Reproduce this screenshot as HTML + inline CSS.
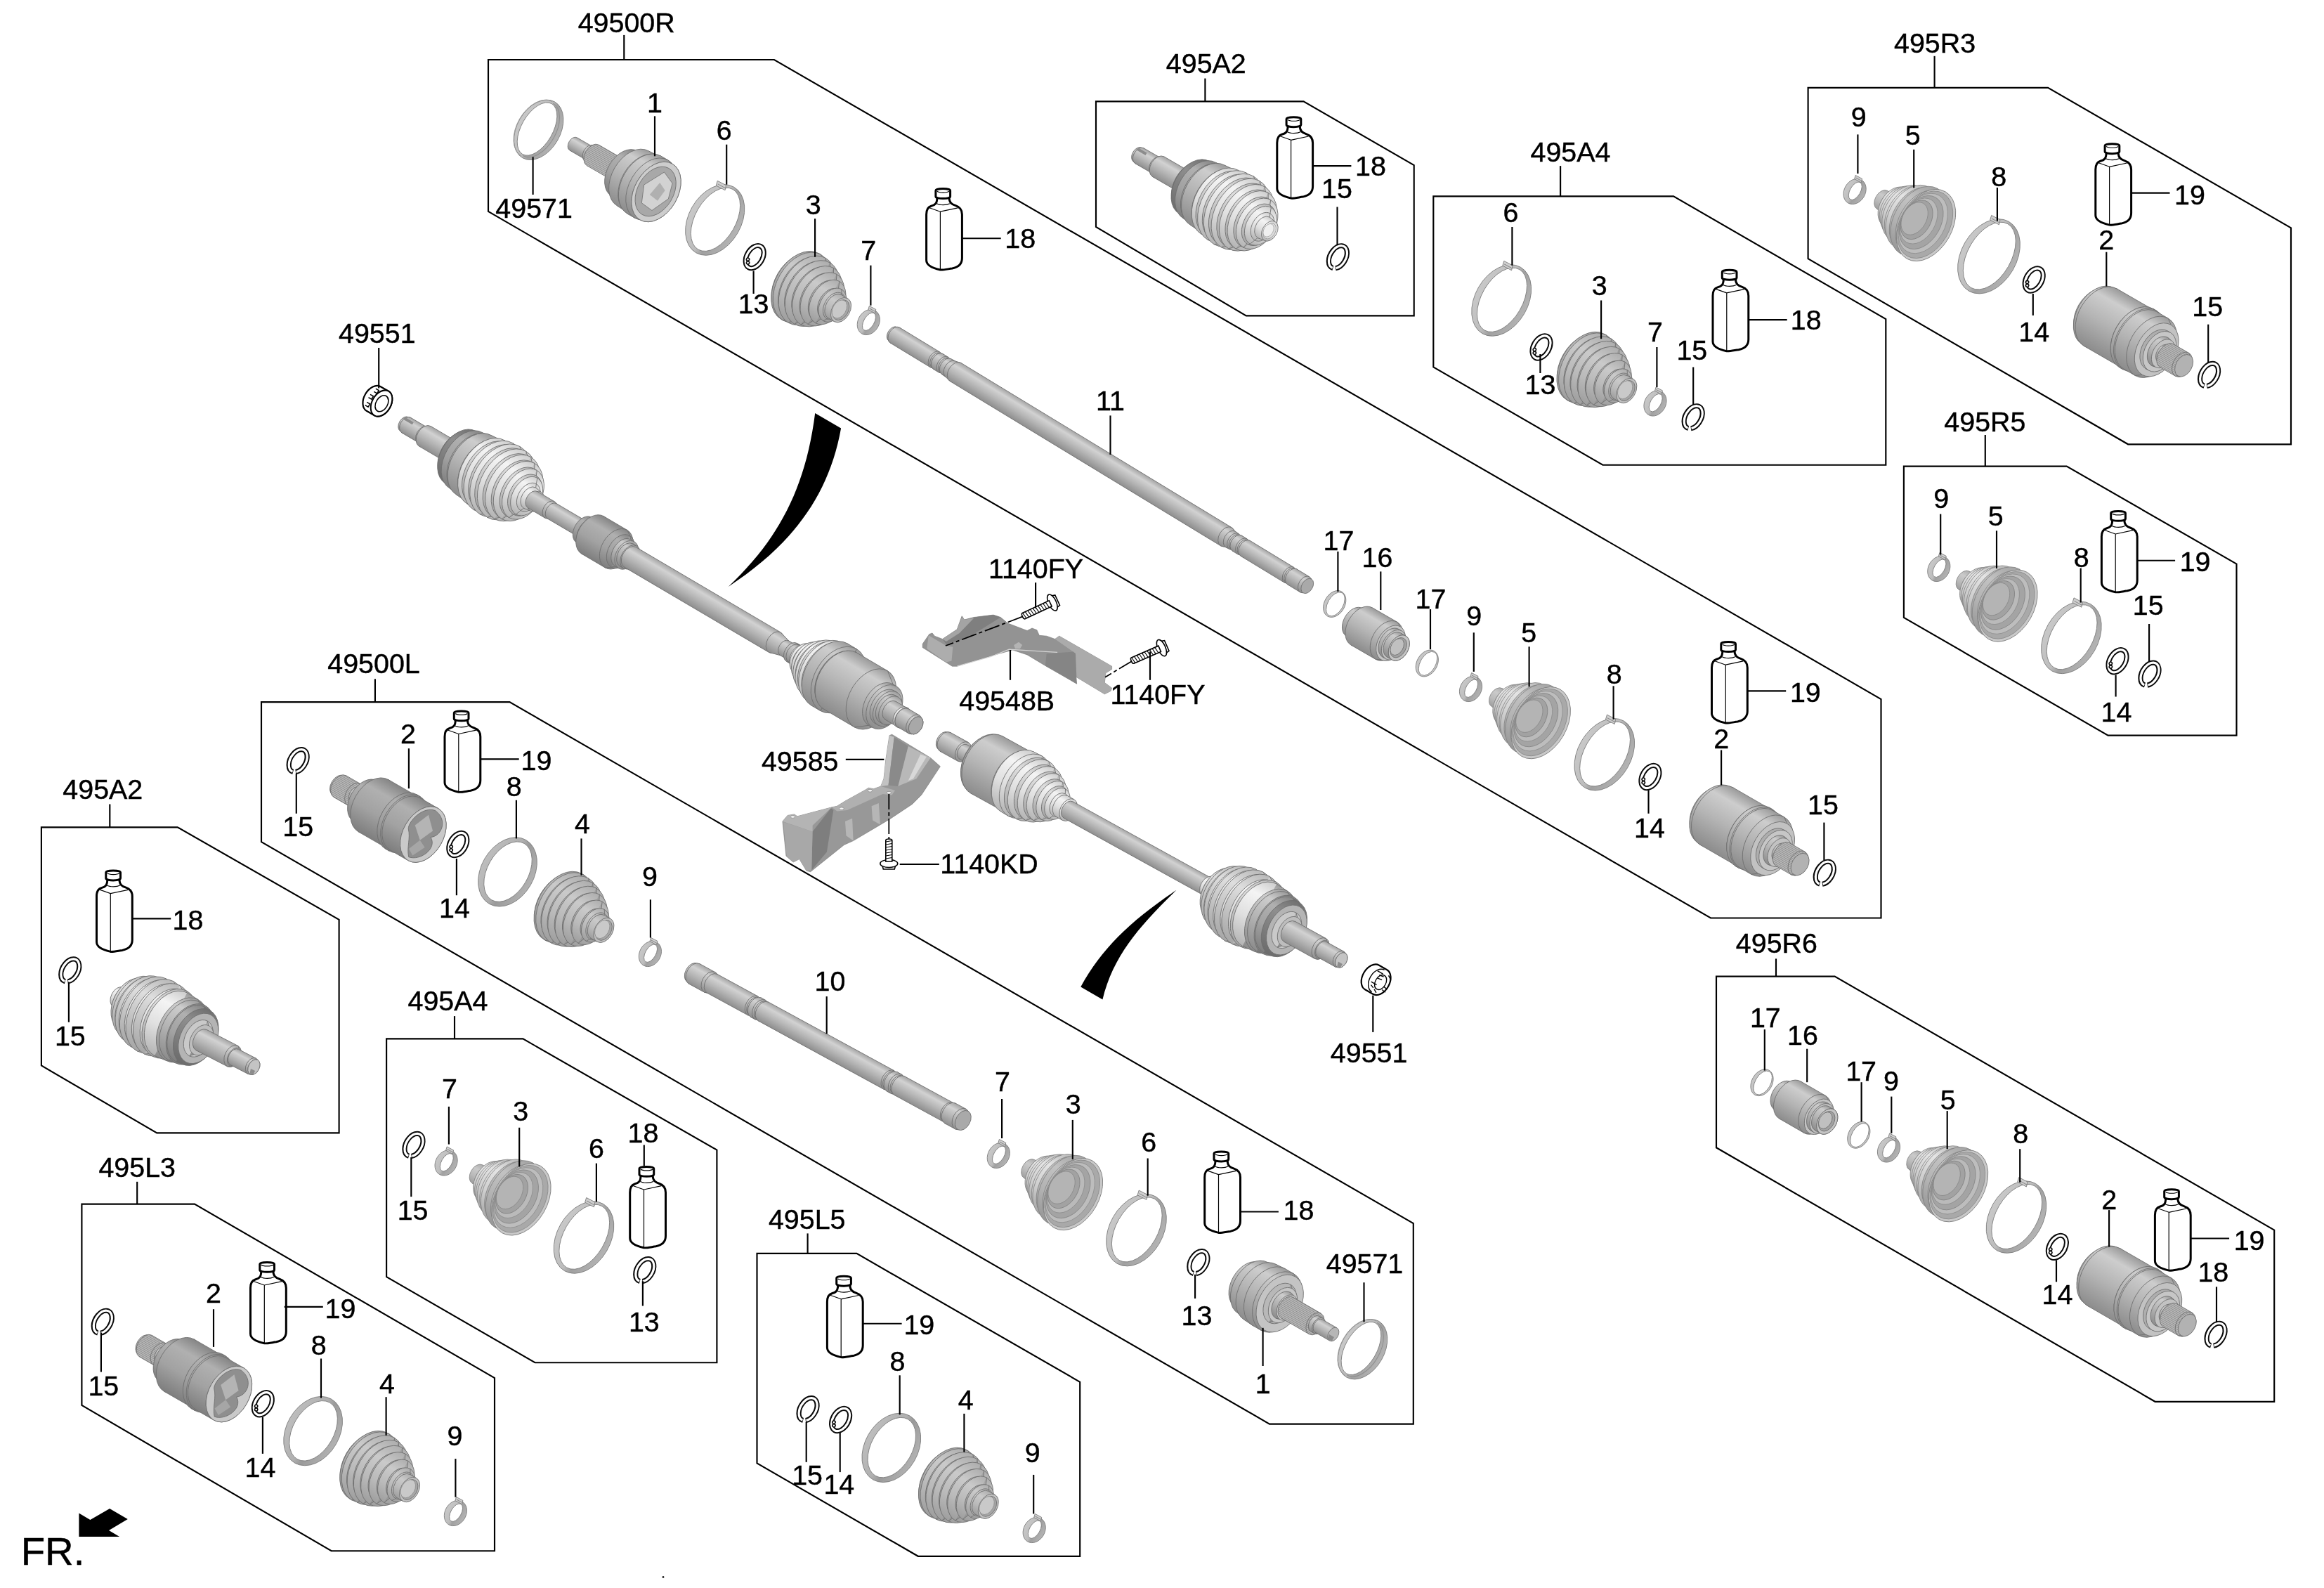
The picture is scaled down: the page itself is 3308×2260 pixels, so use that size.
<!DOCTYPE html>
<html><head><meta charset="utf-8"><title>Drive shaft (front) - exploded view</title>
<style>html,body{margin:0;padding:0;background:#fff;overflow:hidden}svg{display:block;will-change:transform}text{font-family:"Liberation Sans",Arial,sans-serif;fill:#000;stroke:#000;stroke-width:0.45px}</style></head><body>
<svg width="3308" height="2260" viewBox="0 0 3308 2260">
<defs>
<linearGradient id="gm" x1="0" y1="0" x2="0" y2="1"><stop offset="0" stop-color="#9a9a9a"/><stop offset=".2" stop-color="#cdcdcd"/><stop offset=".55" stop-color="#b4b4b4"/><stop offset="1" stop-color="#8c8c8c"/></linearGradient>
<linearGradient id="gd" x1="0" y1="0" x2="0" y2="1"><stop offset="0" stop-color="#858585"/><stop offset=".25" stop-color="#b0b0b0"/><stop offset=".6" stop-color="#a2a2a2"/><stop offset="1" stop-color="#7e7e7e"/></linearGradient>
<linearGradient id="gs" x1="0" y1="0" x2="0" y2="1"><stop offset="0" stop-color="#a4a4a4"/><stop offset=".25" stop-color="#d2d2d2"/><stop offset=".6" stop-color="#b4b4b4"/><stop offset="1" stop-color="#8e8e8e"/></linearGradient>
<linearGradient id="gb" x1="0" y1="0" x2="0" y2="1"><stop offset="0" stop-color="#adadad"/><stop offset=".3" stop-color="#cacaca"/><stop offset=".65" stop-color="#bababa"/><stop offset="1" stop-color="#9e9e9e"/></linearGradient>
<linearGradient id="gbd" x1="0" y1="0" x2="0" y2="1"><stop offset="0" stop-color="#9e9e9e"/><stop offset=".3" stop-color="#b8b8b8"/><stop offset="1" stop-color="#929292"/></linearGradient>
<linearGradient id="gdd" x1="0" y1="0" x2="0" y2="1"><stop offset="0" stop-color="#707070"/><stop offset=".3" stop-color="#8e8e8e"/><stop offset="1" stop-color="#6c6c6c"/></linearGradient>
<linearGradient id="gl" x1="0" y1="0" x2="0" y2="1"><stop offset="0" stop-color="#cdcdcd"/><stop offset=".25" stop-color="#f4f4f4"/><stop offset=".6" stop-color="#e0e0e0"/><stop offset="1" stop-color="#b4b4b4"/></linearGradient>
<linearGradient id="gld" x1="0" y1="0" x2="0" y2="1"><stop offset="0" stop-color="#b8b8b8"/><stop offset=".3" stop-color="#dedede"/><stop offset="1" stop-color="#a6a6a6"/></linearGradient>
<linearGradient id="gband" x1="0" y1="0" x2="1" y2="0"><stop offset="0" stop-color="#c8c8c8"/><stop offset=".45" stop-color="#bdbdbd"/><stop offset=".6" stop-color="#a0a0a0"/><stop offset="1" stop-color="#b4b4b4"/></linearGradient>
<linearGradient id="gband2" x1="0" y1="0" x2="1" y2="0"><stop offset="0" stop-color="#bdbdbd"/><stop offset=".45" stop-color="#b0b0b0"/><stop offset=".6" stop-color="#9a9a9a"/><stop offset="1" stop-color="#b2b2b2"/></linearGradient>
<pattern id="spl" width="6" height="2.4" patternUnits="userSpaceOnUse"><rect width="6" height="2.4" fill="#b6b6b6"/><rect width="6" height="0.8" fill="#8e8e8e"/></pattern>
<linearGradient id="gl2" x1="0" y1="0" x2="0" y2="1"><stop offset="0" stop-color="#b8b8b8"/><stop offset=".3" stop-color="#e4e4e4"/><stop offset=".65" stop-color="#cfcfcf"/><stop offset="1" stop-color="#a6a6a6"/></linearGradient>
<linearGradient id="gb2" x1="0" y1="0" x2="0" y2="1"><stop offset="0" stop-color="#a4a4a4"/><stop offset=".3" stop-color="#c2c2c2"/><stop offset=".65" stop-color="#b2b2b2"/><stop offset="1" stop-color="#969696"/></linearGradient>
</defs>
<rect width="3308" height="2260" fill="#fff"/>
<polygon points="695,85 1102,85 2677.5,995 2677.5,1306.5 2435,1306.5 695,301" fill="none" stroke="#000" stroke-width="2.15" stroke-linejoin="miter"/>
<polygon points="1560,144.4 1855.5,144.4 2012.7,235.1 2012.7,449.4 1773.8,449.4 1560,323" fill="none" stroke="#000" stroke-width="2.15" stroke-linejoin="miter"/>
<polygon points="2040.3,279.3 2382.1,279.3 2684.3,454.1 2684.3,661.7 2281.4,661.7 2040.3,522.5" fill="none" stroke="#000" stroke-width="2.15" stroke-linejoin="miter"/>
<polygon points="2573.6,124.9 2915.1,124.9 3261,324.4 3261,632.3 3029.1,632.3 2573.6,368.2" fill="none" stroke="#000" stroke-width="2.15" stroke-linejoin="miter"/>
<polygon points="2709.9,663.6 2941.7,663.6 3183.5,802.5 3183.5,1046.6 3000.6,1046.6 2709.9,878.9" fill="none" stroke="#000" stroke-width="2.15" stroke-linejoin="miter"/>
<polygon points="2443,1389.6 2611.6,1389.6 3237.2,1750.6 3237.2,1994.8 3067.6,1994.8 2443,1633.3" fill="none" stroke="#000" stroke-width="2.15" stroke-linejoin="miter"/>
<polygon points="372,999.1 725.4,999.1 2011.8,1741.1 2011.8,2026.6 1807,2026.6 372,1198.2" fill="none" stroke="#000" stroke-width="2.15" stroke-linejoin="miter"/>
<polygon points="58.9,1177.3 252.7,1177.3 482.6,1308.8 482.6,1612.4 223.3,1612.4 58.9,1516.5" fill="none" stroke="#000" stroke-width="2.15" stroke-linejoin="miter"/>
<polygon points="550.1,1478.4 744.4,1478.4 1020.4,1636.6 1020.4,1939.2 761.5,1939.2 550.1,1817.2" fill="none" stroke="#000" stroke-width="2.15" stroke-linejoin="miter"/>
<polygon points="116.4,1713.6 277,1713.6 704,1961.1 704,2207.2 471.7,2207.2 116.4,2000" fill="none" stroke="#000" stroke-width="2.15" stroke-linejoin="miter"/>
<polygon points="1077.5,1783.9 1219.4,1783.9 1537.2,1966.8 1537.2,2214.8 1306.8,2214.8 1077.5,2082.4" fill="none" stroke="#000" stroke-width="2.15" stroke-linejoin="miter"/>
<g transform="translate(766.7,184.8) rotate(30)">
<path d="M-30.8,0 A30.8,46 0 1,0 30.8,0 A30.8,46 0 1,0 -30.8,0 Z M-24.8,0 A22.3,41.5 0 1,1 19.8,0 A22.3,41.5 0 1,1 -24.8,0 Z" fill="url(#gband)" fill-rule="evenodd" stroke="#7a7a7a" stroke-width="0.8"/>
<path d="M-1,-43 A25.3,43 0 0,1 -1,43" fill="none" stroke="#8e8e8e" stroke-width="1"/><path d="M-3,-44.5 A28.3,44.5 0 0,0 -3,44.5" fill="none" stroke="#999" stroke-width="0.8"/>
</g>
<g transform="translate(934,273) rotate(30)">
<ellipse cx="-136" cy="0" rx="7" ry="10.5" fill="url(#gs)" stroke="#6e6e6e" stroke-width="0.8"/>
<path d="M-136,-10.5 L-110,-10.5 L-110,10.5 L-136,10.5 Z" fill="url(#gs)"/>
<path d="M-136,-10.5 L-110,-10.5 M-136,10.5 L-110,10.5" fill="none" stroke="#6e6e6e" stroke-width="0.8"/>
<ellipse cx="-110" cy="0" rx="7" ry="10.5" fill="url(#gs)" stroke="#6e6e6e" stroke-width="0.8"/>
<ellipse cx="-110" cy="0" rx="8.4" ry="12.5" fill="url(#gs)" stroke="#6e6e6e" stroke-width="0.8"/>
<path d="M-110,-12.5 L-104,-12.5 L-104,12.5 L-110,12.5 Z" fill="url(#gs)"/>
<path d="M-110,-12.5 L-104,-12.5 M-110,12.5 L-104,12.5" fill="none" stroke="#6e6e6e" stroke-width="0.8"/>
<ellipse cx="-104" cy="0" rx="8.4" ry="12.5" fill="url(#gs)" stroke="#6e6e6e" stroke-width="0.8"/>
<ellipse cx="-104" cy="0" rx="11.4" ry="17" fill="url(#spl)" stroke="#6e6e6e" stroke-width="0.8"/>
<path d="M-104,-17 L-52,-17 L-52,17 L-104,17 Z" fill="url(#spl)"/>
<path d="M-104,-17 L-52,-17 M-104,17 L-52,17" fill="none" stroke="#6e6e6e" stroke-width="0.8"/>
<ellipse cx="-52" cy="0" rx="11.4" ry="17" fill="url(#spl)" stroke="#6e6e6e" stroke-width="0.8"/>
<ellipse cx="-52" cy="0" rx="24.8" ry="37" fill="url(#gd)" stroke="#6e6e6e" stroke-width="0.8"/>
<path d="M-52,-37 L-38,-38 L-38,38 L-52,37 Z" fill="url(#gd)"/>
<path d="M-52,-37 L-38,-38 M-52,37 L-38,38" fill="none" stroke="#6e6e6e" stroke-width="0.8"/>
<ellipse cx="-38" cy="0" rx="25.5" ry="38" fill="url(#gd)" stroke="#6e6e6e" stroke-width="0.8"/>
<ellipse cx="-38" cy="0" rx="30.2" ry="45" fill="url(#gm)" stroke="#6e6e6e" stroke-width="0.8"/>
<path d="M-38,-45 L-22,-46 L-22,46 L-38,45 Z" fill="url(#gm)"/>
<path d="M-38,-45 L-22,-46 M-38,45 L-22,46" fill="none" stroke="#6e6e6e" stroke-width="0.8"/>
<ellipse cx="-22" cy="0" rx="30.8" ry="46" fill="url(#gm)" stroke="#6e6e6e" stroke-width="0.8"/>
<path d="M-22,-46 L-20,-47.5 L-20,47.5 L-22,46 Z" fill="url(#gm)"/>
<path d="M-22,-46 L-20,-47.5 M-22,46 L-20,47.5" fill="none" stroke="#6e6e6e" stroke-width="0.8"/>
<ellipse cx="-20" cy="0" rx="31.8" ry="47.5" fill="url(#gm)" stroke="#6e6e6e" stroke-width="0.8"/>
<path d="M-20,-47.5 L-8,-47.5 L-8,47.5 L-20,47.5 Z" fill="url(#gm)"/>
<path d="M-20,-47.5 L-8,-47.5 M-20,47.5 L-8,47.5" fill="none" stroke="#6e6e6e" stroke-width="0.8"/>
<ellipse cx="-8" cy="0" rx="31.8" ry="47.5" fill="url(#gm)" stroke="#6e6e6e" stroke-width="0.8"/>
<path d="M-8,-47.5 L0,-46 L0,46 L-8,47.5 Z" fill="url(#gm)"/>
<path d="M-8,-47.5 L0,-46 M-8,47.5 L0,46" fill="none" stroke="#6e6e6e" stroke-width="0.8"/>
<ellipse cx="0" cy="0" rx="30.8" ry="46" fill="url(#gm)" stroke="#6e6e6e" stroke-width="0.8"/>
<ellipse cx="0" cy="0" rx="30.8" ry="46" fill="#cdcdcd" stroke="#6e6e6e" stroke-width="0.8"/>
<ellipse cx="-1" cy="0" rx="25.5" ry="38" fill="#a8a8a8" stroke="#6e6e6e" stroke-width="0.8"/>
<path d="M-4,-30 L14,-22 L20,0 L8,26 L-10,24 L-20,0 Z" fill="#d2d2d2" stroke="#6e6e6e" stroke-width="0.7"/>
<path d="M-2,-14 L10,-8 L8,10 L-6,8 Z" fill="#b0b0b0"/>
</g>
<g transform="translate(1017.7,313) rotate(30)">
<path d="M-37.3,0 A37.3,54 0 1,0 37.3,0 A37.3,54 0 1,0 -37.3,0 Z M-28.6,-1 A28.9,49.4 0 1,1 29.2,-1 A28.9,49.4 0 1,1 -28.6,-1 Z" fill="url(#gband)" fill-rule="evenodd" stroke="#7a7a7a" stroke-width="0.8"/>
<path d="M-23.1,-43.2 l-1.6,-6.8 l13.8,-0.6 l2.2,6.8 Z" fill="#cfcfcf" stroke="#7a7a7a" stroke-width="0.8"/>
<path d="M-22,-46.3 l13.2,-0.3" stroke="#8a8a8a" stroke-width="1" fill="none"/>
</g>
<g transform="translate(1074.2,365.6) rotate(30)">
<path d="M-13.8,0 A13.8,20 0 1,0 13.8,0 A13.8,20 0 1,0 -13.8,0 Z M-8.6,0 A8.6,14.8 0 1,1 8.6,0 A8.6,14.8 0 1,1 -8.6,0 Z" fill="#fff" fill-rule="evenodd" stroke="#0a0a0a" stroke-width="2"/>
<circle cx="-4.2" cy="12" r="2.1" fill="#fff" stroke="#0a0a0a" stroke-width="1.6"/>
<circle cx="-6.6" cy="7.9" r="2.1" fill="#fff" stroke="#0a0a0a" stroke-width="1.6"/>
</g>
<g transform="translate(1141.6,409.2) rotate(30)">
<ellipse cx="-7" cy="0" rx="32.8" ry="49" fill="url(#gbd)" stroke="#6e6e6e" stroke-width="0.8"/>
<path d="M-7,-49 L-3,-54 L-3,54 L-7,49 Z" fill="url(#gbd)"/>
<path d="M-7,-49 L-3,-54 M-7,49 L-3,54" fill="none" stroke="#6e6e6e" stroke-width="0.8"/>
<ellipse cx="-3" cy="0" rx="36.2" ry="54" fill="url(#gbd)" stroke="#6e6e6e" stroke-width="0.8"/>
<path d="M-3,-54 L0,-54 L0,54 L-3,54 Z" fill="url(#gb)"/>
<path d="M-3,-54 L0,-54 M-3,54 L0,54" fill="none" stroke="#6e6e6e" stroke-width="0.8"/>
<ellipse cx="0" cy="0" rx="36.2" ry="54" fill="url(#gb)" stroke="#6e6e6e" stroke-width="0.8"/>
<path d="M0,-54 L4.6,-49.8 L4.6,49.8 L0,54 Z" fill="url(#gbd)"/>
<path d="M0,-54 L4.6,-49.8 M0,54 L4.6,49.8" fill="none" stroke="#6e6e6e" stroke-width="0.8"/>
<ellipse cx="4.6" cy="0" rx="33.3" ry="49.8" fill="url(#gbd)" stroke="#6e6e6e" stroke-width="0.8"/>
<path d="M4.6,-49.8 L8.3,-53.1 L8.3,53.1 L4.6,49.8 Z" fill="url(#gb)"/>
<path d="M4.6,-49.8 L8.3,-53.1 M4.6,49.8 L8.3,53.1" fill="none" stroke="#6e6e6e" stroke-width="0.8"/>
<ellipse cx="8.3" cy="0" rx="35.6" ry="53.1" fill="url(#gb)" stroke="#6e6e6e" stroke-width="0.8"/>
<path d="M8.3,-53.1 L12.9,-47.3 L12.9,47.3 L8.3,53.1 Z" fill="url(#gbd)"/>
<path d="M8.3,-53.1 L12.9,-47.3 M8.3,53.1 L12.9,47.3" fill="none" stroke="#6e6e6e" stroke-width="0.8"/>
<ellipse cx="12.9" cy="0" rx="31.7" ry="47.3" fill="url(#gbd)" stroke="#6e6e6e" stroke-width="0.8"/>
<path d="M12.9,-47.3 L16.7,-50.5 L16.7,50.5 L12.9,47.3 Z" fill="url(#gb)"/>
<path d="M12.9,-47.3 L16.7,-50.5 M12.9,47.3 L16.7,50.5" fill="none" stroke="#6e6e6e" stroke-width="0.8"/>
<ellipse cx="16.7" cy="0" rx="33.9" ry="50.5" fill="url(#gb)" stroke="#6e6e6e" stroke-width="0.8"/>
<path d="M16.7,-50.5 L21.2,-43.4 L21.2,43.4 L16.7,50.5 Z" fill="url(#gbd)"/>
<path d="M16.7,-50.5 L21.2,-43.4 M16.7,50.5 L21.2,43.4" fill="none" stroke="#6e6e6e" stroke-width="0.8"/>
<ellipse cx="21.2" cy="0" rx="29.1" ry="43.4" fill="url(#gbd)" stroke="#6e6e6e" stroke-width="0.8"/>
<path d="M21.2,-43.4 L25,-46.5 L25,46.5 L21.2,43.4 Z" fill="url(#gb)"/>
<path d="M21.2,-43.4 L25,-46.5 M21.2,43.4 L25,46.5" fill="none" stroke="#6e6e6e" stroke-width="0.8"/>
<ellipse cx="25" cy="0" rx="31.2" ry="46.5" fill="url(#gb)" stroke="#6e6e6e" stroke-width="0.8"/>
<path d="M25,-46.5 L29.6,-38.2 L29.6,38.2 L25,46.5 Z" fill="url(#gbd)"/>
<path d="M25,-46.5 L29.6,-38.2 M25,46.5 L29.6,38.2" fill="none" stroke="#6e6e6e" stroke-width="0.8"/>
<ellipse cx="29.6" cy="0" rx="25.6" ry="38.2" fill="url(#gbd)" stroke="#6e6e6e" stroke-width="0.8"/>
<path d="M29.6,-38.2 L33.3,-41 L33.3,41 L29.6,38.2 Z" fill="url(#gb)"/>
<path d="M29.6,-38.2 L33.3,-41 M29.6,38.2 L33.3,41" fill="none" stroke="#6e6e6e" stroke-width="0.8"/>
<ellipse cx="33.3" cy="0" rx="27.5" ry="41" fill="url(#gb)" stroke="#6e6e6e" stroke-width="0.8"/>
<path d="M33.3,-41 L37.9,-31.6 L37.9,31.6 L33.3,41 Z" fill="url(#gbd)"/>
<path d="M33.3,-41 L37.9,-31.6 M33.3,41 L37.9,31.6" fill="none" stroke="#6e6e6e" stroke-width="0.8"/>
<ellipse cx="37.9" cy="0" rx="21.1" ry="31.6" fill="url(#gbd)" stroke="#6e6e6e" stroke-width="0.8"/>
<path d="M37.9,-31.6 L41.7,-34.2 L41.7,34.2 L37.9,31.6 Z" fill="url(#gb)"/>
<path d="M37.9,-31.6 L41.7,-34.2 M37.9,31.6 L41.7,34.2" fill="none" stroke="#6e6e6e" stroke-width="0.8"/>
<ellipse cx="41.7" cy="0" rx="22.9" ry="34.2" fill="url(#gb)" stroke="#6e6e6e" stroke-width="0.8"/>
<path d="M41.7,-34.2 L46.2,-23.6 L46.2,23.6 L41.7,34.2 Z" fill="url(#gbd)"/>
<path d="M41.7,-34.2 L46.2,-23.6 M41.7,34.2 L46.2,23.6" fill="none" stroke="#6e6e6e" stroke-width="0.8"/>
<ellipse cx="46.2" cy="0" rx="15.8" ry="23.6" fill="url(#gbd)" stroke="#6e6e6e" stroke-width="0.8"/>
<path d="M46.2,-23.6 L50,-26 L50,26 L46.2,23.6 Z" fill="url(#gb)"/>
<path d="M46.2,-23.6 L50,-26 M46.2,23.6 L50,26" fill="none" stroke="#6e6e6e" stroke-width="0.8"/>
<ellipse cx="50" cy="0" rx="17.4" ry="26" fill="url(#gb)" stroke="#6e6e6e" stroke-width="0.8"/>
<path d="M50,-26 L53,-21 L53,21 L50,26 Z" fill="url(#gb)"/>
<path d="M50,-26 L53,-21 M50,26 L53,21" fill="none" stroke="#6e6e6e" stroke-width="0.8"/>
<ellipse cx="53" cy="0" rx="14.1" ry="21" fill="url(#gb)" stroke="#6e6e6e" stroke-width="0.8"/>
<path d="M53,-21 L54,-19 L54,19 L53,21 Z" fill="url(#gb)"/>
<path d="M53,-21 L54,-19 M53,21 L54,19" fill="none" stroke="#6e6e6e" stroke-width="0.8"/>
<ellipse cx="54" cy="0" rx="12.7" ry="19" fill="url(#gb)" stroke="#6e6e6e" stroke-width="0.8"/>
<path d="M54,-19 L64,-19 L64,19 L54,19 Z" fill="url(#gb)"/>
<path d="M54,-19 L64,-19 M54,19 L64,19" fill="none" stroke="#6e6e6e" stroke-width="0.8"/>
<ellipse cx="64" cy="0" rx="12.7" ry="19" fill="#bfbfbf" stroke="#6e6e6e" stroke-width="0.8"/>
<ellipse cx="64" cy="0" rx="10.4" ry="15.5" fill="#a6a6a6" stroke="#6e6e6e" stroke-width="0.8"/>
<ellipse cx="61.5" cy="0" rx="9.4" ry="14" fill="#c9c9c9" stroke="#909090" stroke-width="0.8"/>
</g>
<g transform="translate(1236.3,458.5) rotate(30)">
<path d="M-15,0 A15,19 0 1,0 15,0 A15,19 0 1,0 -15,0 Z M-7.2,-1 A7.4,14 0 1,1 7.6,-1 A7.4,14 0 1,1 -7.2,-1 Z" fill="url(#gband)" fill-rule="evenodd" stroke="#7a7a7a" stroke-width="0.8"/>
<path d="M-9.3,-15.2 l-1.3,-5.3 l10.6,-0.4 l1.7,5.3 Z" fill="#cfcfcf" stroke="#7a7a7a" stroke-width="0.8"/>
<path d="M-8.5,-17.6 l10.2,-0.3" stroke="#8a8a8a" stroke-width="1" fill="none"/>
</g>
<g transform="translate(1317.4,267.2)" fill="#fff" stroke="#000" stroke-width="3" stroke-linejoin="round">
<path d="M16.5,14 C16.5,22 14,24.5 8,26 C3,27.5 1.2,31 1.2,38 L1.2,103 C1.2,110 8,114 21,116.8 C24,117.3 30,116 38,114.8 C47,113 52,108 52,100 L52,38 C52,31 49,27.5 43,25.5 C37,23.5 34,21.5 33.5,14 Z"/>
<path d="M14.5,4 C14.5,0.5 35.2,0.5 35.2,4 L35.2,12.5 C35.2,16.3 14.5,16.3 14.5,12.5 Z"/>
<path d="M16.5,5 C19,7.6 31,7.6 33.5,5" fill="none" stroke-width="1.2"/>
<path d="M16,22.5 C20,25 30,25 34.5,22.5 M5.5,28.5 L21,34 L46,28.7 M21,34 L21,116.5" fill="none" stroke-width="1.2"/>
</g>
<g transform="translate(1899.7,859.5) rotate(30)">
<path d="M-14.5,0 A14.5,20.2 0 1,0 14.5,0 A14.5,20.2 0 1,0 -14.5,0 Z M-9.7,-0.3 A10.9,18.6 0 1,1 12.1,-0.3 A10.9,18.6 0 1,1 -9.7,-0.3 Z" fill="#c6c6c6" fill-rule="evenodd" stroke="#7a7a7a" stroke-width="0.8"/>
</g>
<g transform="translate(1938.3,891.5) rotate(30)">
<ellipse cx="-11.9" cy="0" rx="15.4" ry="22.9" fill="url(#gm)" stroke="#6e6e6e" stroke-width="0.8"/>
<path d="M-11.9,-22.9 L0,-22.9 L0,22.9 L-11.9,22.9 Z" fill="url(#gm)"/>
<path d="M-11.9,-22.9 L0,-22.9 M-11.9,22.9 L0,22.9" fill="none" stroke="#6e6e6e" stroke-width="0.8"/>
<ellipse cx="0" cy="0" rx="15.4" ry="22.9" fill="#b0b0b0" stroke="#6e6e6e" stroke-width="0.8"/>
<ellipse cx="0" cy="0" rx="20.5" ry="30.6" fill="url(#gm)" stroke="#6e6e6e" stroke-width="0.8"/>
<path d="M0,-30.6 L40.8,-30.6 L40.8,30.6 L0,30.6 Z" fill="url(#gm)"/>
<path d="M0,-30.6 L40.8,-30.6 M0,30.6 L40.8,30.6" fill="none" stroke="#6e6e6e" stroke-width="0.8"/>
<ellipse cx="40.8" cy="0" rx="20.5" ry="30.6" fill="url(#gm)" stroke="#6e6e6e" stroke-width="0.8"/>
<path d="M40.8,-30.6 L47.6,-27.2 L47.6,27.2 L40.8,30.6 Z" fill="url(#gm)"/>
<path d="M40.8,-30.6 L47.6,-27.2 M40.8,30.6 L47.6,27.2" fill="none" stroke="#6e6e6e" stroke-width="0.8"/>
<ellipse cx="47.6" cy="0" rx="18.2" ry="27.2" fill="#c4c4c4" stroke="#6e6e6e" stroke-width="0.8"/>
<ellipse cx="47.6" cy="0" rx="15.4" ry="22.9" fill="url(#gm)" stroke="#6e6e6e" stroke-width="0.8"/>
<path d="M47.6,-22.9 L52.7,-22.9 L52.7,22.9 L47.6,22.9 Z" fill="url(#gm)"/>
<path d="M47.6,-22.9 L52.7,-22.9 M47.6,22.9 L52.7,22.9" fill="none" stroke="#6e6e6e" stroke-width="0.8"/>
<ellipse cx="52.7" cy="0" rx="15.4" ry="22.9" fill="#c0c0c0" stroke="#6e6e6e" stroke-width="0.8"/>
<ellipse cx="52.7" cy="0" rx="13.1" ry="19.6" fill="url(#gm)" stroke="#6e6e6e" stroke-width="0.8"/>
<path d="M52.7,-19.6 L61.2,-19.6 L61.2,19.6 L52.7,19.6 Z" fill="url(#gm)"/>
<path d="M52.7,-19.6 L61.2,-19.6 M52.7,19.6 L61.2,19.6" fill="none" stroke="#6e6e6e" stroke-width="0.8"/>
<ellipse cx="61.2" cy="0" rx="13.1" ry="19.6" fill="url(#gm)" stroke="#6e6e6e" stroke-width="0.8"/>
<ellipse cx="61.2" cy="0" rx="13.1" ry="19.6" fill="#c4c4c4" stroke="#6e6e6e" stroke-width="0.8"/>
<ellipse cx="60.4" cy="0" rx="10.3" ry="15.3" fill="#a2a2a2" stroke="#6e6e6e" stroke-width="0.8"/>
<ellipse cx="58.2" cy="0" rx="8.5" ry="12.8" fill="#c0c0c0" stroke="#6e6e6e" stroke-width="0.8"/>
</g>
<g transform="translate(2031.3,944) rotate(30)">
<path d="M-14.5,0 A14.5,20.2 0 1,0 14.5,0 A14.5,20.2 0 1,0 -14.5,0 Z M-9.7,-0.3 A10.9,18.6 0 1,1 12.1,-0.3 A10.9,18.6 0 1,1 -9.7,-0.3 Z" fill="#c6c6c6" fill-rule="evenodd" stroke="#7a7a7a" stroke-width="0.8"/>
</g>
<g transform="translate(2093.5,980.5) rotate(30)">
<path d="M-15,0 A15,19 0 1,0 15,0 A15,19 0 1,0 -15,0 Z M-7.2,-1 A7.4,14 0 1,1 7.6,-1 A7.4,14 0 1,1 -7.2,-1 Z" fill="url(#gband)" fill-rule="evenodd" stroke="#7a7a7a" stroke-width="0.8"/>
<path d="M-9.3,-15.2 l-1.3,-5.3 l10.6,-0.4 l1.7,5.3 Z" fill="#cfcfcf" stroke="#7a7a7a" stroke-width="0.8"/>
<path d="M-8.5,-17.6 l10.2,-0.3" stroke="#8a8a8a" stroke-width="1" fill="none"/>
</g>
<g transform="translate(2193.3,1028.7) rotate(30)">
<ellipse cx="-72" cy="0" rx="10.1" ry="15" fill="url(#gb)" stroke="#808080" stroke-width="0.7"/>
<path d="M-72,-15 L-58,-15 L-58,15 L-72,15 Z" fill="url(#gb)"/>
<path d="M-72,-15 L-58,-15 M-72,15 L-58,15" fill="none" stroke="#808080" stroke-width="0.7"/>
<ellipse cx="-58" cy="0" rx="10.1" ry="15" fill="url(#gb)" stroke="#808080" stroke-width="0.7"/>
<ellipse cx="-58" cy="0" rx="14.7" ry="22" fill="url(#gl2)" stroke="#808080" stroke-width="0.7"/>
<path d="M-58,-22 L-52.2,-30.5 L-52.2,30.5 L-58,22 Z" fill="url(#gl2)"/>
<path d="M-58,-22 L-52.2,-30.5 M-58,22 L-52.2,30.5" fill="none" stroke="#808080" stroke-width="0.7"/>
<ellipse cx="-52.2" cy="0" rx="20.4" ry="30.5" fill="url(#gl2)" stroke="#808080" stroke-width="0.7"/>
<path d="M-52.2,-30.5 L-46.4,-34.3 L-46.4,34.3 L-52.2,30.5 Z" fill="url(#gl2)"/>
<path d="M-52.2,-30.5 L-46.4,-34.3 M-52.2,30.5 L-46.4,34.3" fill="none" stroke="#808080" stroke-width="0.7"/>
<ellipse cx="-46.4" cy="0" rx="23" ry="34.3" fill="url(#gl2)" stroke="#808080" stroke-width="0.7"/>
<path d="M-46.4,-34.3 L-40.6,-38.5 L-40.6,38.5 L-46.4,34.3 Z" fill="url(#gl2)"/>
<path d="M-46.4,-34.3 L-40.6,-38.5 M-46.4,34.3 L-40.6,38.5" fill="none" stroke="#808080" stroke-width="0.7"/>
<ellipse cx="-40.6" cy="0" rx="25.8" ry="38.5" fill="url(#gl2)" stroke="#808080" stroke-width="0.7"/>
<path d="M-40.6,-38.5 L-34.8,-42.6 L-34.8,42.6 L-40.6,38.5 Z" fill="url(#gl2)"/>
<path d="M-40.6,-38.5 L-34.8,-42.6 M-40.6,38.5 L-34.8,42.6" fill="none" stroke="#808080" stroke-width="0.7"/>
<ellipse cx="-34.8" cy="0" rx="28.6" ry="42.6" fill="url(#gl2)" stroke="#808080" stroke-width="0.7"/>
<path d="M-34.8,-42.6 L-29,-44.7 L-29,44.7 L-34.8,42.6 Z" fill="url(#gl2)"/>
<path d="M-34.8,-42.6 L-29,-44.7 M-34.8,42.6 L-29,44.7" fill="none" stroke="#808080" stroke-width="0.7"/>
<ellipse cx="-29" cy="0" rx="29.9" ry="44.7" fill="url(#gl2)" stroke="#808080" stroke-width="0.7"/>
<path d="M-29,-44.7 L-23.2,-49 L-23.2,49 L-29,44.7 Z" fill="url(#gl2)"/>
<path d="M-29,-44.7 L-23.2,-49 M-29,44.7 L-23.2,49" fill="none" stroke="#808080" stroke-width="0.7"/>
<ellipse cx="-23.2" cy="0" rx="32.9" ry="49" fill="url(#gl2)" stroke="#808080" stroke-width="0.7"/>
<path d="M-23.2,-49 L-17.4,-48.8 L-17.4,48.8 L-23.2,49 Z" fill="url(#gb2)"/>
<path d="M-23.2,-49 L-17.4,-48.8 M-23.2,49 L-17.4,48.8" fill="none" stroke="#808080" stroke-width="0.7"/>
<ellipse cx="-17.4" cy="0" rx="32.7" ry="48.8" fill="url(#gb2)" stroke="#808080" stroke-width="0.7"/>
<path d="M-17.4,-48.8 L-11.6,-53.3 L-11.6,53.3 L-17.4,48.8 Z" fill="url(#gb2)"/>
<path d="M-17.4,-48.8 L-11.6,-53.3 M-17.4,48.8 L-11.6,53.3" fill="none" stroke="#808080" stroke-width="0.7"/>
<ellipse cx="-11.6" cy="0" rx="35.7" ry="53.3" fill="url(#gb2)" stroke="#808080" stroke-width="0.7"/>
<path d="M-11.6,-53.3 L-5.8,-50.4 L-5.8,50.4 L-11.6,53.3 Z" fill="url(#gb2)"/>
<path d="M-11.6,-53.3 L-5.8,-50.4 M-11.6,53.3 L-5.8,50.4" fill="none" stroke="#808080" stroke-width="0.7"/>
<ellipse cx="-5.8" cy="0" rx="33.8" ry="50.4" fill="url(#gb2)" stroke="#808080" stroke-width="0.7"/>
<ellipse cx="0" cy="0" rx="36.9" ry="55" fill="#c9c9c9" stroke="#7c7c7c" stroke-width="0.8"/>
<ellipse cx="-1.5" cy="0" rx="34.5" ry="51.5" fill="#a9a9a9" stroke="#858585" stroke-width="0.7"/>
<ellipse cx="-5" cy="0" rx="30.8" ry="46" fill="#bdbdbd" stroke="#8a8a8a" stroke-width="0.7"/>
<ellipse cx="-8" cy="0" rx="27.5" ry="41" fill="#a4a4a4" stroke="#808080" stroke-width="0.7"/>
<ellipse cx="-12" cy="0" rx="23.5" ry="35" fill="#bababa" stroke="#8a8a8a" stroke-width="0.7"/>
<ellipse cx="-15.5" cy="0" rx="20.1" ry="30" fill="#a2a2a2" stroke="#7c7c7c" stroke-width="0.7"/>
<ellipse cx="-19" cy="0" rx="16.8" ry="25" fill="#b4b4b4" stroke="#858585" stroke-width="0.7"/>
</g>
<g transform="translate(2283.8,1073.7) rotate(30)">
<path d="M-37.9,0 A37.9,55 0 1,0 37.9,0 A37.9,55 0 1,0 -37.9,0 Z M-29.2,-1 A29.5,50.4 0 1,1 29.8,-1 A29.5,50.4 0 1,1 -29.2,-1 Z" fill="url(#gband)" fill-rule="evenodd" stroke="#7a7a7a" stroke-width="0.8"/>
<path d="M-23.5,-44 l-1.6,-6.8 l13.8,-0.6 l2.2,6.8 Z" fill="#cfcfcf" stroke="#7a7a7a" stroke-width="0.8"/>
<path d="M-22.4,-47.1 l13.2,-0.3" stroke="#8a8a8a" stroke-width="1" fill="none"/>
</g>
<g transform="translate(2348.9,1105.5) rotate(30)">
<path d="M-13.8,0 A13.8,20 0 1,0 13.8,0 A13.8,20 0 1,0 -13.8,0 Z M-8.6,0 A8.6,14.8 0 1,1 8.6,0 A8.6,14.8 0 1,1 -8.6,0 Z" fill="#fff" fill-rule="evenodd" stroke="#0a0a0a" stroke-width="2"/>
<circle cx="-4.2" cy="12" r="2.1" fill="#fff" stroke="#0a0a0a" stroke-width="1.6"/>
<circle cx="-6.6" cy="7.9" r="2.1" fill="#fff" stroke="#0a0a0a" stroke-width="1.6"/>
</g>
<g transform="translate(2435.3,912.2)" fill="#fff" stroke="#000" stroke-width="3" stroke-linejoin="round">
<path d="M16.5,14 C16.5,22 14,24.5 8,26 C3,27.5 1.2,31 1.2,38 L1.2,103 C1.2,110 8,114 21,116.8 C24,117.3 30,116 38,114.8 C47,113 52,108 52,100 L52,38 C52,31 49,27.5 43,25.5 C37,23.5 34,21.5 33.5,14 Z"/>
<path d="M14.5,4 C14.5,0.5 35.2,0.5 35.2,4 L35.2,12.5 C35.2,16.3 14.5,16.3 14.5,12.5 Z"/>
<path d="M16.5,5 C19,7.6 31,7.6 33.5,5" fill="none" stroke-width="1.2"/>
<path d="M16,22.5 C20,25 30,25 34.5,22.5 M5.5,28.5 L21,34 L46,28.7 M21,34 L21,116.5" fill="none" stroke-width="1.2"/>
</g>
<g transform="translate(2440,1159.6) rotate(30)">
<ellipse cx="-5" cy="0" rx="26.8" ry="40" fill="url(#gm)" stroke="#6e6e6e" stroke-width="0.8"/>
<path d="M-5,-40 L0,-46 L0,46 L-5,40 Z" fill="url(#gm)"/>
<path d="M-5,-40 L0,-46 M-5,40 L0,46" fill="none" stroke="#6e6e6e" stroke-width="0.8"/>
<ellipse cx="0" cy="0" rx="30.8" ry="46" fill="url(#gm)" stroke="#6e6e6e" stroke-width="0.8"/>
<path d="M0,-46 L4,-47 L4,47 L0,46 Z" fill="url(#gm)"/>
<path d="M0,-46 L4,-47 M0,46 L4,47" fill="none" stroke="#6e6e6e" stroke-width="0.8"/>
<ellipse cx="4" cy="0" rx="31.5" ry="47" fill="url(#gm)" stroke="#6e6e6e" stroke-width="0.8"/>
<path d="M4,-47 L62,-47 L62,47 L4,47 Z" fill="url(#gm)"/>
<path d="M4,-47 L62,-47 M4,47 L62,47" fill="none" stroke="#6e6e6e" stroke-width="0.8"/>
<ellipse cx="62" cy="0" rx="31.5" ry="47" fill="url(#gm)" stroke="#6e6e6e" stroke-width="0.8"/>
<path d="M62,-47 L63,-48.2 L63,48.2 L62,47 Z" fill="url(#gm)"/>
<path d="M62,-47 L63,-48.2 M62,47 L63,48.2" fill="none" stroke="#6e6e6e" stroke-width="0.8"/>
<ellipse cx="63" cy="0" rx="32.3" ry="48.2" fill="url(#gm)" stroke="#6e6e6e" stroke-width="0.8"/>
<path d="M63,-48.2 L68,-48.2 L68,48.2 L63,48.2 Z" fill="url(#gm)"/>
<path d="M63,-48.2 L68,-48.2 M63,48.2 L68,48.2" fill="none" stroke="#6e6e6e" stroke-width="0.8"/>
<ellipse cx="68" cy="0" rx="32.3" ry="48.2" fill="url(#gm)" stroke="#6e6e6e" stroke-width="0.8"/>
<path d="M68,-48.2 L69,-47 L69,47 L68,48.2 Z" fill="url(#gm)"/>
<path d="M68,-48.2 L69,-47 M68,48.2 L69,47" fill="none" stroke="#6e6e6e" stroke-width="0.8"/>
<ellipse cx="69" cy="0" rx="31.5" ry="47" fill="url(#gm)" stroke="#6e6e6e" stroke-width="0.8"/>
<path d="M69,-47 L88,-47 L88,47 L69,47 Z" fill="url(#gm)"/>
<path d="M69,-47 L88,-47 M69,47 L88,47" fill="none" stroke="#6e6e6e" stroke-width="0.8"/>
<ellipse cx="88" cy="0" rx="31.5" ry="47" fill="url(#gm)" stroke="#6e6e6e" stroke-width="0.8"/>
<path d="M88,-47 L96,-41 L96,41 L88,47 Z" fill="url(#gm)"/>
<path d="M88,-47 L96,-41 M88,47 L96,41" fill="none" stroke="#6e6e6e" stroke-width="0.8"/>
<ellipse cx="96" cy="0" rx="27.5" ry="41" fill="#c2c2c2" stroke="#6e6e6e" stroke-width="0.8"/>
<ellipse cx="96" cy="0" rx="20.8" ry="31" fill="#aeaeae" stroke="#6e6e6e" stroke-width="0.8"/>
<path d="M96,-31 L101,-31 L101,31 L96,31 Z" fill="url(#gm)"/>
<path d="M96,-31 L101,-31 M96,31 L101,31" fill="none" stroke="#6e6e6e" stroke-width="0.8"/>
<ellipse cx="101" cy="0" rx="20.8" ry="31" fill="#c6c6c6" stroke="#6e6e6e" stroke-width="0.8"/>
<ellipse cx="101" cy="0" rx="15.4" ry="23" fill="url(#gm)" stroke="#6e6e6e" stroke-width="0.8"/>
<path d="M101,-23 L107,-22 L107,22 L101,23 Z" fill="url(#gm)"/>
<path d="M101,-23 L107,-22 M101,23 L107,22" fill="none" stroke="#6e6e6e" stroke-width="0.8"/>
<ellipse cx="107" cy="0" rx="14.7" ry="22" fill="#c2c2c2" stroke="#6e6e6e" stroke-width="0.8"/>
<ellipse cx="107" cy="0" rx="9.4" ry="14" fill="url(#gs)" stroke="#6e6e6e" stroke-width="0.8"/>
<path d="M107,-14 L113,-14 L113,14 L107,14 Z" fill="url(#gs)"/>
<path d="M107,-14 L113,-14 M107,14 L113,14" fill="none" stroke="#6e6e6e" stroke-width="0.8"/>
<ellipse cx="113" cy="0" rx="9.4" ry="14" fill="url(#gs)" stroke="#6e6e6e" stroke-width="0.8"/>
<ellipse cx="113" cy="0" rx="12.7" ry="19" fill="url(#spl)" stroke="#6e6e6e" stroke-width="0.8"/>
<path d="M113,-19 L138,-19 L138,19 L113,19 Z" fill="url(#spl)"/>
<path d="M113,-19 L138,-19 M113,19 L138,19" fill="none" stroke="#6e6e6e" stroke-width="0.8"/>
<ellipse cx="138" cy="0" rx="12.7" ry="19" fill="url(#spl)" stroke="#6e6e6e" stroke-width="0.8"/>
<path d="M138,-19 L141,-17 L141,17 L138,19 Z" fill="url(#gs)"/>
<path d="M138,-19 L141,-17 M138,19 L141,17" fill="none" stroke="#6e6e6e" stroke-width="0.8"/>
<ellipse cx="141" cy="0" rx="11.4" ry="17" fill="#b2b2b2" stroke="#6e6e6e" stroke-width="0.8"/>
</g>
<g transform="translate(2597.3,1242.3) rotate(30)">
<path d="M1.8,17.2 A11.2,17.4 0 1,1 5.1,15.5" fill="none" stroke="#0a0a0a" stroke-width="7.2"/>
<path d="M1.1,17.3 A11.2,17.4 0 1,1 5.7,15" fill="none" stroke="#fff" stroke-width="3.2"/>
</g>
<g transform="translate(1816.6,165.3)" fill="#fff" stroke="#000" stroke-width="3" stroke-linejoin="round">
<path d="M16.5,14 C16.5,22 14,24.5 8,26 C3,27.5 1.2,31 1.2,38 L1.2,103 C1.2,110 8,114 21,116.8 C24,117.3 30,116 38,114.8 C47,113 52,108 52,100 L52,38 C52,31 49,27.5 43,25.5 C37,23.5 34,21.5 33.5,14 Z"/>
<path d="M14.5,4 C14.5,0.5 35.2,0.5 35.2,4 L35.2,12.5 C35.2,16.3 14.5,16.3 14.5,12.5 Z"/>
<path d="M16.5,5 C19,7.6 31,7.6 33.5,5" fill="none" stroke-width="1.2"/>
<path d="M16,22.5 C20,25 30,25 34.5,22.5 M5.5,28.5 L21,34 L46,28.7 M21,34 L21,116.5" fill="none" stroke-width="1.2"/>
</g>
<g transform="translate(1904.4,365.8) rotate(30)">
<path d="M1.8,17.2 A11.2,17.4 0 1,1 5.1,15.5" fill="none" stroke="#0a0a0a" stroke-width="7.2"/>
<path d="M1.1,17.3 A11.2,17.4 0 1,1 5.7,15" fill="none" stroke="#fff" stroke-width="3.2"/>
</g>
<g transform="translate(2137.2,427.5) rotate(30)">
<path d="M-37.6,0 A37.6,54.5 0 1,0 37.6,0 A37.6,54.5 0 1,0 -37.6,0 Z M-28.9,-1 A29.2,49.9 0 1,1 29.5,-1 A29.2,49.9 0 1,1 -28.9,-1 Z" fill="url(#gband)" fill-rule="evenodd" stroke="#7a7a7a" stroke-width="0.8"/>
<path d="M-23.3,-43.6 l-1.6,-6.8 l13.8,-0.6 l2.2,6.8 Z" fill="#cfcfcf" stroke="#7a7a7a" stroke-width="0.8"/>
<path d="M-22.2,-46.7 l13.2,-0.3" stroke="#8a8a8a" stroke-width="1" fill="none"/>
</g>
<g transform="translate(2194,494) rotate(30)">
<path d="M-13.8,0 A13.8,20 0 1,0 13.8,0 A13.8,20 0 1,0 -13.8,0 Z M-8.6,0 A8.6,14.8 0 1,1 8.6,0 A8.6,14.8 0 1,1 -8.6,0 Z" fill="#fff" fill-rule="evenodd" stroke="#0a0a0a" stroke-width="2"/>
<circle cx="-4.2" cy="12" r="2.1" fill="#fff" stroke="#0a0a0a" stroke-width="1.6"/>
<circle cx="-6.6" cy="7.9" r="2.1" fill="#fff" stroke="#0a0a0a" stroke-width="1.6"/>
</g>
<g transform="translate(2259.9,524) rotate(30)">
<ellipse cx="-7" cy="0" rx="32.8" ry="49" fill="url(#gbd)" stroke="#6e6e6e" stroke-width="0.8"/>
<path d="M-7,-49 L-3,-54 L-3,54 L-7,49 Z" fill="url(#gbd)"/>
<path d="M-7,-49 L-3,-54 M-7,49 L-3,54" fill="none" stroke="#6e6e6e" stroke-width="0.8"/>
<ellipse cx="-3" cy="0" rx="36.2" ry="54" fill="url(#gbd)" stroke="#6e6e6e" stroke-width="0.8"/>
<path d="M-3,-54 L0,-54 L0,54 L-3,54 Z" fill="url(#gb)"/>
<path d="M-3,-54 L0,-54 M-3,54 L0,54" fill="none" stroke="#6e6e6e" stroke-width="0.8"/>
<ellipse cx="0" cy="0" rx="36.2" ry="54" fill="url(#gb)" stroke="#6e6e6e" stroke-width="0.8"/>
<path d="M0,-54 L4.6,-49.8 L4.6,49.8 L0,54 Z" fill="url(#gbd)"/>
<path d="M0,-54 L4.6,-49.8 M0,54 L4.6,49.8" fill="none" stroke="#6e6e6e" stroke-width="0.8"/>
<ellipse cx="4.6" cy="0" rx="33.3" ry="49.8" fill="url(#gbd)" stroke="#6e6e6e" stroke-width="0.8"/>
<path d="M4.6,-49.8 L8.3,-53.1 L8.3,53.1 L4.6,49.8 Z" fill="url(#gb)"/>
<path d="M4.6,-49.8 L8.3,-53.1 M4.6,49.8 L8.3,53.1" fill="none" stroke="#6e6e6e" stroke-width="0.8"/>
<ellipse cx="8.3" cy="0" rx="35.6" ry="53.1" fill="url(#gb)" stroke="#6e6e6e" stroke-width="0.8"/>
<path d="M8.3,-53.1 L12.9,-47.3 L12.9,47.3 L8.3,53.1 Z" fill="url(#gbd)"/>
<path d="M8.3,-53.1 L12.9,-47.3 M8.3,53.1 L12.9,47.3" fill="none" stroke="#6e6e6e" stroke-width="0.8"/>
<ellipse cx="12.9" cy="0" rx="31.7" ry="47.3" fill="url(#gbd)" stroke="#6e6e6e" stroke-width="0.8"/>
<path d="M12.9,-47.3 L16.7,-50.5 L16.7,50.5 L12.9,47.3 Z" fill="url(#gb)"/>
<path d="M12.9,-47.3 L16.7,-50.5 M12.9,47.3 L16.7,50.5" fill="none" stroke="#6e6e6e" stroke-width="0.8"/>
<ellipse cx="16.7" cy="0" rx="33.9" ry="50.5" fill="url(#gb)" stroke="#6e6e6e" stroke-width="0.8"/>
<path d="M16.7,-50.5 L21.2,-43.4 L21.2,43.4 L16.7,50.5 Z" fill="url(#gbd)"/>
<path d="M16.7,-50.5 L21.2,-43.4 M16.7,50.5 L21.2,43.4" fill="none" stroke="#6e6e6e" stroke-width="0.8"/>
<ellipse cx="21.2" cy="0" rx="29.1" ry="43.4" fill="url(#gbd)" stroke="#6e6e6e" stroke-width="0.8"/>
<path d="M21.2,-43.4 L25,-46.5 L25,46.5 L21.2,43.4 Z" fill="url(#gb)"/>
<path d="M21.2,-43.4 L25,-46.5 M21.2,43.4 L25,46.5" fill="none" stroke="#6e6e6e" stroke-width="0.8"/>
<ellipse cx="25" cy="0" rx="31.2" ry="46.5" fill="url(#gb)" stroke="#6e6e6e" stroke-width="0.8"/>
<path d="M25,-46.5 L29.6,-38.2 L29.6,38.2 L25,46.5 Z" fill="url(#gbd)"/>
<path d="M25,-46.5 L29.6,-38.2 M25,46.5 L29.6,38.2" fill="none" stroke="#6e6e6e" stroke-width="0.8"/>
<ellipse cx="29.6" cy="0" rx="25.6" ry="38.2" fill="url(#gbd)" stroke="#6e6e6e" stroke-width="0.8"/>
<path d="M29.6,-38.2 L33.3,-41 L33.3,41 L29.6,38.2 Z" fill="url(#gb)"/>
<path d="M29.6,-38.2 L33.3,-41 M29.6,38.2 L33.3,41" fill="none" stroke="#6e6e6e" stroke-width="0.8"/>
<ellipse cx="33.3" cy="0" rx="27.5" ry="41" fill="url(#gb)" stroke="#6e6e6e" stroke-width="0.8"/>
<path d="M33.3,-41 L37.9,-31.6 L37.9,31.6 L33.3,41 Z" fill="url(#gbd)"/>
<path d="M33.3,-41 L37.9,-31.6 M33.3,41 L37.9,31.6" fill="none" stroke="#6e6e6e" stroke-width="0.8"/>
<ellipse cx="37.9" cy="0" rx="21.1" ry="31.6" fill="url(#gbd)" stroke="#6e6e6e" stroke-width="0.8"/>
<path d="M37.9,-31.6 L41.7,-34.2 L41.7,34.2 L37.9,31.6 Z" fill="url(#gb)"/>
<path d="M37.9,-31.6 L41.7,-34.2 M37.9,31.6 L41.7,34.2" fill="none" stroke="#6e6e6e" stroke-width="0.8"/>
<ellipse cx="41.7" cy="0" rx="22.9" ry="34.2" fill="url(#gb)" stroke="#6e6e6e" stroke-width="0.8"/>
<path d="M41.7,-34.2 L46.2,-23.6 L46.2,23.6 L41.7,34.2 Z" fill="url(#gbd)"/>
<path d="M41.7,-34.2 L46.2,-23.6 M41.7,34.2 L46.2,23.6" fill="none" stroke="#6e6e6e" stroke-width="0.8"/>
<ellipse cx="46.2" cy="0" rx="15.8" ry="23.6" fill="url(#gbd)" stroke="#6e6e6e" stroke-width="0.8"/>
<path d="M46.2,-23.6 L50,-26 L50,26 L46.2,23.6 Z" fill="url(#gb)"/>
<path d="M46.2,-23.6 L50,-26 M46.2,23.6 L50,26" fill="none" stroke="#6e6e6e" stroke-width="0.8"/>
<ellipse cx="50" cy="0" rx="17.4" ry="26" fill="url(#gb)" stroke="#6e6e6e" stroke-width="0.8"/>
<path d="M50,-26 L53,-21 L53,21 L50,26 Z" fill="url(#gb)"/>
<path d="M50,-26 L53,-21 M50,26 L53,21" fill="none" stroke="#6e6e6e" stroke-width="0.8"/>
<ellipse cx="53" cy="0" rx="14.1" ry="21" fill="url(#gb)" stroke="#6e6e6e" stroke-width="0.8"/>
<path d="M53,-21 L54,-19 L54,19 L53,21 Z" fill="url(#gb)"/>
<path d="M53,-21 L54,-19 M53,21 L54,19" fill="none" stroke="#6e6e6e" stroke-width="0.8"/>
<ellipse cx="54" cy="0" rx="12.7" ry="19" fill="url(#gb)" stroke="#6e6e6e" stroke-width="0.8"/>
<path d="M54,-19 L64,-19 L64,19 L54,19 Z" fill="url(#gb)"/>
<path d="M54,-19 L64,-19 M54,19 L64,19" fill="none" stroke="#6e6e6e" stroke-width="0.8"/>
<ellipse cx="64" cy="0" rx="12.7" ry="19" fill="#bfbfbf" stroke="#6e6e6e" stroke-width="0.8"/>
<ellipse cx="64" cy="0" rx="10.4" ry="15.5" fill="#a6a6a6" stroke="#6e6e6e" stroke-width="0.8"/>
<ellipse cx="61.5" cy="0" rx="9.4" ry="14" fill="#c9c9c9" stroke="#909090" stroke-width="0.8"/>
</g>
<g transform="translate(2356,574) rotate(30)">
<path d="M-15,0 A15,19 0 1,0 15,0 A15,19 0 1,0 -15,0 Z M-7.2,-1 A7.4,14 0 1,1 7.6,-1 A7.4,14 0 1,1 -7.2,-1 Z" fill="url(#gband)" fill-rule="evenodd" stroke="#7a7a7a" stroke-width="0.8"/>
<path d="M-9.3,-15.2 l-1.3,-5.3 l10.6,-0.4 l1.7,5.3 Z" fill="#cfcfcf" stroke="#7a7a7a" stroke-width="0.8"/>
<path d="M-8.5,-17.6 l10.2,-0.3" stroke="#8a8a8a" stroke-width="1" fill="none"/>
</g>
<g transform="translate(2410.2,593.8) rotate(30)">
<path d="M1.8,17.2 A11.2,17.4 0 1,1 5.1,15.5" fill="none" stroke="#0a0a0a" stroke-width="7.2"/>
<path d="M1.1,17.3 A11.2,17.4 0 1,1 5.7,15" fill="none" stroke="#fff" stroke-width="3.2"/>
</g>
<g transform="translate(2436.8,382.9)" fill="#fff" stroke="#000" stroke-width="3" stroke-linejoin="round">
<path d="M16.5,14 C16.5,22 14,24.5 8,26 C3,27.5 1.2,31 1.2,38 L1.2,103 C1.2,110 8,114 21,116.8 C24,117.3 30,116 38,114.8 C47,113 52,108 52,100 L52,38 C52,31 49,27.5 43,25.5 C37,23.5 34,21.5 33.5,14 Z"/>
<path d="M14.5,4 C14.5,0.5 35.2,0.5 35.2,4 L35.2,12.5 C35.2,16.3 14.5,16.3 14.5,12.5 Z"/>
<path d="M16.5,5 C19,7.6 31,7.6 33.5,5" fill="none" stroke-width="1.2"/>
<path d="M16,22.5 C20,25 30,25 34.5,22.5 M5.5,28.5 L21,34 L46,28.7 M21,34 L21,116.5" fill="none" stroke-width="1.2"/>
</g>
<g transform="translate(2640.1,272.5) rotate(30)">
<path d="M-15,0 A15,19 0 1,0 15,0 A15,19 0 1,0 -15,0 Z M-7.2,-1 A7.4,14 0 1,1 7.6,-1 A7.4,14 0 1,1 -7.2,-1 Z" fill="url(#gband)" fill-rule="evenodd" stroke="#7a7a7a" stroke-width="0.8"/>
<path d="M-9.3,-15.2 l-1.3,-5.3 l10.6,-0.4 l1.7,5.3 Z" fill="#cfcfcf" stroke="#7a7a7a" stroke-width="0.8"/>
<path d="M-8.5,-17.6 l10.2,-0.3" stroke="#8a8a8a" stroke-width="1" fill="none"/>
</g>
<g transform="translate(2741.6,320.5) rotate(30)">
<ellipse cx="-72" cy="0" rx="10.1" ry="15" fill="url(#gb)" stroke="#808080" stroke-width="0.7"/>
<path d="M-72,-15 L-58,-15 L-58,15 L-72,15 Z" fill="url(#gb)"/>
<path d="M-72,-15 L-58,-15 M-72,15 L-58,15" fill="none" stroke="#808080" stroke-width="0.7"/>
<ellipse cx="-58" cy="0" rx="10.1" ry="15" fill="url(#gb)" stroke="#808080" stroke-width="0.7"/>
<ellipse cx="-58" cy="0" rx="14.7" ry="22" fill="url(#gl2)" stroke="#808080" stroke-width="0.7"/>
<path d="M-58,-22 L-52.2,-30.5 L-52.2,30.5 L-58,22 Z" fill="url(#gl2)"/>
<path d="M-58,-22 L-52.2,-30.5 M-58,22 L-52.2,30.5" fill="none" stroke="#808080" stroke-width="0.7"/>
<ellipse cx="-52.2" cy="0" rx="20.4" ry="30.5" fill="url(#gl2)" stroke="#808080" stroke-width="0.7"/>
<path d="M-52.2,-30.5 L-46.4,-34.3 L-46.4,34.3 L-52.2,30.5 Z" fill="url(#gl2)"/>
<path d="M-52.2,-30.5 L-46.4,-34.3 M-52.2,30.5 L-46.4,34.3" fill="none" stroke="#808080" stroke-width="0.7"/>
<ellipse cx="-46.4" cy="0" rx="23" ry="34.3" fill="url(#gl2)" stroke="#808080" stroke-width="0.7"/>
<path d="M-46.4,-34.3 L-40.6,-38.5 L-40.6,38.5 L-46.4,34.3 Z" fill="url(#gl2)"/>
<path d="M-46.4,-34.3 L-40.6,-38.5 M-46.4,34.3 L-40.6,38.5" fill="none" stroke="#808080" stroke-width="0.7"/>
<ellipse cx="-40.6" cy="0" rx="25.8" ry="38.5" fill="url(#gl2)" stroke="#808080" stroke-width="0.7"/>
<path d="M-40.6,-38.5 L-34.8,-42.6 L-34.8,42.6 L-40.6,38.5 Z" fill="url(#gl2)"/>
<path d="M-40.6,-38.5 L-34.8,-42.6 M-40.6,38.5 L-34.8,42.6" fill="none" stroke="#808080" stroke-width="0.7"/>
<ellipse cx="-34.8" cy="0" rx="28.6" ry="42.6" fill="url(#gl2)" stroke="#808080" stroke-width="0.7"/>
<path d="M-34.8,-42.6 L-29,-44.7 L-29,44.7 L-34.8,42.6 Z" fill="url(#gl2)"/>
<path d="M-34.8,-42.6 L-29,-44.7 M-34.8,42.6 L-29,44.7" fill="none" stroke="#808080" stroke-width="0.7"/>
<ellipse cx="-29" cy="0" rx="29.9" ry="44.7" fill="url(#gl2)" stroke="#808080" stroke-width="0.7"/>
<path d="M-29,-44.7 L-23.2,-49 L-23.2,49 L-29,44.7 Z" fill="url(#gl2)"/>
<path d="M-29,-44.7 L-23.2,-49 M-29,44.7 L-23.2,49" fill="none" stroke="#808080" stroke-width="0.7"/>
<ellipse cx="-23.2" cy="0" rx="32.9" ry="49" fill="url(#gl2)" stroke="#808080" stroke-width="0.7"/>
<path d="M-23.2,-49 L-17.4,-48.8 L-17.4,48.8 L-23.2,49 Z" fill="url(#gb2)"/>
<path d="M-23.2,-49 L-17.4,-48.8 M-23.2,49 L-17.4,48.8" fill="none" stroke="#808080" stroke-width="0.7"/>
<ellipse cx="-17.4" cy="0" rx="32.7" ry="48.8" fill="url(#gb2)" stroke="#808080" stroke-width="0.7"/>
<path d="M-17.4,-48.8 L-11.6,-53.3 L-11.6,53.3 L-17.4,48.8 Z" fill="url(#gb2)"/>
<path d="M-17.4,-48.8 L-11.6,-53.3 M-17.4,48.8 L-11.6,53.3" fill="none" stroke="#808080" stroke-width="0.7"/>
<ellipse cx="-11.6" cy="0" rx="35.7" ry="53.3" fill="url(#gb2)" stroke="#808080" stroke-width="0.7"/>
<path d="M-11.6,-53.3 L-5.8,-50.4 L-5.8,50.4 L-11.6,53.3 Z" fill="url(#gb2)"/>
<path d="M-11.6,-53.3 L-5.8,-50.4 M-11.6,53.3 L-5.8,50.4" fill="none" stroke="#808080" stroke-width="0.7"/>
<ellipse cx="-5.8" cy="0" rx="33.8" ry="50.4" fill="url(#gb2)" stroke="#808080" stroke-width="0.7"/>
<ellipse cx="0" cy="0" rx="36.9" ry="55" fill="#c9c9c9" stroke="#7c7c7c" stroke-width="0.8"/>
<ellipse cx="-1.5" cy="0" rx="34.5" ry="51.5" fill="#a9a9a9" stroke="#858585" stroke-width="0.7"/>
<ellipse cx="-5" cy="0" rx="30.8" ry="46" fill="#bdbdbd" stroke="#8a8a8a" stroke-width="0.7"/>
<ellipse cx="-8" cy="0" rx="27.5" ry="41" fill="#a4a4a4" stroke="#808080" stroke-width="0.7"/>
<ellipse cx="-12" cy="0" rx="23.5" ry="35" fill="#bababa" stroke="#8a8a8a" stroke-width="0.7"/>
<ellipse cx="-15.5" cy="0" rx="20.1" ry="30" fill="#a2a2a2" stroke="#7c7c7c" stroke-width="0.7"/>
<ellipse cx="-19" cy="0" rx="16.8" ry="25" fill="#b4b4b4" stroke="#858585" stroke-width="0.7"/>
</g>
<g transform="translate(2831,364.8) rotate(30)">
<path d="M-39.3,0 A39.3,57 0 1,0 39.3,0 A39.3,57 0 1,0 -39.3,0 Z M-30.6,-1 A30.9,52.4 0 1,1 31.2,-1 A30.9,52.4 0 1,1 -30.6,-1 Z" fill="url(#gband)" fill-rule="evenodd" stroke="#7a7a7a" stroke-width="0.8"/>
<path d="M-24.4,-45.6 l-1.6,-6.8 l13.8,-0.6 l2.2,6.8 Z" fill="#cfcfcf" stroke="#7a7a7a" stroke-width="0.8"/>
<path d="M-23.3,-48.7 l13.2,-0.3" stroke="#8a8a8a" stroke-width="1" fill="none"/>
</g>
<g transform="translate(2895.2,398) rotate(30)">
<path d="M-13.8,0 A13.8,20 0 1,0 13.8,0 A13.8,20 0 1,0 -13.8,0 Z M-8.6,0 A8.6,14.8 0 1,1 8.6,0 A8.6,14.8 0 1,1 -8.6,0 Z" fill="#fff" fill-rule="evenodd" stroke="#0a0a0a" stroke-width="2"/>
<circle cx="-4.2" cy="12" r="2.1" fill="#fff" stroke="#0a0a0a" stroke-width="1.6"/>
<circle cx="-6.6" cy="7.9" r="2.1" fill="#fff" stroke="#0a0a0a" stroke-width="1.6"/>
</g>
<g transform="translate(2981.6,203.3)" fill="#fff" stroke="#000" stroke-width="3" stroke-linejoin="round">
<path d="M16.5,14 C16.5,22 14,24.5 8,26 C3,27.5 1.2,31 1.2,38 L1.2,103 C1.2,110 8,114 21,116.8 C24,117.3 30,116 38,114.8 C47,113 52,108 52,100 L52,38 C52,31 49,27.5 43,25.5 C37,23.5 34,21.5 33.5,14 Z"/>
<path d="M14.5,4 C14.5,0.5 35.2,0.5 35.2,4 L35.2,12.5 C35.2,16.3 14.5,16.3 14.5,12.5 Z"/>
<path d="M16.5,5 C19,7.6 31,7.6 33.5,5" fill="none" stroke-width="1.2"/>
<path d="M16,22.5 C20,25 30,25 34.5,22.5 M5.5,28.5 L21,34 L46,28.7 M21,34 L21,116.5" fill="none" stroke-width="1.2"/>
</g>
<g transform="translate(2986.5,449.8) rotate(30)">
<ellipse cx="-5" cy="0" rx="26.8" ry="40" fill="url(#gm)" stroke="#6e6e6e" stroke-width="0.8"/>
<path d="M-5,-40 L0,-46 L0,46 L-5,40 Z" fill="url(#gm)"/>
<path d="M-5,-40 L0,-46 M-5,40 L0,46" fill="none" stroke="#6e6e6e" stroke-width="0.8"/>
<ellipse cx="0" cy="0" rx="30.8" ry="46" fill="url(#gm)" stroke="#6e6e6e" stroke-width="0.8"/>
<path d="M0,-46 L4,-47 L4,47 L0,46 Z" fill="url(#gm)"/>
<path d="M0,-46 L4,-47 M0,46 L4,47" fill="none" stroke="#6e6e6e" stroke-width="0.8"/>
<ellipse cx="4" cy="0" rx="31.5" ry="47" fill="url(#gm)" stroke="#6e6e6e" stroke-width="0.8"/>
<path d="M4,-47 L62,-47 L62,47 L4,47 Z" fill="url(#gm)"/>
<path d="M4,-47 L62,-47 M4,47 L62,47" fill="none" stroke="#6e6e6e" stroke-width="0.8"/>
<ellipse cx="62" cy="0" rx="31.5" ry="47" fill="url(#gm)" stroke="#6e6e6e" stroke-width="0.8"/>
<path d="M62,-47 L63,-48.2 L63,48.2 L62,47 Z" fill="url(#gm)"/>
<path d="M62,-47 L63,-48.2 M62,47 L63,48.2" fill="none" stroke="#6e6e6e" stroke-width="0.8"/>
<ellipse cx="63" cy="0" rx="32.3" ry="48.2" fill="url(#gm)" stroke="#6e6e6e" stroke-width="0.8"/>
<path d="M63,-48.2 L68,-48.2 L68,48.2 L63,48.2 Z" fill="url(#gm)"/>
<path d="M63,-48.2 L68,-48.2 M63,48.2 L68,48.2" fill="none" stroke="#6e6e6e" stroke-width="0.8"/>
<ellipse cx="68" cy="0" rx="32.3" ry="48.2" fill="url(#gm)" stroke="#6e6e6e" stroke-width="0.8"/>
<path d="M68,-48.2 L69,-47 L69,47 L68,48.2 Z" fill="url(#gm)"/>
<path d="M68,-48.2 L69,-47 M68,48.2 L69,47" fill="none" stroke="#6e6e6e" stroke-width="0.8"/>
<ellipse cx="69" cy="0" rx="31.5" ry="47" fill="url(#gm)" stroke="#6e6e6e" stroke-width="0.8"/>
<path d="M69,-47 L88,-47 L88,47 L69,47 Z" fill="url(#gm)"/>
<path d="M69,-47 L88,-47 M69,47 L88,47" fill="none" stroke="#6e6e6e" stroke-width="0.8"/>
<ellipse cx="88" cy="0" rx="31.5" ry="47" fill="url(#gm)" stroke="#6e6e6e" stroke-width="0.8"/>
<path d="M88,-47 L96,-41 L96,41 L88,47 Z" fill="url(#gm)"/>
<path d="M88,-47 L96,-41 M88,47 L96,41" fill="none" stroke="#6e6e6e" stroke-width="0.8"/>
<ellipse cx="96" cy="0" rx="27.5" ry="41" fill="#c2c2c2" stroke="#6e6e6e" stroke-width="0.8"/>
<ellipse cx="96" cy="0" rx="20.8" ry="31" fill="#aeaeae" stroke="#6e6e6e" stroke-width="0.8"/>
<path d="M96,-31 L101,-31 L101,31 L96,31 Z" fill="url(#gm)"/>
<path d="M96,-31 L101,-31 M96,31 L101,31" fill="none" stroke="#6e6e6e" stroke-width="0.8"/>
<ellipse cx="101" cy="0" rx="20.8" ry="31" fill="#c6c6c6" stroke="#6e6e6e" stroke-width="0.8"/>
<ellipse cx="101" cy="0" rx="15.4" ry="23" fill="url(#gm)" stroke="#6e6e6e" stroke-width="0.8"/>
<path d="M101,-23 L107,-22 L107,22 L101,23 Z" fill="url(#gm)"/>
<path d="M101,-23 L107,-22 M101,23 L107,22" fill="none" stroke="#6e6e6e" stroke-width="0.8"/>
<ellipse cx="107" cy="0" rx="14.7" ry="22" fill="#c2c2c2" stroke="#6e6e6e" stroke-width="0.8"/>
<ellipse cx="107" cy="0" rx="9.4" ry="14" fill="url(#gs)" stroke="#6e6e6e" stroke-width="0.8"/>
<path d="M107,-14 L113,-14 L113,14 L107,14 Z" fill="url(#gs)"/>
<path d="M107,-14 L113,-14 M107,14 L113,14" fill="none" stroke="#6e6e6e" stroke-width="0.8"/>
<ellipse cx="113" cy="0" rx="9.4" ry="14" fill="url(#gs)" stroke="#6e6e6e" stroke-width="0.8"/>
<ellipse cx="113" cy="0" rx="12.7" ry="19" fill="url(#spl)" stroke="#6e6e6e" stroke-width="0.8"/>
<path d="M113,-19 L138,-19 L138,19 L113,19 Z" fill="url(#spl)"/>
<path d="M113,-19 L138,-19 M113,19 L138,19" fill="none" stroke="#6e6e6e" stroke-width="0.8"/>
<ellipse cx="138" cy="0" rx="12.7" ry="19" fill="url(#spl)" stroke="#6e6e6e" stroke-width="0.8"/>
<path d="M138,-19 L141,-17 L141,17 L138,19 Z" fill="url(#gs)"/>
<path d="M138,-19 L141,-17 M138,19 L141,17" fill="none" stroke="#6e6e6e" stroke-width="0.8"/>
<ellipse cx="141" cy="0" rx="11.4" ry="17" fill="#b2b2b2" stroke="#6e6e6e" stroke-width="0.8"/>
</g>
<g transform="translate(3144.6,533.5) rotate(30)">
<path d="M1.8,17.2 A11.2,17.4 0 1,1 5.1,15.5" fill="none" stroke="#0a0a0a" stroke-width="7.2"/>
<path d="M1.1,17.3 A11.2,17.4 0 1,1 5.7,15" fill="none" stroke="#fff" stroke-width="3.2"/>
</g>
<g transform="translate(2759.8,809.5) rotate(30)">
<path d="M-15,0 A15,19 0 1,0 15,0 A15,19 0 1,0 -15,0 Z M-7.2,-1 A7.4,14 0 1,1 7.6,-1 A7.4,14 0 1,1 -7.2,-1 Z" fill="url(#gband)" fill-rule="evenodd" stroke="#7a7a7a" stroke-width="0.8"/>
<path d="M-9.3,-15.2 l-1.3,-5.3 l10.6,-0.4 l1.7,5.3 Z" fill="#cfcfcf" stroke="#7a7a7a" stroke-width="0.8"/>
<path d="M-8.5,-17.6 l10.2,-0.3" stroke="#8a8a8a" stroke-width="1" fill="none"/>
</g>
<g transform="translate(2858,862.1) rotate(30)">
<ellipse cx="-72" cy="0" rx="10.1" ry="15" fill="url(#gb)" stroke="#808080" stroke-width="0.7"/>
<path d="M-72,-15 L-58,-15 L-58,15 L-72,15 Z" fill="url(#gb)"/>
<path d="M-72,-15 L-58,-15 M-72,15 L-58,15" fill="none" stroke="#808080" stroke-width="0.7"/>
<ellipse cx="-58" cy="0" rx="10.1" ry="15" fill="url(#gb)" stroke="#808080" stroke-width="0.7"/>
<ellipse cx="-58" cy="0" rx="14.7" ry="22" fill="url(#gl2)" stroke="#808080" stroke-width="0.7"/>
<path d="M-58,-22 L-52.2,-30.5 L-52.2,30.5 L-58,22 Z" fill="url(#gl2)"/>
<path d="M-58,-22 L-52.2,-30.5 M-58,22 L-52.2,30.5" fill="none" stroke="#808080" stroke-width="0.7"/>
<ellipse cx="-52.2" cy="0" rx="20.4" ry="30.5" fill="url(#gl2)" stroke="#808080" stroke-width="0.7"/>
<path d="M-52.2,-30.5 L-46.4,-34.3 L-46.4,34.3 L-52.2,30.5 Z" fill="url(#gl2)"/>
<path d="M-52.2,-30.5 L-46.4,-34.3 M-52.2,30.5 L-46.4,34.3" fill="none" stroke="#808080" stroke-width="0.7"/>
<ellipse cx="-46.4" cy="0" rx="23" ry="34.3" fill="url(#gl2)" stroke="#808080" stroke-width="0.7"/>
<path d="M-46.4,-34.3 L-40.6,-38.5 L-40.6,38.5 L-46.4,34.3 Z" fill="url(#gl2)"/>
<path d="M-46.4,-34.3 L-40.6,-38.5 M-46.4,34.3 L-40.6,38.5" fill="none" stroke="#808080" stroke-width="0.7"/>
<ellipse cx="-40.6" cy="0" rx="25.8" ry="38.5" fill="url(#gl2)" stroke="#808080" stroke-width="0.7"/>
<path d="M-40.6,-38.5 L-34.8,-42.6 L-34.8,42.6 L-40.6,38.5 Z" fill="url(#gl2)"/>
<path d="M-40.6,-38.5 L-34.8,-42.6 M-40.6,38.5 L-34.8,42.6" fill="none" stroke="#808080" stroke-width="0.7"/>
<ellipse cx="-34.8" cy="0" rx="28.6" ry="42.6" fill="url(#gl2)" stroke="#808080" stroke-width="0.7"/>
<path d="M-34.8,-42.6 L-29,-44.7 L-29,44.7 L-34.8,42.6 Z" fill="url(#gl2)"/>
<path d="M-34.8,-42.6 L-29,-44.7 M-34.8,42.6 L-29,44.7" fill="none" stroke="#808080" stroke-width="0.7"/>
<ellipse cx="-29" cy="0" rx="29.9" ry="44.7" fill="url(#gl2)" stroke="#808080" stroke-width="0.7"/>
<path d="M-29,-44.7 L-23.2,-49 L-23.2,49 L-29,44.7 Z" fill="url(#gl2)"/>
<path d="M-29,-44.7 L-23.2,-49 M-29,44.7 L-23.2,49" fill="none" stroke="#808080" stroke-width="0.7"/>
<ellipse cx="-23.2" cy="0" rx="32.9" ry="49" fill="url(#gl2)" stroke="#808080" stroke-width="0.7"/>
<path d="M-23.2,-49 L-17.4,-48.8 L-17.4,48.8 L-23.2,49 Z" fill="url(#gb2)"/>
<path d="M-23.2,-49 L-17.4,-48.8 M-23.2,49 L-17.4,48.8" fill="none" stroke="#808080" stroke-width="0.7"/>
<ellipse cx="-17.4" cy="0" rx="32.7" ry="48.8" fill="url(#gb2)" stroke="#808080" stroke-width="0.7"/>
<path d="M-17.4,-48.8 L-11.6,-53.3 L-11.6,53.3 L-17.4,48.8 Z" fill="url(#gb2)"/>
<path d="M-17.4,-48.8 L-11.6,-53.3 M-17.4,48.8 L-11.6,53.3" fill="none" stroke="#808080" stroke-width="0.7"/>
<ellipse cx="-11.6" cy="0" rx="35.7" ry="53.3" fill="url(#gb2)" stroke="#808080" stroke-width="0.7"/>
<path d="M-11.6,-53.3 L-5.8,-50.4 L-5.8,50.4 L-11.6,53.3 Z" fill="url(#gb2)"/>
<path d="M-11.6,-53.3 L-5.8,-50.4 M-11.6,53.3 L-5.8,50.4" fill="none" stroke="#808080" stroke-width="0.7"/>
<ellipse cx="-5.8" cy="0" rx="33.8" ry="50.4" fill="url(#gb2)" stroke="#808080" stroke-width="0.7"/>
<ellipse cx="0" cy="0" rx="36.9" ry="55" fill="#c9c9c9" stroke="#7c7c7c" stroke-width="0.8"/>
<ellipse cx="-1.5" cy="0" rx="34.5" ry="51.5" fill="#a9a9a9" stroke="#858585" stroke-width="0.7"/>
<ellipse cx="-5" cy="0" rx="30.8" ry="46" fill="#bdbdbd" stroke="#8a8a8a" stroke-width="0.7"/>
<ellipse cx="-8" cy="0" rx="27.5" ry="41" fill="#a4a4a4" stroke="#808080" stroke-width="0.7"/>
<ellipse cx="-12" cy="0" rx="23.5" ry="35" fill="#bababa" stroke="#8a8a8a" stroke-width="0.7"/>
<ellipse cx="-15.5" cy="0" rx="20.1" ry="30" fill="#a2a2a2" stroke="#7c7c7c" stroke-width="0.7"/>
<ellipse cx="-19" cy="0" rx="16.8" ry="25" fill="#b4b4b4" stroke="#858585" stroke-width="0.7"/>
</g>
<g transform="translate(2948.4,907.4) rotate(30)">
<path d="M-37.9,0 A37.9,55 0 1,0 37.9,0 A37.9,55 0 1,0 -37.9,0 Z M-29.2,-1 A29.5,50.4 0 1,1 29.8,-1 A29.5,50.4 0 1,1 -29.2,-1 Z" fill="url(#gband)" fill-rule="evenodd" stroke="#7a7a7a" stroke-width="0.8"/>
<path d="M-23.5,-44 l-1.6,-6.8 l13.8,-0.6 l2.2,6.8 Z" fill="#cfcfcf" stroke="#7a7a7a" stroke-width="0.8"/>
<path d="M-22.4,-47.1 l13.2,-0.3" stroke="#8a8a8a" stroke-width="1" fill="none"/>
</g>
<g transform="translate(2990.2,726)" fill="#fff" stroke="#000" stroke-width="3" stroke-linejoin="round">
<path d="M16.5,14 C16.5,22 14,24.5 8,26 C3,27.5 1.2,31 1.2,38 L1.2,103 C1.2,110 8,114 21,116.8 C24,117.3 30,116 38,114.8 C47,113 52,108 52,100 L52,38 C52,31 49,27.5 43,25.5 C37,23.5 34,21.5 33.5,14 Z"/>
<path d="M14.5,4 C14.5,0.5 35.2,0.5 35.2,4 L35.2,12.5 C35.2,16.3 14.5,16.3 14.5,12.5 Z"/>
<path d="M16.5,5 C19,7.6 31,7.6 33.5,5" fill="none" stroke-width="1.2"/>
<path d="M16,22.5 C20,25 30,25 34.5,22.5 M5.5,28.5 L21,34 L46,28.7 M21,34 L21,116.5" fill="none" stroke-width="1.2"/>
</g>
<g transform="translate(3014,940.7) rotate(30)">
<path d="M-13.8,0 A13.8,20 0 1,0 13.8,0 A13.8,20 0 1,0 -13.8,0 Z M-8.6,0 A8.6,14.8 0 1,1 8.6,0 A8.6,14.8 0 1,1 -8.6,0 Z" fill="#fff" fill-rule="evenodd" stroke="#0a0a0a" stroke-width="2"/>
<circle cx="-4.2" cy="12" r="2.1" fill="#fff" stroke="#0a0a0a" stroke-width="1.6"/>
<circle cx="-6.6" cy="7.9" r="2.1" fill="#fff" stroke="#0a0a0a" stroke-width="1.6"/>
</g>
<g transform="translate(3060,959.2) rotate(30)">
<path d="M1.8,17.2 A11.2,17.4 0 1,1 5.1,15.5" fill="none" stroke="#0a0a0a" stroke-width="7.2"/>
<path d="M1.1,17.3 A11.2,17.4 0 1,1 5.7,15" fill="none" stroke="#fff" stroke-width="3.2"/>
</g>
<g transform="translate(2508,1540.7) rotate(30)">
<path d="M-14.5,0 A14.5,20.2 0 1,0 14.5,0 A14.5,20.2 0 1,0 -14.5,0 Z M-9.7,-0.3 A10.9,18.6 0 1,1 12.1,-0.3 A10.9,18.6 0 1,1 -9.7,-0.3 Z" fill="#c6c6c6" fill-rule="evenodd" stroke="#7a7a7a" stroke-width="0.8"/>
</g>
<g transform="translate(2547.9,1565.5) rotate(30)">
<ellipse cx="-11.9" cy="0" rx="15.4" ry="22.9" fill="url(#gm)" stroke="#6e6e6e" stroke-width="0.8"/>
<path d="M-11.9,-22.9 L0,-22.9 L0,22.9 L-11.9,22.9 Z" fill="url(#gm)"/>
<path d="M-11.9,-22.9 L0,-22.9 M-11.9,22.9 L0,22.9" fill="none" stroke="#6e6e6e" stroke-width="0.8"/>
<ellipse cx="0" cy="0" rx="15.4" ry="22.9" fill="#b0b0b0" stroke="#6e6e6e" stroke-width="0.8"/>
<ellipse cx="0" cy="0" rx="20.5" ry="30.6" fill="url(#gm)" stroke="#6e6e6e" stroke-width="0.8"/>
<path d="M0,-30.6 L40.8,-30.6 L40.8,30.6 L0,30.6 Z" fill="url(#gm)"/>
<path d="M0,-30.6 L40.8,-30.6 M0,30.6 L40.8,30.6" fill="none" stroke="#6e6e6e" stroke-width="0.8"/>
<ellipse cx="40.8" cy="0" rx="20.5" ry="30.6" fill="url(#gm)" stroke="#6e6e6e" stroke-width="0.8"/>
<path d="M40.8,-30.6 L47.6,-27.2 L47.6,27.2 L40.8,30.6 Z" fill="url(#gm)"/>
<path d="M40.8,-30.6 L47.6,-27.2 M40.8,30.6 L47.6,27.2" fill="none" stroke="#6e6e6e" stroke-width="0.8"/>
<ellipse cx="47.6" cy="0" rx="18.2" ry="27.2" fill="#c4c4c4" stroke="#6e6e6e" stroke-width="0.8"/>
<ellipse cx="47.6" cy="0" rx="15.4" ry="22.9" fill="url(#gm)" stroke="#6e6e6e" stroke-width="0.8"/>
<path d="M47.6,-22.9 L52.7,-22.9 L52.7,22.9 L47.6,22.9 Z" fill="url(#gm)"/>
<path d="M47.6,-22.9 L52.7,-22.9 M47.6,22.9 L52.7,22.9" fill="none" stroke="#6e6e6e" stroke-width="0.8"/>
<ellipse cx="52.7" cy="0" rx="15.4" ry="22.9" fill="#c0c0c0" stroke="#6e6e6e" stroke-width="0.8"/>
<ellipse cx="52.7" cy="0" rx="13.1" ry="19.6" fill="url(#gm)" stroke="#6e6e6e" stroke-width="0.8"/>
<path d="M52.7,-19.6 L61.2,-19.6 L61.2,19.6 L52.7,19.6 Z" fill="url(#gm)"/>
<path d="M52.7,-19.6 L61.2,-19.6 M52.7,19.6 L61.2,19.6" fill="none" stroke="#6e6e6e" stroke-width="0.8"/>
<ellipse cx="61.2" cy="0" rx="13.1" ry="19.6" fill="url(#gm)" stroke="#6e6e6e" stroke-width="0.8"/>
<ellipse cx="61.2" cy="0" rx="13.1" ry="19.6" fill="#c4c4c4" stroke="#6e6e6e" stroke-width="0.8"/>
<ellipse cx="60.4" cy="0" rx="10.3" ry="15.3" fill="#a2a2a2" stroke="#6e6e6e" stroke-width="0.8"/>
<ellipse cx="58.2" cy="0" rx="8.5" ry="12.8" fill="#c0c0c0" stroke="#6e6e6e" stroke-width="0.8"/>
</g>
<g transform="translate(2645.8,1615.3) rotate(30)">
<path d="M-14.5,0 A14.5,20.2 0 1,0 14.5,0 A14.5,20.2 0 1,0 -14.5,0 Z M-9.7,-0.3 A10.9,18.6 0 1,1 12.1,-0.3 A10.9,18.6 0 1,1 -9.7,-0.3 Z" fill="#c6c6c6" fill-rule="evenodd" stroke="#7a7a7a" stroke-width="0.8"/>
</g>
<g transform="translate(2688.5,1636) rotate(30)">
<path d="M-15,0 A15,19 0 1,0 15,0 A15,19 0 1,0 -15,0 Z M-7.2,-1 A7.4,14 0 1,1 7.6,-1 A7.4,14 0 1,1 -7.2,-1 Z" fill="url(#gband)" fill-rule="evenodd" stroke="#7a7a7a" stroke-width="0.8"/>
<path d="M-9.3,-15.2 l-1.3,-5.3 l10.6,-0.4 l1.7,5.3 Z" fill="#cfcfcf" stroke="#7a7a7a" stroke-width="0.8"/>
<path d="M-8.5,-17.6 l10.2,-0.3" stroke="#8a8a8a" stroke-width="1" fill="none"/>
</g>
<g transform="translate(2787.6,1687.8) rotate(30)">
<ellipse cx="-72" cy="0" rx="10.1" ry="15" fill="url(#gb)" stroke="#808080" stroke-width="0.7"/>
<path d="M-72,-15 L-58,-15 L-58,15 L-72,15 Z" fill="url(#gb)"/>
<path d="M-72,-15 L-58,-15 M-72,15 L-58,15" fill="none" stroke="#808080" stroke-width="0.7"/>
<ellipse cx="-58" cy="0" rx="10.1" ry="15" fill="url(#gb)" stroke="#808080" stroke-width="0.7"/>
<ellipse cx="-58" cy="0" rx="14.7" ry="22" fill="url(#gl2)" stroke="#808080" stroke-width="0.7"/>
<path d="M-58,-22 L-52.2,-30.5 L-52.2,30.5 L-58,22 Z" fill="url(#gl2)"/>
<path d="M-58,-22 L-52.2,-30.5 M-58,22 L-52.2,30.5" fill="none" stroke="#808080" stroke-width="0.7"/>
<ellipse cx="-52.2" cy="0" rx="20.4" ry="30.5" fill="url(#gl2)" stroke="#808080" stroke-width="0.7"/>
<path d="M-52.2,-30.5 L-46.4,-34.3 L-46.4,34.3 L-52.2,30.5 Z" fill="url(#gl2)"/>
<path d="M-52.2,-30.5 L-46.4,-34.3 M-52.2,30.5 L-46.4,34.3" fill="none" stroke="#808080" stroke-width="0.7"/>
<ellipse cx="-46.4" cy="0" rx="23" ry="34.3" fill="url(#gl2)" stroke="#808080" stroke-width="0.7"/>
<path d="M-46.4,-34.3 L-40.6,-38.5 L-40.6,38.5 L-46.4,34.3 Z" fill="url(#gl2)"/>
<path d="M-46.4,-34.3 L-40.6,-38.5 M-46.4,34.3 L-40.6,38.5" fill="none" stroke="#808080" stroke-width="0.7"/>
<ellipse cx="-40.6" cy="0" rx="25.8" ry="38.5" fill="url(#gl2)" stroke="#808080" stroke-width="0.7"/>
<path d="M-40.6,-38.5 L-34.8,-42.6 L-34.8,42.6 L-40.6,38.5 Z" fill="url(#gl2)"/>
<path d="M-40.6,-38.5 L-34.8,-42.6 M-40.6,38.5 L-34.8,42.6" fill="none" stroke="#808080" stroke-width="0.7"/>
<ellipse cx="-34.8" cy="0" rx="28.6" ry="42.6" fill="url(#gl2)" stroke="#808080" stroke-width="0.7"/>
<path d="M-34.8,-42.6 L-29,-44.7 L-29,44.7 L-34.8,42.6 Z" fill="url(#gl2)"/>
<path d="M-34.8,-42.6 L-29,-44.7 M-34.8,42.6 L-29,44.7" fill="none" stroke="#808080" stroke-width="0.7"/>
<ellipse cx="-29" cy="0" rx="29.9" ry="44.7" fill="url(#gl2)" stroke="#808080" stroke-width="0.7"/>
<path d="M-29,-44.7 L-23.2,-49 L-23.2,49 L-29,44.7 Z" fill="url(#gl2)"/>
<path d="M-29,-44.7 L-23.2,-49 M-29,44.7 L-23.2,49" fill="none" stroke="#808080" stroke-width="0.7"/>
<ellipse cx="-23.2" cy="0" rx="32.9" ry="49" fill="url(#gl2)" stroke="#808080" stroke-width="0.7"/>
<path d="M-23.2,-49 L-17.4,-48.8 L-17.4,48.8 L-23.2,49 Z" fill="url(#gb2)"/>
<path d="M-23.2,-49 L-17.4,-48.8 M-23.2,49 L-17.4,48.8" fill="none" stroke="#808080" stroke-width="0.7"/>
<ellipse cx="-17.4" cy="0" rx="32.7" ry="48.8" fill="url(#gb2)" stroke="#808080" stroke-width="0.7"/>
<path d="M-17.4,-48.8 L-11.6,-53.3 L-11.6,53.3 L-17.4,48.8 Z" fill="url(#gb2)"/>
<path d="M-17.4,-48.8 L-11.6,-53.3 M-17.4,48.8 L-11.6,53.3" fill="none" stroke="#808080" stroke-width="0.7"/>
<ellipse cx="-11.6" cy="0" rx="35.7" ry="53.3" fill="url(#gb2)" stroke="#808080" stroke-width="0.7"/>
<path d="M-11.6,-53.3 L-5.8,-50.4 L-5.8,50.4 L-11.6,53.3 Z" fill="url(#gb2)"/>
<path d="M-11.6,-53.3 L-5.8,-50.4 M-11.6,53.3 L-5.8,50.4" fill="none" stroke="#808080" stroke-width="0.7"/>
<ellipse cx="-5.8" cy="0" rx="33.8" ry="50.4" fill="url(#gb2)" stroke="#808080" stroke-width="0.7"/>
<ellipse cx="0" cy="0" rx="36.9" ry="55" fill="#c9c9c9" stroke="#7c7c7c" stroke-width="0.8"/>
<ellipse cx="-1.5" cy="0" rx="34.5" ry="51.5" fill="#a9a9a9" stroke="#858585" stroke-width="0.7"/>
<ellipse cx="-5" cy="0" rx="30.8" ry="46" fill="#bdbdbd" stroke="#8a8a8a" stroke-width="0.7"/>
<ellipse cx="-8" cy="0" rx="27.5" ry="41" fill="#a4a4a4" stroke="#808080" stroke-width="0.7"/>
<ellipse cx="-12" cy="0" rx="23.5" ry="35" fill="#bababa" stroke="#8a8a8a" stroke-width="0.7"/>
<ellipse cx="-15.5" cy="0" rx="20.1" ry="30" fill="#a2a2a2" stroke="#7c7c7c" stroke-width="0.7"/>
<ellipse cx="-19" cy="0" rx="16.8" ry="25" fill="#b4b4b4" stroke="#858585" stroke-width="0.7"/>
</g>
<g transform="translate(2870,1732.1) rotate(30)">
<path d="M-37.9,0 A37.9,55 0 1,0 37.9,0 A37.9,55 0 1,0 -37.9,0 Z M-29.2,-1 A29.5,50.4 0 1,1 29.8,-1 A29.5,50.4 0 1,1 -29.2,-1 Z" fill="url(#gband)" fill-rule="evenodd" stroke="#7a7a7a" stroke-width="0.8"/>
<path d="M-23.5,-44 l-1.6,-6.8 l13.8,-0.6 l2.2,6.8 Z" fill="#cfcfcf" stroke="#7a7a7a" stroke-width="0.8"/>
<path d="M-22.4,-47.1 l13.2,-0.3" stroke="#8a8a8a" stroke-width="1" fill="none"/>
</g>
<g transform="translate(2928.4,1774.4) rotate(30)">
<path d="M-13.8,0 A13.8,20 0 1,0 13.8,0 A13.8,20 0 1,0 -13.8,0 Z M-8.6,0 A8.6,14.8 0 1,1 8.6,0 A8.6,14.8 0 1,1 -8.6,0 Z" fill="#fff" fill-rule="evenodd" stroke="#0a0a0a" stroke-width="2"/>
<circle cx="-4.2" cy="12" r="2.1" fill="#fff" stroke="#0a0a0a" stroke-width="1.6"/>
<circle cx="-6.6" cy="7.9" r="2.1" fill="#fff" stroke="#0a0a0a" stroke-width="1.6"/>
</g>
<g transform="translate(2991.2,1815.6) rotate(30)">
<ellipse cx="-5" cy="0" rx="26.8" ry="40" fill="url(#gm)" stroke="#6e6e6e" stroke-width="0.8"/>
<path d="M-5,-40 L0,-46 L0,46 L-5,40 Z" fill="url(#gm)"/>
<path d="M-5,-40 L0,-46 M-5,40 L0,46" fill="none" stroke="#6e6e6e" stroke-width="0.8"/>
<ellipse cx="0" cy="0" rx="30.8" ry="46" fill="url(#gm)" stroke="#6e6e6e" stroke-width="0.8"/>
<path d="M0,-46 L4,-47 L4,47 L0,46 Z" fill="url(#gm)"/>
<path d="M0,-46 L4,-47 M0,46 L4,47" fill="none" stroke="#6e6e6e" stroke-width="0.8"/>
<ellipse cx="4" cy="0" rx="31.5" ry="47" fill="url(#gm)" stroke="#6e6e6e" stroke-width="0.8"/>
<path d="M4,-47 L62,-47 L62,47 L4,47 Z" fill="url(#gm)"/>
<path d="M4,-47 L62,-47 M4,47 L62,47" fill="none" stroke="#6e6e6e" stroke-width="0.8"/>
<ellipse cx="62" cy="0" rx="31.5" ry="47" fill="url(#gm)" stroke="#6e6e6e" stroke-width="0.8"/>
<path d="M62,-47 L63,-48.2 L63,48.2 L62,47 Z" fill="url(#gm)"/>
<path d="M62,-47 L63,-48.2 M62,47 L63,48.2" fill="none" stroke="#6e6e6e" stroke-width="0.8"/>
<ellipse cx="63" cy="0" rx="32.3" ry="48.2" fill="url(#gm)" stroke="#6e6e6e" stroke-width="0.8"/>
<path d="M63,-48.2 L68,-48.2 L68,48.2 L63,48.2 Z" fill="url(#gm)"/>
<path d="M63,-48.2 L68,-48.2 M63,48.2 L68,48.2" fill="none" stroke="#6e6e6e" stroke-width="0.8"/>
<ellipse cx="68" cy="0" rx="32.3" ry="48.2" fill="url(#gm)" stroke="#6e6e6e" stroke-width="0.8"/>
<path d="M68,-48.2 L69,-47 L69,47 L68,48.2 Z" fill="url(#gm)"/>
<path d="M68,-48.2 L69,-47 M68,48.2 L69,47" fill="none" stroke="#6e6e6e" stroke-width="0.8"/>
<ellipse cx="69" cy="0" rx="31.5" ry="47" fill="url(#gm)" stroke="#6e6e6e" stroke-width="0.8"/>
<path d="M69,-47 L88,-47 L88,47 L69,47 Z" fill="url(#gm)"/>
<path d="M69,-47 L88,-47 M69,47 L88,47" fill="none" stroke="#6e6e6e" stroke-width="0.8"/>
<ellipse cx="88" cy="0" rx="31.5" ry="47" fill="url(#gm)" stroke="#6e6e6e" stroke-width="0.8"/>
<path d="M88,-47 L96,-41 L96,41 L88,47 Z" fill="url(#gm)"/>
<path d="M88,-47 L96,-41 M88,47 L96,41" fill="none" stroke="#6e6e6e" stroke-width="0.8"/>
<ellipse cx="96" cy="0" rx="27.5" ry="41" fill="#c2c2c2" stroke="#6e6e6e" stroke-width="0.8"/>
<ellipse cx="96" cy="0" rx="20.8" ry="31" fill="#aeaeae" stroke="#6e6e6e" stroke-width="0.8"/>
<path d="M96,-31 L101,-31 L101,31 L96,31 Z" fill="url(#gm)"/>
<path d="M96,-31 L101,-31 M96,31 L101,31" fill="none" stroke="#6e6e6e" stroke-width="0.8"/>
<ellipse cx="101" cy="0" rx="20.8" ry="31" fill="#c6c6c6" stroke="#6e6e6e" stroke-width="0.8"/>
<ellipse cx="101" cy="0" rx="15.4" ry="23" fill="url(#gm)" stroke="#6e6e6e" stroke-width="0.8"/>
<path d="M101,-23 L107,-22 L107,22 L101,23 Z" fill="url(#gm)"/>
<path d="M101,-23 L107,-22 M101,23 L107,22" fill="none" stroke="#6e6e6e" stroke-width="0.8"/>
<ellipse cx="107" cy="0" rx="14.7" ry="22" fill="#c2c2c2" stroke="#6e6e6e" stroke-width="0.8"/>
<ellipse cx="107" cy="0" rx="9.4" ry="14" fill="url(#gs)" stroke="#6e6e6e" stroke-width="0.8"/>
<path d="M107,-14 L113,-14 L113,14 L107,14 Z" fill="url(#gs)"/>
<path d="M107,-14 L113,-14 M107,14 L113,14" fill="none" stroke="#6e6e6e" stroke-width="0.8"/>
<ellipse cx="113" cy="0" rx="9.4" ry="14" fill="url(#gs)" stroke="#6e6e6e" stroke-width="0.8"/>
<ellipse cx="113" cy="0" rx="12.7" ry="19" fill="url(#spl)" stroke="#6e6e6e" stroke-width="0.8"/>
<path d="M113,-19 L138,-19 L138,19 L113,19 Z" fill="url(#spl)"/>
<path d="M113,-19 L138,-19 M113,19 L138,19" fill="none" stroke="#6e6e6e" stroke-width="0.8"/>
<ellipse cx="138" cy="0" rx="12.7" ry="19" fill="url(#spl)" stroke="#6e6e6e" stroke-width="0.8"/>
<path d="M138,-19 L141,-17 L141,17 L138,19 Z" fill="url(#gs)"/>
<path d="M138,-19 L141,-17 M138,19 L141,17" fill="none" stroke="#6e6e6e" stroke-width="0.8"/>
<ellipse cx="141" cy="0" rx="11.4" ry="17" fill="#b2b2b2" stroke="#6e6e6e" stroke-width="0.8"/>
</g>
<g transform="translate(3066.2,1691.3)" fill="#fff" stroke="#000" stroke-width="3" stroke-linejoin="round">
<path d="M16.5,14 C16.5,22 14,24.5 8,26 C3,27.5 1.2,31 1.2,38 L1.2,103 C1.2,110 8,114 21,116.8 C24,117.3 30,116 38,114.8 C47,113 52,108 52,100 L52,38 C52,31 49,27.5 43,25.5 C37,23.5 34,21.5 33.5,14 Z"/>
<path d="M14.5,4 C14.5,0.5 35.2,0.5 35.2,4 L35.2,12.5 C35.2,16.3 14.5,16.3 14.5,12.5 Z"/>
<path d="M16.5,5 C19,7.6 31,7.6 33.5,5" fill="none" stroke-width="1.2"/>
<path d="M16,22.5 C20,25 30,25 34.5,22.5 M5.5,28.5 L21,34 L46,28.7 M21,34 L21,116.5" fill="none" stroke-width="1.2"/>
</g>
<g transform="translate(3154.1,1899.3) rotate(30)">
<path d="M1.8,17.2 A11.2,17.4 0 1,1 5.1,15.5" fill="none" stroke="#0a0a0a" stroke-width="7.2"/>
<path d="M1.1,17.3 A11.2,17.4 0 1,1 5.7,15" fill="none" stroke="#fff" stroke-width="3.2"/>
</g>
<g transform="translate(424.2,1082.7) rotate(30)">
<path d="M1.8,17.2 A11.2,17.4 0 1,1 5.1,15.5" fill="none" stroke="#0a0a0a" stroke-width="7.2"/>
<path d="M1.1,17.3 A11.2,17.4 0 1,1 5.7,15" fill="none" stroke="#fff" stroke-width="3.2"/>
</g>
<g transform="translate(602.4,1187.6) rotate(30)">
<ellipse cx="-139.5" cy="0" rx="10.6" ry="15.8" fill="url(#gs)" stroke="#6e6e6e" stroke-width="0.8"/>
<path d="M-139.5,-15.8 L-136.7,-17.7 L-136.7,17.7 L-139.5,15.8 Z" fill="url(#spl)"/>
<path d="M-139.5,-15.8 L-136.7,-17.7 M-139.5,15.8 L-136.7,17.7" fill="none" stroke="#6e6e6e" stroke-width="0.8"/>
<ellipse cx="-136.7" cy="0" rx="11.8" ry="17.7" fill="url(#spl)" stroke="#6e6e6e" stroke-width="0.8"/>
<path d="M-136.7,-17.7 L-113.5,-17.7 L-113.5,17.7 L-136.7,17.7 Z" fill="url(#spl)"/>
<path d="M-136.7,-17.7 L-113.5,-17.7 M-136.7,17.7 L-113.5,17.7" fill="none" stroke="#6e6e6e" stroke-width="0.8"/>
<ellipse cx="-113.5" cy="0" rx="11.8" ry="17.7" fill="url(#spl)" stroke="#6e6e6e" stroke-width="0.8"/>
<path d="M-113.5,-17.7 L-111.6,-12.6 L-111.6,12.6 L-113.5,17.7 Z" fill="url(#gs)"/>
<path d="M-113.5,-17.7 L-111.6,-12.6 M-113.5,17.7 L-111.6,12.6" fill="none" stroke="#6e6e6e" stroke-width="0.8"/>
<ellipse cx="-111.6" cy="0" rx="8.4" ry="12.6" fill="url(#gs)" stroke="#6e6e6e" stroke-width="0.8"/>
<path d="M-111.6,-12.6 L-100.4,-12.6 L-100.4,12.6 L-111.6,12.6 Z" fill="url(#gs)"/>
<path d="M-111.6,-12.6 L-100.4,-12.6 M-111.6,12.6 L-100.4,12.6" fill="none" stroke="#6e6e6e" stroke-width="0.8"/>
<ellipse cx="-100.4" cy="0" rx="8.4" ry="12.6" fill="url(#gs)" stroke="#6e6e6e" stroke-width="0.8"/>
<ellipse cx="-100.4" cy="0" rx="13.1" ry="19.5" fill="url(#gd)" stroke="#6e6e6e" stroke-width="0.8"/>
<path d="M-100.4,-19.5 L-96.7,-19.5 L-96.7,19.5 L-100.4,19.5 Z" fill="url(#gd)"/>
<path d="M-100.4,-19.5 L-96.7,-19.5 M-100.4,19.5 L-96.7,19.5" fill="none" stroke="#6e6e6e" stroke-width="0.8"/>
<ellipse cx="-96.7" cy="0" rx="13.1" ry="19.5" fill="url(#gd)" stroke="#6e6e6e" stroke-width="0.8"/>
<ellipse cx="-96.7" cy="0" rx="17.4" ry="26" fill="url(#gd)" stroke="#6e6e6e" stroke-width="0.8"/>
<path d="M-96.7,-26 L-94.9,-26 L-94.9,26 L-96.7,26 Z" fill="url(#gd)"/>
<path d="M-96.7,-26 L-94.9,-26 M-96.7,26 L-94.9,26" fill="none" stroke="#6e6e6e" stroke-width="0.8"/>
<ellipse cx="-94.9" cy="0" rx="17.4" ry="26" fill="url(#gd)" stroke="#6e6e6e" stroke-width="0.8"/>
<ellipse cx="-94.9" cy="0" rx="22.4" ry="33.5" fill="url(#gd)" stroke="#6e6e6e" stroke-width="0.8"/>
<path d="M-94.9,-33.5 L-81.8,-42.8 L-81.8,42.8 L-94.9,33.5 Z" fill="url(#gd)"/>
<path d="M-94.9,-33.5 L-81.8,-42.8 M-94.9,33.5 L-81.8,42.8" fill="none" stroke="#6e6e6e" stroke-width="0.8"/>
<ellipse cx="-81.8" cy="0" rx="28.7" ry="42.8" fill="url(#gd)" stroke="#6e6e6e" stroke-width="0.8"/>
<path d="M-81.8,-42.8 L-37.2,-42.8 L-37.2,42.8 L-81.8,42.8 Z" fill="url(#gd)"/>
<path d="M-81.8,-42.8 L-37.2,-42.8 M-81.8,42.8 L-37.2,42.8" fill="none" stroke="#6e6e6e" stroke-width="0.8"/>
<ellipse cx="-37.2" cy="0" rx="28.7" ry="42.8" fill="url(#gd)" stroke="#6e6e6e" stroke-width="0.8"/>
<path d="M-37.2,-42.8 L-36.3,-44.6 L-36.3,44.6 L-37.2,42.8 Z" fill="url(#gd)"/>
<path d="M-37.2,-42.8 L-36.3,-44.6 M-37.2,42.8 L-36.3,44.6" fill="none" stroke="#6e6e6e" stroke-width="0.8"/>
<ellipse cx="-36.3" cy="0" rx="29.9" ry="44.6" fill="url(#gd)" stroke="#6e6e6e" stroke-width="0.8"/>
<path d="M-36.3,-44.6 L-30.7,-44.6 L-30.7,44.6 L-36.3,44.6 Z" fill="url(#gd)"/>
<path d="M-36.3,-44.6 L-30.7,-44.6 M-36.3,44.6 L-30.7,44.6" fill="none" stroke="#6e6e6e" stroke-width="0.8"/>
<ellipse cx="-30.7" cy="0" rx="29.9" ry="44.6" fill="url(#gd)" stroke="#6e6e6e" stroke-width="0.8"/>
<path d="M-30.7,-44.6 L-29.8,-42.8 L-29.8,42.8 L-30.7,44.6 Z" fill="url(#gd)"/>
<path d="M-30.7,-44.6 L-29.8,-42.8 M-30.7,44.6 L-29.8,42.8" fill="none" stroke="#6e6e6e" stroke-width="0.8"/>
<ellipse cx="-29.8" cy="0" rx="28.7" ry="42.8" fill="url(#gd)" stroke="#6e6e6e" stroke-width="0.8"/>
<path d="M-29.8,-42.8 L0,-42.8 L0,42.8 L-29.8,42.8 Z" fill="url(#gd)"/>
<path d="M-29.8,-42.8 L0,-42.8 M-29.8,42.8 L0,42.8" fill="none" stroke="#6e6e6e" stroke-width="0.8"/>
<ellipse cx="0" cy="0" rx="28.7" ry="42.8" fill="url(#gd)" stroke="#6e6e6e" stroke-width="0.8"/>
<ellipse cx="0" cy="0" rx="28.7" ry="42.8" fill="#c9c9c9" stroke="#6e6e6e" stroke-width="0.8"/>
<path d="M-1.9,-38.1 C20.5,-35.3 24.2,-11.2 11.2,-1.9 C27.9,7.4 14.9,35.3 -1.9,38.1 C-11.2,27.9 -13,13 -22.3,3.7 C-27.9,-5.6 -20.5,-35.3 -1.9,-38.1 Z" fill="#8f8f8f" stroke="#6e6e6e" stroke-width="0.8"/>
<path d="M-7.4,-27.9 L9.3,-11.2 L0,9.3 L-16.7,-5.6 Z" fill="#b4b4b4"/>
<path d="M0,9.3 L11.2,14.9 L1.9,33.5 L-7.4,27.9 Z" fill="#a6a6a6"/>
</g>
<g transform="translate(631.8,1010.5)" fill="#fff" stroke="#000" stroke-width="3" stroke-linejoin="round">
<path d="M16.5,14 C16.5,22 14,24.5 8,26 C3,27.5 1.2,31 1.2,38 L1.2,103 C1.2,110 8,114 21,116.8 C24,117.3 30,116 38,114.8 C47,113 52,108 52,100 L52,38 C52,31 49,27.5 43,25.5 C37,23.5 34,21.5 33.5,14 Z"/>
<path d="M14.5,4 C14.5,0.5 35.2,0.5 35.2,4 L35.2,12.5 C35.2,16.3 14.5,16.3 14.5,12.5 Z"/>
<path d="M16.5,5 C19,7.6 31,7.6 33.5,5" fill="none" stroke-width="1.2"/>
<path d="M16,22.5 C20,25 30,25 34.5,22.5 M5.5,28.5 L21,34 L46,28.7 M21,34 L21,116.5" fill="none" stroke-width="1.2"/>
</g>
<g transform="translate(651.8,1201.5) rotate(30)">
<path d="M-13.8,0 A13.8,20 0 1,0 13.8,0 A13.8,20 0 1,0 -13.8,0 Z M-8.6,0 A8.6,14.8 0 1,1 8.6,0 A8.6,14.8 0 1,1 -8.6,0 Z" fill="#fff" fill-rule="evenodd" stroke="#0a0a0a" stroke-width="2"/>
<circle cx="-4.2" cy="12" r="2.1" fill="#fff" stroke="#0a0a0a" stroke-width="1.6"/>
<circle cx="-6.6" cy="7.9" r="2.1" fill="#fff" stroke="#0a0a0a" stroke-width="1.6"/>
</g>
<g transform="translate(722.5,1240.9) rotate(30)">
<path d="M-37.7,0 A37.7,52.4 0 1,0 37.7,0 A37.7,52.4 0 1,0 -37.7,0 Z M-28.8,-0.5 A29.1,46.4 0 1,1 29.4,-0.5 A29.1,46.4 0 1,1 -28.8,-0.5 Z" fill="url(#gband2)" fill-rule="evenodd" stroke="#7a7a7a" stroke-width="0.8"/>
</g>
<g transform="translate(804,1291.9) rotate(30)">
<ellipse cx="-7" cy="0" rx="32.8" ry="49" fill="url(#gbd)" stroke="#6e6e6e" stroke-width="0.8"/>
<path d="M-7,-49 L-3,-54 L-3,54 L-7,49 Z" fill="url(#gbd)"/>
<path d="M-7,-49 L-3,-54 M-7,49 L-3,54" fill="none" stroke="#6e6e6e" stroke-width="0.8"/>
<ellipse cx="-3" cy="0" rx="36.2" ry="54" fill="url(#gbd)" stroke="#6e6e6e" stroke-width="0.8"/>
<path d="M-3,-54 L0,-54 L0,54 L-3,54 Z" fill="url(#gb)"/>
<path d="M-3,-54 L0,-54 M-3,54 L0,54" fill="none" stroke="#6e6e6e" stroke-width="0.8"/>
<ellipse cx="0" cy="0" rx="36.2" ry="54" fill="url(#gb)" stroke="#6e6e6e" stroke-width="0.8"/>
<path d="M0,-54 L4.6,-49.8 L4.6,49.8 L0,54 Z" fill="url(#gbd)"/>
<path d="M0,-54 L4.6,-49.8 M0,54 L4.6,49.8" fill="none" stroke="#6e6e6e" stroke-width="0.8"/>
<ellipse cx="4.6" cy="0" rx="33.3" ry="49.8" fill="url(#gbd)" stroke="#6e6e6e" stroke-width="0.8"/>
<path d="M4.6,-49.8 L8.3,-53.1 L8.3,53.1 L4.6,49.8 Z" fill="url(#gb)"/>
<path d="M4.6,-49.8 L8.3,-53.1 M4.6,49.8 L8.3,53.1" fill="none" stroke="#6e6e6e" stroke-width="0.8"/>
<ellipse cx="8.3" cy="0" rx="35.6" ry="53.1" fill="url(#gb)" stroke="#6e6e6e" stroke-width="0.8"/>
<path d="M8.3,-53.1 L12.9,-47.3 L12.9,47.3 L8.3,53.1 Z" fill="url(#gbd)"/>
<path d="M8.3,-53.1 L12.9,-47.3 M8.3,53.1 L12.9,47.3" fill="none" stroke="#6e6e6e" stroke-width="0.8"/>
<ellipse cx="12.9" cy="0" rx="31.7" ry="47.3" fill="url(#gbd)" stroke="#6e6e6e" stroke-width="0.8"/>
<path d="M12.9,-47.3 L16.7,-50.5 L16.7,50.5 L12.9,47.3 Z" fill="url(#gb)"/>
<path d="M12.9,-47.3 L16.7,-50.5 M12.9,47.3 L16.7,50.5" fill="none" stroke="#6e6e6e" stroke-width="0.8"/>
<ellipse cx="16.7" cy="0" rx="33.9" ry="50.5" fill="url(#gb)" stroke="#6e6e6e" stroke-width="0.8"/>
<path d="M16.7,-50.5 L21.2,-43.4 L21.2,43.4 L16.7,50.5 Z" fill="url(#gbd)"/>
<path d="M16.7,-50.5 L21.2,-43.4 M16.7,50.5 L21.2,43.4" fill="none" stroke="#6e6e6e" stroke-width="0.8"/>
<ellipse cx="21.2" cy="0" rx="29.1" ry="43.4" fill="url(#gbd)" stroke="#6e6e6e" stroke-width="0.8"/>
<path d="M21.2,-43.4 L25,-46.5 L25,46.5 L21.2,43.4 Z" fill="url(#gb)"/>
<path d="M21.2,-43.4 L25,-46.5 M21.2,43.4 L25,46.5" fill="none" stroke="#6e6e6e" stroke-width="0.8"/>
<ellipse cx="25" cy="0" rx="31.2" ry="46.5" fill="url(#gb)" stroke="#6e6e6e" stroke-width="0.8"/>
<path d="M25,-46.5 L29.6,-38.2 L29.6,38.2 L25,46.5 Z" fill="url(#gbd)"/>
<path d="M25,-46.5 L29.6,-38.2 M25,46.5 L29.6,38.2" fill="none" stroke="#6e6e6e" stroke-width="0.8"/>
<ellipse cx="29.6" cy="0" rx="25.6" ry="38.2" fill="url(#gbd)" stroke="#6e6e6e" stroke-width="0.8"/>
<path d="M29.6,-38.2 L33.3,-41 L33.3,41 L29.6,38.2 Z" fill="url(#gb)"/>
<path d="M29.6,-38.2 L33.3,-41 M29.6,38.2 L33.3,41" fill="none" stroke="#6e6e6e" stroke-width="0.8"/>
<ellipse cx="33.3" cy="0" rx="27.5" ry="41" fill="url(#gb)" stroke="#6e6e6e" stroke-width="0.8"/>
<path d="M33.3,-41 L37.9,-31.6 L37.9,31.6 L33.3,41 Z" fill="url(#gbd)"/>
<path d="M33.3,-41 L37.9,-31.6 M33.3,41 L37.9,31.6" fill="none" stroke="#6e6e6e" stroke-width="0.8"/>
<ellipse cx="37.9" cy="0" rx="21.1" ry="31.6" fill="url(#gbd)" stroke="#6e6e6e" stroke-width="0.8"/>
<path d="M37.9,-31.6 L41.7,-34.2 L41.7,34.2 L37.9,31.6 Z" fill="url(#gb)"/>
<path d="M37.9,-31.6 L41.7,-34.2 M37.9,31.6 L41.7,34.2" fill="none" stroke="#6e6e6e" stroke-width="0.8"/>
<ellipse cx="41.7" cy="0" rx="22.9" ry="34.2" fill="url(#gb)" stroke="#6e6e6e" stroke-width="0.8"/>
<path d="M41.7,-34.2 L46.2,-23.6 L46.2,23.6 L41.7,34.2 Z" fill="url(#gbd)"/>
<path d="M41.7,-34.2 L46.2,-23.6 M41.7,34.2 L46.2,23.6" fill="none" stroke="#6e6e6e" stroke-width="0.8"/>
<ellipse cx="46.2" cy="0" rx="15.8" ry="23.6" fill="url(#gbd)" stroke="#6e6e6e" stroke-width="0.8"/>
<path d="M46.2,-23.6 L50,-26 L50,26 L46.2,23.6 Z" fill="url(#gb)"/>
<path d="M46.2,-23.6 L50,-26 M46.2,23.6 L50,26" fill="none" stroke="#6e6e6e" stroke-width="0.8"/>
<ellipse cx="50" cy="0" rx="17.4" ry="26" fill="url(#gb)" stroke="#6e6e6e" stroke-width="0.8"/>
<path d="M50,-26 L53,-21 L53,21 L50,26 Z" fill="url(#gb)"/>
<path d="M50,-26 L53,-21 M50,26 L53,21" fill="none" stroke="#6e6e6e" stroke-width="0.8"/>
<ellipse cx="53" cy="0" rx="14.1" ry="21" fill="url(#gb)" stroke="#6e6e6e" stroke-width="0.8"/>
<path d="M53,-21 L54,-19 L54,19 L53,21 Z" fill="url(#gb)"/>
<path d="M53,-21 L54,-19 M53,21 L54,19" fill="none" stroke="#6e6e6e" stroke-width="0.8"/>
<ellipse cx="54" cy="0" rx="12.7" ry="19" fill="url(#gb)" stroke="#6e6e6e" stroke-width="0.8"/>
<path d="M54,-19 L64,-19 L64,19 L54,19 Z" fill="url(#gb)"/>
<path d="M54,-19 L64,-19 M54,19 L64,19" fill="none" stroke="#6e6e6e" stroke-width="0.8"/>
<ellipse cx="64" cy="0" rx="12.7" ry="19" fill="#bfbfbf" stroke="#6e6e6e" stroke-width="0.8"/>
<ellipse cx="64" cy="0" rx="10.4" ry="15.5" fill="#a6a6a6" stroke="#6e6e6e" stroke-width="0.8"/>
<ellipse cx="61.5" cy="0" rx="9.4" ry="14" fill="#c9c9c9" stroke="#909090" stroke-width="0.8"/>
</g>
<g transform="translate(925.4,1357.5) rotate(30)">
<path d="M-15,0 A15,19 0 1,0 15,0 A15,19 0 1,0 -15,0 Z M-7.2,-1 A7.4,14 0 1,1 7.6,-1 A7.4,14 0 1,1 -7.2,-1 Z" fill="url(#gband)" fill-rule="evenodd" stroke="#7a7a7a" stroke-width="0.8"/>
<path d="M-9.3,-15.2 l-1.3,-5.3 l10.6,-0.4 l1.7,5.3 Z" fill="#cfcfcf" stroke="#7a7a7a" stroke-width="0.8"/>
<path d="M-8.5,-17.6 l10.2,-0.3" stroke="#8a8a8a" stroke-width="1" fill="none"/>
</g>
<g transform="translate(1421.3,1644.5) rotate(30)">
<path d="M-15,0 A15,19 0 1,0 15,0 A15,19 0 1,0 -15,0 Z M-7.2,-1 A7.4,14 0 1,1 7.6,-1 A7.4,14 0 1,1 -7.2,-1 Z" fill="url(#gband)" fill-rule="evenodd" stroke="#7a7a7a" stroke-width="0.8"/>
<path d="M-9.3,-15.2 l-1.3,-5.3 l10.6,-0.4 l1.7,5.3 Z" fill="#cfcfcf" stroke="#7a7a7a" stroke-width="0.8"/>
<path d="M-8.5,-17.6 l10.2,-0.3" stroke="#8a8a8a" stroke-width="1" fill="none"/>
</g>
<g transform="translate(1527.5,1699.6) rotate(30)">
<ellipse cx="-72" cy="0" rx="10.1" ry="15" fill="url(#gb)" stroke="#808080" stroke-width="0.7"/>
<path d="M-72,-15 L-58,-15 L-58,15 L-72,15 Z" fill="url(#gb)"/>
<path d="M-72,-15 L-58,-15 M-72,15 L-58,15" fill="none" stroke="#808080" stroke-width="0.7"/>
<ellipse cx="-58" cy="0" rx="10.1" ry="15" fill="url(#gb)" stroke="#808080" stroke-width="0.7"/>
<ellipse cx="-58" cy="0" rx="14.7" ry="22" fill="url(#gl2)" stroke="#808080" stroke-width="0.7"/>
<path d="M-58,-22 L-52.2,-30.5 L-52.2,30.5 L-58,22 Z" fill="url(#gl2)"/>
<path d="M-58,-22 L-52.2,-30.5 M-58,22 L-52.2,30.5" fill="none" stroke="#808080" stroke-width="0.7"/>
<ellipse cx="-52.2" cy="0" rx="20.4" ry="30.5" fill="url(#gl2)" stroke="#808080" stroke-width="0.7"/>
<path d="M-52.2,-30.5 L-46.4,-34.3 L-46.4,34.3 L-52.2,30.5 Z" fill="url(#gl2)"/>
<path d="M-52.2,-30.5 L-46.4,-34.3 M-52.2,30.5 L-46.4,34.3" fill="none" stroke="#808080" stroke-width="0.7"/>
<ellipse cx="-46.4" cy="0" rx="23" ry="34.3" fill="url(#gl2)" stroke="#808080" stroke-width="0.7"/>
<path d="M-46.4,-34.3 L-40.6,-38.5 L-40.6,38.5 L-46.4,34.3 Z" fill="url(#gl2)"/>
<path d="M-46.4,-34.3 L-40.6,-38.5 M-46.4,34.3 L-40.6,38.5" fill="none" stroke="#808080" stroke-width="0.7"/>
<ellipse cx="-40.6" cy="0" rx="25.8" ry="38.5" fill="url(#gl2)" stroke="#808080" stroke-width="0.7"/>
<path d="M-40.6,-38.5 L-34.8,-42.6 L-34.8,42.6 L-40.6,38.5 Z" fill="url(#gl2)"/>
<path d="M-40.6,-38.5 L-34.8,-42.6 M-40.6,38.5 L-34.8,42.6" fill="none" stroke="#808080" stroke-width="0.7"/>
<ellipse cx="-34.8" cy="0" rx="28.6" ry="42.6" fill="url(#gl2)" stroke="#808080" stroke-width="0.7"/>
<path d="M-34.8,-42.6 L-29,-44.7 L-29,44.7 L-34.8,42.6 Z" fill="url(#gl2)"/>
<path d="M-34.8,-42.6 L-29,-44.7 M-34.8,42.6 L-29,44.7" fill="none" stroke="#808080" stroke-width="0.7"/>
<ellipse cx="-29" cy="0" rx="29.9" ry="44.7" fill="url(#gl2)" stroke="#808080" stroke-width="0.7"/>
<path d="M-29,-44.7 L-23.2,-49 L-23.2,49 L-29,44.7 Z" fill="url(#gl2)"/>
<path d="M-29,-44.7 L-23.2,-49 M-29,44.7 L-23.2,49" fill="none" stroke="#808080" stroke-width="0.7"/>
<ellipse cx="-23.2" cy="0" rx="32.9" ry="49" fill="url(#gl2)" stroke="#808080" stroke-width="0.7"/>
<path d="M-23.2,-49 L-17.4,-48.8 L-17.4,48.8 L-23.2,49 Z" fill="url(#gb2)"/>
<path d="M-23.2,-49 L-17.4,-48.8 M-23.2,49 L-17.4,48.8" fill="none" stroke="#808080" stroke-width="0.7"/>
<ellipse cx="-17.4" cy="0" rx="32.7" ry="48.8" fill="url(#gb2)" stroke="#808080" stroke-width="0.7"/>
<path d="M-17.4,-48.8 L-11.6,-53.3 L-11.6,53.3 L-17.4,48.8 Z" fill="url(#gb2)"/>
<path d="M-17.4,-48.8 L-11.6,-53.3 M-17.4,48.8 L-11.6,53.3" fill="none" stroke="#808080" stroke-width="0.7"/>
<ellipse cx="-11.6" cy="0" rx="35.7" ry="53.3" fill="url(#gb2)" stroke="#808080" stroke-width="0.7"/>
<path d="M-11.6,-53.3 L-5.8,-50.4 L-5.8,50.4 L-11.6,53.3 Z" fill="url(#gb2)"/>
<path d="M-11.6,-53.3 L-5.8,-50.4 M-11.6,53.3 L-5.8,50.4" fill="none" stroke="#808080" stroke-width="0.7"/>
<ellipse cx="-5.8" cy="0" rx="33.8" ry="50.4" fill="url(#gb2)" stroke="#808080" stroke-width="0.7"/>
<ellipse cx="0" cy="0" rx="36.9" ry="55" fill="#c9c9c9" stroke="#7c7c7c" stroke-width="0.8"/>
<ellipse cx="-1.5" cy="0" rx="34.5" ry="51.5" fill="#a9a9a9" stroke="#858585" stroke-width="0.7"/>
<ellipse cx="-5" cy="0" rx="30.8" ry="46" fill="#bdbdbd" stroke="#8a8a8a" stroke-width="0.7"/>
<ellipse cx="-8" cy="0" rx="27.5" ry="41" fill="#a4a4a4" stroke="#808080" stroke-width="0.7"/>
<ellipse cx="-12" cy="0" rx="23.5" ry="35" fill="#bababa" stroke="#8a8a8a" stroke-width="0.7"/>
<ellipse cx="-15.5" cy="0" rx="20.1" ry="30" fill="#a2a2a2" stroke="#7c7c7c" stroke-width="0.7"/>
<ellipse cx="-19" cy="0" rx="16.8" ry="25" fill="#b4b4b4" stroke="#858585" stroke-width="0.7"/>
</g>
<g transform="translate(1617.5,1750.6) rotate(30)">
<path d="M-37.9,0 A37.9,55 0 1,0 37.9,0 A37.9,55 0 1,0 -37.9,0 Z M-29.2,-1 A29.5,50.4 0 1,1 29.8,-1 A29.5,50.4 0 1,1 -29.2,-1 Z" fill="url(#gband)" fill-rule="evenodd" stroke="#7a7a7a" stroke-width="0.8"/>
<path d="M-23.5,-44 l-1.6,-6.8 l13.8,-0.6 l2.2,6.8 Z" fill="#cfcfcf" stroke="#7a7a7a" stroke-width="0.8"/>
<path d="M-22.4,-47.1 l13.2,-0.3" stroke="#8a8a8a" stroke-width="1" fill="none"/>
</g>
<g transform="translate(1713.5,1637.6)" fill="#fff" stroke="#000" stroke-width="3" stroke-linejoin="round">
<path d="M16.5,14 C16.5,22 14,24.5 8,26 C3,27.5 1.2,31 1.2,38 L1.2,103 C1.2,110 8,114 21,116.8 C24,117.3 30,116 38,114.8 C47,113 52,108 52,100 L52,38 C52,31 49,27.5 43,25.5 C37,23.5 34,21.5 33.5,14 Z"/>
<path d="M14.5,4 C14.5,0.5 35.2,0.5 35.2,4 L35.2,12.5 C35.2,16.3 14.5,16.3 14.5,12.5 Z"/>
<path d="M16.5,5 C19,7.6 31,7.6 33.5,5" fill="none" stroke-width="1.2"/>
<path d="M16,22.5 C20,25 30,25 34.5,22.5 M5.5,28.5 L21,34 L46,28.7 M21,34 L21,116.5" fill="none" stroke-width="1.2"/>
</g>
<g transform="translate(1705.9,1796.7) rotate(30)">
<path d="M1.8,17.2 A11.2,17.4 0 1,1 5.1,15.5" fill="none" stroke="#0a0a0a" stroke-width="7.2"/>
<path d="M1.1,17.3 A11.2,17.4 0 1,1 5.7,15" fill="none" stroke="#fff" stroke-width="3.2"/>
</g>
<g transform="translate(1813,1850) rotate(30)">
<ellipse cx="-46" cy="0" rx="17.4" ry="26" fill="url(#gm)" stroke="#6e6e6e" stroke-width="0.8"/>
<path d="M-46,-26 L-42,-36 L-42,36 L-46,26 Z" fill="url(#gm)"/>
<path d="M-46,-26 L-42,-36 M-46,26 L-42,36" fill="none" stroke="#6e6e6e" stroke-width="0.8"/>
<ellipse cx="-42" cy="0" rx="24.1" ry="36" fill="url(#gm)" stroke="#6e6e6e" stroke-width="0.8"/>
<path d="M-42,-36 L-34,-42 L-34,42 L-42,36 Z" fill="url(#gm)"/>
<path d="M-42,-36 L-34,-42 M-42,36 L-34,42" fill="none" stroke="#6e6e6e" stroke-width="0.8"/>
<ellipse cx="-34" cy="0" rx="28.1" ry="42" fill="url(#gm)" stroke="#6e6e6e" stroke-width="0.8"/>
<path d="M-34,-42 L-22,-45.5 L-22,45.5 L-34,42 Z" fill="url(#gm)"/>
<path d="M-34,-42 L-22,-45.5 M-34,42 L-22,45.5" fill="none" stroke="#6e6e6e" stroke-width="0.8"/>
<ellipse cx="-22" cy="0" rx="30.5" ry="45.5" fill="url(#gm)" stroke="#6e6e6e" stroke-width="0.8"/>
<path d="M-22,-45.5 L-8,-46.5 L-8,46.5 L-22,45.5 Z" fill="url(#gm)"/>
<path d="M-22,-45.5 L-8,-46.5 M-22,45.5 L-8,46.5" fill="none" stroke="#6e6e6e" stroke-width="0.8"/>
<ellipse cx="-8" cy="0" rx="31.2" ry="46.5" fill="url(#gm)" stroke="#6e6e6e" stroke-width="0.8"/>
<path d="M-8,-46.5 L6,-46.5 L6,46.5 L-8,46.5 Z" fill="url(#gm)"/>
<path d="M-8,-46.5 L6,-46.5 M-8,46.5 L6,46.5" fill="none" stroke="#6e6e6e" stroke-width="0.8"/>
<ellipse cx="6" cy="0" rx="31.2" ry="46.5" fill="url(#gm)" stroke="#6e6e6e" stroke-width="0.8"/>
<path d="M6,-46.5 L10,-44 L10,44 L6,46.5 Z" fill="url(#gm)"/>
<path d="M6,-46.5 L10,-44 M6,46.5 L10,44" fill="none" stroke="#6e6e6e" stroke-width="0.8"/>
<ellipse cx="10" cy="0" rx="29.5" ry="44" fill="#c4c4c4" stroke="#6e6e6e" stroke-width="0.8"/>
<ellipse cx="10" cy="0" rx="20.8" ry="31" fill="#b8b8b8" stroke="#6e6e6e" stroke-width="0.8"/>
<path d="M10,-31 L15,-27 L15,27 L10,31 Z" fill="url(#gm)"/>
<path d="M10,-31 L15,-27 M10,31 L15,27" fill="none" stroke="#6e6e6e" stroke-width="0.8"/>
<ellipse cx="15" cy="0" rx="18.1" ry="27" fill="#c6c6c6" stroke="#6e6e6e" stroke-width="0.8"/>
<ellipse cx="15" cy="0" rx="14.1" ry="21" fill="url(#gm)" stroke="#6e6e6e" stroke-width="0.8"/>
<path d="M15,-21 L22,-19.5 L22,19.5 L15,21 Z" fill="url(#gm)"/>
<path d="M15,-21 L22,-19.5 M15,21 L22,19.5" fill="none" stroke="#6e6e6e" stroke-width="0.8"/>
<ellipse cx="22" cy="0" rx="13.1" ry="19.5" fill="#c6c6c6" stroke="#6e6e6e" stroke-width="0.8"/>
<ellipse cx="22" cy="0" rx="11.4" ry="17" fill="url(#spl)" stroke="#6e6e6e" stroke-width="0.8"/>
<path d="M22,-17 L68,-17 L68,17 L22,17 Z" fill="url(#spl)"/>
<path d="M22,-17 L68,-17 M22,17 L68,17" fill="none" stroke="#6e6e6e" stroke-width="0.8"/>
<ellipse cx="68" cy="0" rx="11.4" ry="17" fill="url(#spl)" stroke="#6e6e6e" stroke-width="0.8"/>
<ellipse cx="68" cy="0" rx="8.4" ry="12.5" fill="url(#gs)" stroke="#6e6e6e" stroke-width="0.8"/>
<path d="M68,-12.5 L74,-12.5 L74,12.5 L68,12.5 Z" fill="url(#gs)"/>
<path d="M68,-12.5 L74,-12.5 M68,12.5 L74,12.5" fill="none" stroke="#6e6e6e" stroke-width="0.8"/>
<ellipse cx="74" cy="0" rx="8.4" ry="12.5" fill="url(#gs)" stroke="#6e6e6e" stroke-width="0.8"/>
<ellipse cx="74" cy="0" rx="7" ry="10.5" fill="url(#gs)" stroke="#6e6e6e" stroke-width="0.8"/>
<path d="M74,-10.5 L98,-10.5 L98,10.5 L74,10.5 Z" fill="url(#gs)"/>
<path d="M74,-10.5 L98,-10.5 M74,10.5 L98,10.5" fill="none" stroke="#6e6e6e" stroke-width="0.8"/>
<ellipse cx="98" cy="0" rx="7" ry="10.5" fill="#b6b6b6" stroke="#6e6e6e" stroke-width="0.8"/>
<path d="M93,3 L101,3 L101,9 L95,10 Z" fill="#8a8a8a"/>
</g>
<g transform="translate(1939.6,1920.2) rotate(30)">
<path d="M-30.8,0 A30.8,46 0 1,0 30.8,0 A30.8,46 0 1,0 -30.8,0 Z M-24.8,0 A22.3,41.5 0 1,1 19.8,0 A22.3,41.5 0 1,1 -24.8,0 Z" fill="url(#gband)" fill-rule="evenodd" stroke="#7a7a7a" stroke-width="0.8"/>
<path d="M-1,-43 A25.3,43 0 0,1 -1,43" fill="none" stroke="#8e8e8e" stroke-width="1"/><path d="M-3,-44.5 A28.3,44.5 0 0,0 -3,44.5" fill="none" stroke="#999" stroke-width="0.8"/>
</g>
<g transform="translate(136.3,1237.6)" fill="#fff" stroke="#000" stroke-width="3" stroke-linejoin="round">
<path d="M16.5,14 C16.5,22 14,24.5 8,26 C3,27.5 1.2,31 1.2,38 L1.2,103 C1.2,110 8,114 21,116.8 C24,117.3 30,116 38,114.8 C47,113 52,108 52,100 L52,38 C52,31 49,27.5 43,25.5 C37,23.5 34,21.5 33.5,14 Z"/>
<path d="M14.5,4 C14.5,0.5 35.2,0.5 35.2,4 L35.2,12.5 C35.2,16.3 14.5,16.3 14.5,12.5 Z"/>
<path d="M16.5,5 C19,7.6 31,7.6 33.5,5" fill="none" stroke-width="1.2"/>
<path d="M16,22.5 C20,25 30,25 34.5,22.5 M5.5,28.5 L21,34 L46,28.7 M21,34 L21,116.5" fill="none" stroke-width="1.2"/>
</g>
<g transform="translate(99.8,1381) rotate(30)">
<path d="M1.8,17.2 A11.2,17.4 0 1,1 5.1,15.5" fill="none" stroke="#0a0a0a" stroke-width="7.2"/>
<path d="M1.1,17.3 A11.2,17.4 0 1,1 5.7,15" fill="none" stroke="#fff" stroke-width="3.2"/>
</g>
<g transform="translate(589,1629.5) rotate(30)">
<path d="M1.8,17.2 A11.2,17.4 0 1,1 5.1,15.5" fill="none" stroke="#0a0a0a" stroke-width="7.2"/>
<path d="M1.1,17.3 A11.2,17.4 0 1,1 5.7,15" fill="none" stroke="#fff" stroke-width="3.2"/>
</g>
<g transform="translate(635.1,1655) rotate(30)">
<path d="M-15,0 A15,19 0 1,0 15,0 A15,19 0 1,0 -15,0 Z M-7.2,-1 A7.4,14 0 1,1 7.6,-1 A7.4,14 0 1,1 -7.2,-1 Z" fill="url(#gband)" fill-rule="evenodd" stroke="#7a7a7a" stroke-width="0.8"/>
<path d="M-9.3,-15.2 l-1.3,-5.3 l10.6,-0.4 l1.7,5.3 Z" fill="#cfcfcf" stroke="#7a7a7a" stroke-width="0.8"/>
<path d="M-8.5,-17.6 l10.2,-0.3" stroke="#8a8a8a" stroke-width="1" fill="none"/>
</g>
<g transform="translate(742,1707) rotate(30)">
<ellipse cx="-72" cy="0" rx="10.1" ry="15" fill="url(#gb)" stroke="#808080" stroke-width="0.7"/>
<path d="M-72,-15 L-58,-15 L-58,15 L-72,15 Z" fill="url(#gb)"/>
<path d="M-72,-15 L-58,-15 M-72,15 L-58,15" fill="none" stroke="#808080" stroke-width="0.7"/>
<ellipse cx="-58" cy="0" rx="10.1" ry="15" fill="url(#gb)" stroke="#808080" stroke-width="0.7"/>
<ellipse cx="-58" cy="0" rx="14.7" ry="22" fill="url(#gl2)" stroke="#808080" stroke-width="0.7"/>
<path d="M-58,-22 L-52.2,-30.5 L-52.2,30.5 L-58,22 Z" fill="url(#gl2)"/>
<path d="M-58,-22 L-52.2,-30.5 M-58,22 L-52.2,30.5" fill="none" stroke="#808080" stroke-width="0.7"/>
<ellipse cx="-52.2" cy="0" rx="20.4" ry="30.5" fill="url(#gl2)" stroke="#808080" stroke-width="0.7"/>
<path d="M-52.2,-30.5 L-46.4,-34.3 L-46.4,34.3 L-52.2,30.5 Z" fill="url(#gl2)"/>
<path d="M-52.2,-30.5 L-46.4,-34.3 M-52.2,30.5 L-46.4,34.3" fill="none" stroke="#808080" stroke-width="0.7"/>
<ellipse cx="-46.4" cy="0" rx="23" ry="34.3" fill="url(#gl2)" stroke="#808080" stroke-width="0.7"/>
<path d="M-46.4,-34.3 L-40.6,-38.5 L-40.6,38.5 L-46.4,34.3 Z" fill="url(#gl2)"/>
<path d="M-46.4,-34.3 L-40.6,-38.5 M-46.4,34.3 L-40.6,38.5" fill="none" stroke="#808080" stroke-width="0.7"/>
<ellipse cx="-40.6" cy="0" rx="25.8" ry="38.5" fill="url(#gl2)" stroke="#808080" stroke-width="0.7"/>
<path d="M-40.6,-38.5 L-34.8,-42.6 L-34.8,42.6 L-40.6,38.5 Z" fill="url(#gl2)"/>
<path d="M-40.6,-38.5 L-34.8,-42.6 M-40.6,38.5 L-34.8,42.6" fill="none" stroke="#808080" stroke-width="0.7"/>
<ellipse cx="-34.8" cy="0" rx="28.6" ry="42.6" fill="url(#gl2)" stroke="#808080" stroke-width="0.7"/>
<path d="M-34.8,-42.6 L-29,-44.7 L-29,44.7 L-34.8,42.6 Z" fill="url(#gl2)"/>
<path d="M-34.8,-42.6 L-29,-44.7 M-34.8,42.6 L-29,44.7" fill="none" stroke="#808080" stroke-width="0.7"/>
<ellipse cx="-29" cy="0" rx="29.9" ry="44.7" fill="url(#gl2)" stroke="#808080" stroke-width="0.7"/>
<path d="M-29,-44.7 L-23.2,-49 L-23.2,49 L-29,44.7 Z" fill="url(#gl2)"/>
<path d="M-29,-44.7 L-23.2,-49 M-29,44.7 L-23.2,49" fill="none" stroke="#808080" stroke-width="0.7"/>
<ellipse cx="-23.2" cy="0" rx="32.9" ry="49" fill="url(#gl2)" stroke="#808080" stroke-width="0.7"/>
<path d="M-23.2,-49 L-17.4,-48.8 L-17.4,48.8 L-23.2,49 Z" fill="url(#gb2)"/>
<path d="M-23.2,-49 L-17.4,-48.8 M-23.2,49 L-17.4,48.8" fill="none" stroke="#808080" stroke-width="0.7"/>
<ellipse cx="-17.4" cy="0" rx="32.7" ry="48.8" fill="url(#gb2)" stroke="#808080" stroke-width="0.7"/>
<path d="M-17.4,-48.8 L-11.6,-53.3 L-11.6,53.3 L-17.4,48.8 Z" fill="url(#gb2)"/>
<path d="M-17.4,-48.8 L-11.6,-53.3 M-17.4,48.8 L-11.6,53.3" fill="none" stroke="#808080" stroke-width="0.7"/>
<ellipse cx="-11.6" cy="0" rx="35.7" ry="53.3" fill="url(#gb2)" stroke="#808080" stroke-width="0.7"/>
<path d="M-11.6,-53.3 L-5.8,-50.4 L-5.8,50.4 L-11.6,53.3 Z" fill="url(#gb2)"/>
<path d="M-11.6,-53.3 L-5.8,-50.4 M-11.6,53.3 L-5.8,50.4" fill="none" stroke="#808080" stroke-width="0.7"/>
<ellipse cx="-5.8" cy="0" rx="33.8" ry="50.4" fill="url(#gb2)" stroke="#808080" stroke-width="0.7"/>
<ellipse cx="0" cy="0" rx="36.9" ry="55" fill="#c9c9c9" stroke="#7c7c7c" stroke-width="0.8"/>
<ellipse cx="-1.5" cy="0" rx="34.5" ry="51.5" fill="#a9a9a9" stroke="#858585" stroke-width="0.7"/>
<ellipse cx="-5" cy="0" rx="30.8" ry="46" fill="#bdbdbd" stroke="#8a8a8a" stroke-width="0.7"/>
<ellipse cx="-8" cy="0" rx="27.5" ry="41" fill="#a4a4a4" stroke="#808080" stroke-width="0.7"/>
<ellipse cx="-12" cy="0" rx="23.5" ry="35" fill="#bababa" stroke="#8a8a8a" stroke-width="0.7"/>
<ellipse cx="-15.5" cy="0" rx="20.1" ry="30" fill="#a2a2a2" stroke="#7c7c7c" stroke-width="0.7"/>
<ellipse cx="-19" cy="0" rx="16.8" ry="25" fill="#b4b4b4" stroke="#858585" stroke-width="0.7"/>
</g>
<g transform="translate(831,1761) rotate(30)">
<path d="M-37.9,0 A37.9,55 0 1,0 37.9,0 A37.9,55 0 1,0 -37.9,0 Z M-29.2,-1 A29.5,50.4 0 1,1 29.8,-1 A29.5,50.4 0 1,1 -29.2,-1 Z" fill="url(#gband)" fill-rule="evenodd" stroke="#7a7a7a" stroke-width="0.8"/>
<path d="M-23.5,-44 l-1.6,-6.8 l13.8,-0.6 l2.2,6.8 Z" fill="#cfcfcf" stroke="#7a7a7a" stroke-width="0.8"/>
<path d="M-22.4,-47.1 l13.2,-0.3" stroke="#8a8a8a" stroke-width="1" fill="none"/>
</g>
<g transform="translate(895.5,1659)" fill="#fff" stroke="#000" stroke-width="3" stroke-linejoin="round">
<path d="M16.5,14 C16.5,22 14,24.5 8,26 C3,27.5 1.2,31 1.2,38 L1.2,103 C1.2,110 8,114 21,116.8 C24,117.3 30,116 38,114.8 C47,113 52,108 52,100 L52,38 C52,31 49,27.5 43,25.5 C37,23.5 34,21.5 33.5,14 Z"/>
<path d="M14.5,4 C14.5,0.5 35.2,0.5 35.2,4 L35.2,12.5 C35.2,16.3 14.5,16.3 14.5,12.5 Z"/>
<path d="M16.5,5 C19,7.6 31,7.6 33.5,5" fill="none" stroke-width="1.2"/>
<path d="M16,22.5 C20,25 30,25 34.5,22.5 M5.5,28.5 L21,34 L46,28.7 M21,34 L21,116.5" fill="none" stroke-width="1.2"/>
</g>
<g transform="translate(917.8,1807.7) rotate(30)">
<path d="M1.8,17.2 A11.2,17.4 0 1,1 5.1,15.5" fill="none" stroke="#0a0a0a" stroke-width="7.2"/>
<path d="M1.1,17.3 A11.2,17.4 0 1,1 5.7,15" fill="none" stroke="#fff" stroke-width="3.2"/>
</g>
<g transform="translate(146.3,1881.3) rotate(30)">
<path d="M1.8,17.2 A11.2,17.4 0 1,1 5.1,15.5" fill="none" stroke="#0a0a0a" stroke-width="7.2"/>
<path d="M1.1,17.3 A11.2,17.4 0 1,1 5.7,15" fill="none" stroke="#fff" stroke-width="3.2"/>
</g>
<g transform="translate(325.9,1984.1) rotate(30)">
<ellipse cx="-139.5" cy="0" rx="10.6" ry="15.8" fill="url(#gs)" stroke="#6e6e6e" stroke-width="0.8"/>
<path d="M-139.5,-15.8 L-136.7,-17.7 L-136.7,17.7 L-139.5,15.8 Z" fill="url(#spl)"/>
<path d="M-139.5,-15.8 L-136.7,-17.7 M-139.5,15.8 L-136.7,17.7" fill="none" stroke="#6e6e6e" stroke-width="0.8"/>
<ellipse cx="-136.7" cy="0" rx="11.8" ry="17.7" fill="url(#spl)" stroke="#6e6e6e" stroke-width="0.8"/>
<path d="M-136.7,-17.7 L-113.5,-17.7 L-113.5,17.7 L-136.7,17.7 Z" fill="url(#spl)"/>
<path d="M-136.7,-17.7 L-113.5,-17.7 M-136.7,17.7 L-113.5,17.7" fill="none" stroke="#6e6e6e" stroke-width="0.8"/>
<ellipse cx="-113.5" cy="0" rx="11.8" ry="17.7" fill="url(#spl)" stroke="#6e6e6e" stroke-width="0.8"/>
<path d="M-113.5,-17.7 L-111.6,-12.6 L-111.6,12.6 L-113.5,17.7 Z" fill="url(#gs)"/>
<path d="M-113.5,-17.7 L-111.6,-12.6 M-113.5,17.7 L-111.6,12.6" fill="none" stroke="#6e6e6e" stroke-width="0.8"/>
<ellipse cx="-111.6" cy="0" rx="8.4" ry="12.6" fill="url(#gs)" stroke="#6e6e6e" stroke-width="0.8"/>
<path d="M-111.6,-12.6 L-100.4,-12.6 L-100.4,12.6 L-111.6,12.6 Z" fill="url(#gs)"/>
<path d="M-111.6,-12.6 L-100.4,-12.6 M-111.6,12.6 L-100.4,12.6" fill="none" stroke="#6e6e6e" stroke-width="0.8"/>
<ellipse cx="-100.4" cy="0" rx="8.4" ry="12.6" fill="url(#gs)" stroke="#6e6e6e" stroke-width="0.8"/>
<ellipse cx="-100.4" cy="0" rx="13.1" ry="19.5" fill="url(#gd)" stroke="#6e6e6e" stroke-width="0.8"/>
<path d="M-100.4,-19.5 L-96.7,-19.5 L-96.7,19.5 L-100.4,19.5 Z" fill="url(#gd)"/>
<path d="M-100.4,-19.5 L-96.7,-19.5 M-100.4,19.5 L-96.7,19.5" fill="none" stroke="#6e6e6e" stroke-width="0.8"/>
<ellipse cx="-96.7" cy="0" rx="13.1" ry="19.5" fill="url(#gd)" stroke="#6e6e6e" stroke-width="0.8"/>
<ellipse cx="-96.7" cy="0" rx="17.4" ry="26" fill="url(#gd)" stroke="#6e6e6e" stroke-width="0.8"/>
<path d="M-96.7,-26 L-94.9,-26 L-94.9,26 L-96.7,26 Z" fill="url(#gd)"/>
<path d="M-96.7,-26 L-94.9,-26 M-96.7,26 L-94.9,26" fill="none" stroke="#6e6e6e" stroke-width="0.8"/>
<ellipse cx="-94.9" cy="0" rx="17.4" ry="26" fill="url(#gd)" stroke="#6e6e6e" stroke-width="0.8"/>
<ellipse cx="-94.9" cy="0" rx="22.4" ry="33.5" fill="url(#gd)" stroke="#6e6e6e" stroke-width="0.8"/>
<path d="M-94.9,-33.5 L-81.8,-42.8 L-81.8,42.8 L-94.9,33.5 Z" fill="url(#gd)"/>
<path d="M-94.9,-33.5 L-81.8,-42.8 M-94.9,33.5 L-81.8,42.8" fill="none" stroke="#6e6e6e" stroke-width="0.8"/>
<ellipse cx="-81.8" cy="0" rx="28.7" ry="42.8" fill="url(#gd)" stroke="#6e6e6e" stroke-width="0.8"/>
<path d="M-81.8,-42.8 L-37.2,-42.8 L-37.2,42.8 L-81.8,42.8 Z" fill="url(#gd)"/>
<path d="M-81.8,-42.8 L-37.2,-42.8 M-81.8,42.8 L-37.2,42.8" fill="none" stroke="#6e6e6e" stroke-width="0.8"/>
<ellipse cx="-37.2" cy="0" rx="28.7" ry="42.8" fill="url(#gd)" stroke="#6e6e6e" stroke-width="0.8"/>
<path d="M-37.2,-42.8 L-36.3,-44.6 L-36.3,44.6 L-37.2,42.8 Z" fill="url(#gd)"/>
<path d="M-37.2,-42.8 L-36.3,-44.6 M-37.2,42.8 L-36.3,44.6" fill="none" stroke="#6e6e6e" stroke-width="0.8"/>
<ellipse cx="-36.3" cy="0" rx="29.9" ry="44.6" fill="url(#gd)" stroke="#6e6e6e" stroke-width="0.8"/>
<path d="M-36.3,-44.6 L-30.7,-44.6 L-30.7,44.6 L-36.3,44.6 Z" fill="url(#gd)"/>
<path d="M-36.3,-44.6 L-30.7,-44.6 M-36.3,44.6 L-30.7,44.6" fill="none" stroke="#6e6e6e" stroke-width="0.8"/>
<ellipse cx="-30.7" cy="0" rx="29.9" ry="44.6" fill="url(#gd)" stroke="#6e6e6e" stroke-width="0.8"/>
<path d="M-30.7,-44.6 L-29.8,-42.8 L-29.8,42.8 L-30.7,44.6 Z" fill="url(#gd)"/>
<path d="M-30.7,-44.6 L-29.8,-42.8 M-30.7,44.6 L-29.8,42.8" fill="none" stroke="#6e6e6e" stroke-width="0.8"/>
<ellipse cx="-29.8" cy="0" rx="28.7" ry="42.8" fill="url(#gd)" stroke="#6e6e6e" stroke-width="0.8"/>
<path d="M-29.8,-42.8 L0,-42.8 L0,42.8 L-29.8,42.8 Z" fill="url(#gd)"/>
<path d="M-29.8,-42.8 L0,-42.8 M-29.8,42.8 L0,42.8" fill="none" stroke="#6e6e6e" stroke-width="0.8"/>
<ellipse cx="0" cy="0" rx="28.7" ry="42.8" fill="url(#gd)" stroke="#6e6e6e" stroke-width="0.8"/>
<ellipse cx="0" cy="0" rx="28.7" ry="42.8" fill="#c9c9c9" stroke="#6e6e6e" stroke-width="0.8"/>
<path d="M-1.9,-38.1 C20.5,-35.3 24.2,-11.2 11.2,-1.9 C27.9,7.4 14.9,35.3 -1.9,38.1 C-11.2,27.9 -13,13 -22.3,3.7 C-27.9,-5.6 -20.5,-35.3 -1.9,-38.1 Z" fill="#8f8f8f" stroke="#6e6e6e" stroke-width="0.8"/>
<path d="M-7.4,-27.9 L9.3,-11.2 L0,9.3 L-16.7,-5.6 Z" fill="#b4b4b4"/>
<path d="M0,9.3 L11.2,14.9 L1.9,33.5 L-7.4,27.9 Z" fill="#a6a6a6"/>
</g>
<g transform="translate(355.3,1795)" fill="#fff" stroke="#000" stroke-width="3" stroke-linejoin="round">
<path d="M16.5,14 C16.5,22 14,24.5 8,26 C3,27.5 1.2,31 1.2,38 L1.2,103 C1.2,110 8,114 21,116.8 C24,117.3 30,116 38,114.8 C47,113 52,108 52,100 L52,38 C52,31 49,27.5 43,25.5 C37,23.5 34,21.5 33.5,14 Z"/>
<path d="M14.5,4 C14.5,0.5 35.2,0.5 35.2,4 L35.2,12.5 C35.2,16.3 14.5,16.3 14.5,12.5 Z"/>
<path d="M16.5,5 C19,7.6 31,7.6 33.5,5" fill="none" stroke-width="1.2"/>
<path d="M16,22.5 C20,25 30,25 34.5,22.5 M5.5,28.5 L21,34 L46,28.7 M21,34 L21,116.5" fill="none" stroke-width="1.2"/>
</g>
<g transform="translate(374.3,1997.7) rotate(30)">
<path d="M-13.8,0 A13.8,20 0 1,0 13.8,0 A13.8,20 0 1,0 -13.8,0 Z M-8.6,0 A8.6,14.8 0 1,1 8.6,0 A8.6,14.8 0 1,1 -8.6,0 Z" fill="#fff" fill-rule="evenodd" stroke="#0a0a0a" stroke-width="2"/>
<circle cx="-4.2" cy="12" r="2.1" fill="#fff" stroke="#0a0a0a" stroke-width="1.6"/>
<circle cx="-6.6" cy="7.9" r="2.1" fill="#fff" stroke="#0a0a0a" stroke-width="1.6"/>
</g>
<g transform="translate(445.6,2036.6) rotate(30)">
<path d="M-37.7,0 A37.7,52.4 0 1,0 37.7,0 A37.7,52.4 0 1,0 -37.7,0 Z M-28.8,-0.5 A29.1,46.4 0 1,1 29.4,-0.5 A29.1,46.4 0 1,1 -28.8,-0.5 Z" fill="url(#gband2)" fill-rule="evenodd" stroke="#7a7a7a" stroke-width="0.8"/>
</g>
<g transform="translate(527.6,2088) rotate(30)">
<ellipse cx="-7" cy="0" rx="32.8" ry="49" fill="url(#gbd)" stroke="#6e6e6e" stroke-width="0.8"/>
<path d="M-7,-49 L-3,-54 L-3,54 L-7,49 Z" fill="url(#gbd)"/>
<path d="M-7,-49 L-3,-54 M-7,49 L-3,54" fill="none" stroke="#6e6e6e" stroke-width="0.8"/>
<ellipse cx="-3" cy="0" rx="36.2" ry="54" fill="url(#gbd)" stroke="#6e6e6e" stroke-width="0.8"/>
<path d="M-3,-54 L0,-54 L0,54 L-3,54 Z" fill="url(#gb)"/>
<path d="M-3,-54 L0,-54 M-3,54 L0,54" fill="none" stroke="#6e6e6e" stroke-width="0.8"/>
<ellipse cx="0" cy="0" rx="36.2" ry="54" fill="url(#gb)" stroke="#6e6e6e" stroke-width="0.8"/>
<path d="M0,-54 L4.6,-49.8 L4.6,49.8 L0,54 Z" fill="url(#gbd)"/>
<path d="M0,-54 L4.6,-49.8 M0,54 L4.6,49.8" fill="none" stroke="#6e6e6e" stroke-width="0.8"/>
<ellipse cx="4.6" cy="0" rx="33.3" ry="49.8" fill="url(#gbd)" stroke="#6e6e6e" stroke-width="0.8"/>
<path d="M4.6,-49.8 L8.3,-53.1 L8.3,53.1 L4.6,49.8 Z" fill="url(#gb)"/>
<path d="M4.6,-49.8 L8.3,-53.1 M4.6,49.8 L8.3,53.1" fill="none" stroke="#6e6e6e" stroke-width="0.8"/>
<ellipse cx="8.3" cy="0" rx="35.6" ry="53.1" fill="url(#gb)" stroke="#6e6e6e" stroke-width="0.8"/>
<path d="M8.3,-53.1 L12.9,-47.3 L12.9,47.3 L8.3,53.1 Z" fill="url(#gbd)"/>
<path d="M8.3,-53.1 L12.9,-47.3 M8.3,53.1 L12.9,47.3" fill="none" stroke="#6e6e6e" stroke-width="0.8"/>
<ellipse cx="12.9" cy="0" rx="31.7" ry="47.3" fill="url(#gbd)" stroke="#6e6e6e" stroke-width="0.8"/>
<path d="M12.9,-47.3 L16.7,-50.5 L16.7,50.5 L12.9,47.3 Z" fill="url(#gb)"/>
<path d="M12.9,-47.3 L16.7,-50.5 M12.9,47.3 L16.7,50.5" fill="none" stroke="#6e6e6e" stroke-width="0.8"/>
<ellipse cx="16.7" cy="0" rx="33.9" ry="50.5" fill="url(#gb)" stroke="#6e6e6e" stroke-width="0.8"/>
<path d="M16.7,-50.5 L21.2,-43.4 L21.2,43.4 L16.7,50.5 Z" fill="url(#gbd)"/>
<path d="M16.7,-50.5 L21.2,-43.4 M16.7,50.5 L21.2,43.4" fill="none" stroke="#6e6e6e" stroke-width="0.8"/>
<ellipse cx="21.2" cy="0" rx="29.1" ry="43.4" fill="url(#gbd)" stroke="#6e6e6e" stroke-width="0.8"/>
<path d="M21.2,-43.4 L25,-46.5 L25,46.5 L21.2,43.4 Z" fill="url(#gb)"/>
<path d="M21.2,-43.4 L25,-46.5 M21.2,43.4 L25,46.5" fill="none" stroke="#6e6e6e" stroke-width="0.8"/>
<ellipse cx="25" cy="0" rx="31.2" ry="46.5" fill="url(#gb)" stroke="#6e6e6e" stroke-width="0.8"/>
<path d="M25,-46.5 L29.6,-38.2 L29.6,38.2 L25,46.5 Z" fill="url(#gbd)"/>
<path d="M25,-46.5 L29.6,-38.2 M25,46.5 L29.6,38.2" fill="none" stroke="#6e6e6e" stroke-width="0.8"/>
<ellipse cx="29.6" cy="0" rx="25.6" ry="38.2" fill="url(#gbd)" stroke="#6e6e6e" stroke-width="0.8"/>
<path d="M29.6,-38.2 L33.3,-41 L33.3,41 L29.6,38.2 Z" fill="url(#gb)"/>
<path d="M29.6,-38.2 L33.3,-41 M29.6,38.2 L33.3,41" fill="none" stroke="#6e6e6e" stroke-width="0.8"/>
<ellipse cx="33.3" cy="0" rx="27.5" ry="41" fill="url(#gb)" stroke="#6e6e6e" stroke-width="0.8"/>
<path d="M33.3,-41 L37.9,-31.6 L37.9,31.6 L33.3,41 Z" fill="url(#gbd)"/>
<path d="M33.3,-41 L37.9,-31.6 M33.3,41 L37.9,31.6" fill="none" stroke="#6e6e6e" stroke-width="0.8"/>
<ellipse cx="37.9" cy="0" rx="21.1" ry="31.6" fill="url(#gbd)" stroke="#6e6e6e" stroke-width="0.8"/>
<path d="M37.9,-31.6 L41.7,-34.2 L41.7,34.2 L37.9,31.6 Z" fill="url(#gb)"/>
<path d="M37.9,-31.6 L41.7,-34.2 M37.9,31.6 L41.7,34.2" fill="none" stroke="#6e6e6e" stroke-width="0.8"/>
<ellipse cx="41.7" cy="0" rx="22.9" ry="34.2" fill="url(#gb)" stroke="#6e6e6e" stroke-width="0.8"/>
<path d="M41.7,-34.2 L46.2,-23.6 L46.2,23.6 L41.7,34.2 Z" fill="url(#gbd)"/>
<path d="M41.7,-34.2 L46.2,-23.6 M41.7,34.2 L46.2,23.6" fill="none" stroke="#6e6e6e" stroke-width="0.8"/>
<ellipse cx="46.2" cy="0" rx="15.8" ry="23.6" fill="url(#gbd)" stroke="#6e6e6e" stroke-width="0.8"/>
<path d="M46.2,-23.6 L50,-26 L50,26 L46.2,23.6 Z" fill="url(#gb)"/>
<path d="M46.2,-23.6 L50,-26 M46.2,23.6 L50,26" fill="none" stroke="#6e6e6e" stroke-width="0.8"/>
<ellipse cx="50" cy="0" rx="17.4" ry="26" fill="url(#gb)" stroke="#6e6e6e" stroke-width="0.8"/>
<path d="M50,-26 L53,-21 L53,21 L50,26 Z" fill="url(#gb)"/>
<path d="M50,-26 L53,-21 M50,26 L53,21" fill="none" stroke="#6e6e6e" stroke-width="0.8"/>
<ellipse cx="53" cy="0" rx="14.1" ry="21" fill="url(#gb)" stroke="#6e6e6e" stroke-width="0.8"/>
<path d="M53,-21 L54,-19 L54,19 L53,21 Z" fill="url(#gb)"/>
<path d="M53,-21 L54,-19 M53,21 L54,19" fill="none" stroke="#6e6e6e" stroke-width="0.8"/>
<ellipse cx="54" cy="0" rx="12.7" ry="19" fill="url(#gb)" stroke="#6e6e6e" stroke-width="0.8"/>
<path d="M54,-19 L64,-19 L64,19 L54,19 Z" fill="url(#gb)"/>
<path d="M54,-19 L64,-19 M54,19 L64,19" fill="none" stroke="#6e6e6e" stroke-width="0.8"/>
<ellipse cx="64" cy="0" rx="12.7" ry="19" fill="#bfbfbf" stroke="#6e6e6e" stroke-width="0.8"/>
<ellipse cx="64" cy="0" rx="10.4" ry="15.5" fill="#a6a6a6" stroke="#6e6e6e" stroke-width="0.8"/>
<ellipse cx="61.5" cy="0" rx="9.4" ry="14" fill="#c9c9c9" stroke="#909090" stroke-width="0.8"/>
</g>
<g transform="translate(648.4,2153.5) rotate(30)">
<path d="M-15,0 A15,19 0 1,0 15,0 A15,19 0 1,0 -15,0 Z M-7.2,-1 A7.4,14 0 1,1 7.6,-1 A7.4,14 0 1,1 -7.2,-1 Z" fill="url(#gband)" fill-rule="evenodd" stroke="#7a7a7a" stroke-width="0.8"/>
<path d="M-9.3,-15.2 l-1.3,-5.3 l10.6,-0.4 l1.7,5.3 Z" fill="#cfcfcf" stroke="#7a7a7a" stroke-width="0.8"/>
<path d="M-8.5,-17.6 l10.2,-0.3" stroke="#8a8a8a" stroke-width="1" fill="none"/>
</g>
<g transform="translate(1176.2,1814.8)" fill="#fff" stroke="#000" stroke-width="3" stroke-linejoin="round">
<path d="M16.5,14 C16.5,22 14,24.5 8,26 C3,27.5 1.2,31 1.2,38 L1.2,103 C1.2,110 8,114 21,116.8 C24,117.3 30,116 38,114.8 C47,113 52,108 52,100 L52,38 C52,31 49,27.5 43,25.5 C37,23.5 34,21.5 33.5,14 Z"/>
<path d="M14.5,4 C14.5,0.5 35.2,0.5 35.2,4 L35.2,12.5 C35.2,16.3 14.5,16.3 14.5,12.5 Z"/>
<path d="M16.5,5 C19,7.6 31,7.6 33.5,5" fill="none" stroke-width="1.2"/>
<path d="M16,22.5 C20,25 30,25 34.5,22.5 M5.5,28.5 L21,34 L46,28.7 M21,34 L21,116.5" fill="none" stroke-width="1.2"/>
</g>
<g transform="translate(1150.1,2005.7) rotate(30)">
<path d="M1.8,17.2 A11.2,17.4 0 1,1 5.1,15.5" fill="none" stroke="#0a0a0a" stroke-width="7.2"/>
<path d="M1.1,17.3 A11.2,17.4 0 1,1 5.7,15" fill="none" stroke="#fff" stroke-width="3.2"/>
</g>
<g transform="translate(1196.6,2020.5) rotate(30)">
<path d="M-13.8,0 A13.8,20 0 1,0 13.8,0 A13.8,20 0 1,0 -13.8,0 Z M-8.6,0 A8.6,14.8 0 1,1 8.6,0 A8.6,14.8 0 1,1 -8.6,0 Z" fill="#fff" fill-rule="evenodd" stroke="#0a0a0a" stroke-width="2"/>
<circle cx="-4.2" cy="12" r="2.1" fill="#fff" stroke="#0a0a0a" stroke-width="1.6"/>
<circle cx="-6.6" cy="7.9" r="2.1" fill="#fff" stroke="#0a0a0a" stroke-width="1.6"/>
</g>
<g transform="translate(1268.8,2060.4) rotate(30)">
<path d="M-37.7,0 A37.7,52.4 0 1,0 37.7,0 A37.7,52.4 0 1,0 -37.7,0 Z M-28.8,-0.5 A29.1,46.4 0 1,1 29.4,-0.5 A29.1,46.4 0 1,1 -28.8,-0.5 Z" fill="url(#gband2)" fill-rule="evenodd" stroke="#7a7a7a" stroke-width="0.8"/>
</g>
<g transform="translate(1351.3,2111.8) rotate(30)">
<ellipse cx="-7" cy="0" rx="32.8" ry="49" fill="url(#gbd)" stroke="#6e6e6e" stroke-width="0.8"/>
<path d="M-7,-49 L-3,-54 L-3,54 L-7,49 Z" fill="url(#gbd)"/>
<path d="M-7,-49 L-3,-54 M-7,49 L-3,54" fill="none" stroke="#6e6e6e" stroke-width="0.8"/>
<ellipse cx="-3" cy="0" rx="36.2" ry="54" fill="url(#gbd)" stroke="#6e6e6e" stroke-width="0.8"/>
<path d="M-3,-54 L0,-54 L0,54 L-3,54 Z" fill="url(#gb)"/>
<path d="M-3,-54 L0,-54 M-3,54 L0,54" fill="none" stroke="#6e6e6e" stroke-width="0.8"/>
<ellipse cx="0" cy="0" rx="36.2" ry="54" fill="url(#gb)" stroke="#6e6e6e" stroke-width="0.8"/>
<path d="M0,-54 L4.6,-49.8 L4.6,49.8 L0,54 Z" fill="url(#gbd)"/>
<path d="M0,-54 L4.6,-49.8 M0,54 L4.6,49.8" fill="none" stroke="#6e6e6e" stroke-width="0.8"/>
<ellipse cx="4.6" cy="0" rx="33.3" ry="49.8" fill="url(#gbd)" stroke="#6e6e6e" stroke-width="0.8"/>
<path d="M4.6,-49.8 L8.3,-53.1 L8.3,53.1 L4.6,49.8 Z" fill="url(#gb)"/>
<path d="M4.6,-49.8 L8.3,-53.1 M4.6,49.8 L8.3,53.1" fill="none" stroke="#6e6e6e" stroke-width="0.8"/>
<ellipse cx="8.3" cy="0" rx="35.6" ry="53.1" fill="url(#gb)" stroke="#6e6e6e" stroke-width="0.8"/>
<path d="M8.3,-53.1 L12.9,-47.3 L12.9,47.3 L8.3,53.1 Z" fill="url(#gbd)"/>
<path d="M8.3,-53.1 L12.9,-47.3 M8.3,53.1 L12.9,47.3" fill="none" stroke="#6e6e6e" stroke-width="0.8"/>
<ellipse cx="12.9" cy="0" rx="31.7" ry="47.3" fill="url(#gbd)" stroke="#6e6e6e" stroke-width="0.8"/>
<path d="M12.9,-47.3 L16.7,-50.5 L16.7,50.5 L12.9,47.3 Z" fill="url(#gb)"/>
<path d="M12.9,-47.3 L16.7,-50.5 M12.9,47.3 L16.7,50.5" fill="none" stroke="#6e6e6e" stroke-width="0.8"/>
<ellipse cx="16.7" cy="0" rx="33.9" ry="50.5" fill="url(#gb)" stroke="#6e6e6e" stroke-width="0.8"/>
<path d="M16.7,-50.5 L21.2,-43.4 L21.2,43.4 L16.7,50.5 Z" fill="url(#gbd)"/>
<path d="M16.7,-50.5 L21.2,-43.4 M16.7,50.5 L21.2,43.4" fill="none" stroke="#6e6e6e" stroke-width="0.8"/>
<ellipse cx="21.2" cy="0" rx="29.1" ry="43.4" fill="url(#gbd)" stroke="#6e6e6e" stroke-width="0.8"/>
<path d="M21.2,-43.4 L25,-46.5 L25,46.5 L21.2,43.4 Z" fill="url(#gb)"/>
<path d="M21.2,-43.4 L25,-46.5 M21.2,43.4 L25,46.5" fill="none" stroke="#6e6e6e" stroke-width="0.8"/>
<ellipse cx="25" cy="0" rx="31.2" ry="46.5" fill="url(#gb)" stroke="#6e6e6e" stroke-width="0.8"/>
<path d="M25,-46.5 L29.6,-38.2 L29.6,38.2 L25,46.5 Z" fill="url(#gbd)"/>
<path d="M25,-46.5 L29.6,-38.2 M25,46.5 L29.6,38.2" fill="none" stroke="#6e6e6e" stroke-width="0.8"/>
<ellipse cx="29.6" cy="0" rx="25.6" ry="38.2" fill="url(#gbd)" stroke="#6e6e6e" stroke-width="0.8"/>
<path d="M29.6,-38.2 L33.3,-41 L33.3,41 L29.6,38.2 Z" fill="url(#gb)"/>
<path d="M29.6,-38.2 L33.3,-41 M29.6,38.2 L33.3,41" fill="none" stroke="#6e6e6e" stroke-width="0.8"/>
<ellipse cx="33.3" cy="0" rx="27.5" ry="41" fill="url(#gb)" stroke="#6e6e6e" stroke-width="0.8"/>
<path d="M33.3,-41 L37.9,-31.6 L37.9,31.6 L33.3,41 Z" fill="url(#gbd)"/>
<path d="M33.3,-41 L37.9,-31.6 M33.3,41 L37.9,31.6" fill="none" stroke="#6e6e6e" stroke-width="0.8"/>
<ellipse cx="37.9" cy="0" rx="21.1" ry="31.6" fill="url(#gbd)" stroke="#6e6e6e" stroke-width="0.8"/>
<path d="M37.9,-31.6 L41.7,-34.2 L41.7,34.2 L37.9,31.6 Z" fill="url(#gb)"/>
<path d="M37.9,-31.6 L41.7,-34.2 M37.9,31.6 L41.7,34.2" fill="none" stroke="#6e6e6e" stroke-width="0.8"/>
<ellipse cx="41.7" cy="0" rx="22.9" ry="34.2" fill="url(#gb)" stroke="#6e6e6e" stroke-width="0.8"/>
<path d="M41.7,-34.2 L46.2,-23.6 L46.2,23.6 L41.7,34.2 Z" fill="url(#gbd)"/>
<path d="M41.7,-34.2 L46.2,-23.6 M41.7,34.2 L46.2,23.6" fill="none" stroke="#6e6e6e" stroke-width="0.8"/>
<ellipse cx="46.2" cy="0" rx="15.8" ry="23.6" fill="url(#gbd)" stroke="#6e6e6e" stroke-width="0.8"/>
<path d="M46.2,-23.6 L50,-26 L50,26 L46.2,23.6 Z" fill="url(#gb)"/>
<path d="M46.2,-23.6 L50,-26 M46.2,23.6 L50,26" fill="none" stroke="#6e6e6e" stroke-width="0.8"/>
<ellipse cx="50" cy="0" rx="17.4" ry="26" fill="url(#gb)" stroke="#6e6e6e" stroke-width="0.8"/>
<path d="M50,-26 L53,-21 L53,21 L50,26 Z" fill="url(#gb)"/>
<path d="M50,-26 L53,-21 M50,26 L53,21" fill="none" stroke="#6e6e6e" stroke-width="0.8"/>
<ellipse cx="53" cy="0" rx="14.1" ry="21" fill="url(#gb)" stroke="#6e6e6e" stroke-width="0.8"/>
<path d="M53,-21 L54,-19 L54,19 L53,21 Z" fill="url(#gb)"/>
<path d="M53,-21 L54,-19 M53,21 L54,19" fill="none" stroke="#6e6e6e" stroke-width="0.8"/>
<ellipse cx="54" cy="0" rx="12.7" ry="19" fill="url(#gb)" stroke="#6e6e6e" stroke-width="0.8"/>
<path d="M54,-19 L64,-19 L64,19 L54,19 Z" fill="url(#gb)"/>
<path d="M54,-19 L64,-19 M54,19 L64,19" fill="none" stroke="#6e6e6e" stroke-width="0.8"/>
<ellipse cx="64" cy="0" rx="12.7" ry="19" fill="#bfbfbf" stroke="#6e6e6e" stroke-width="0.8"/>
<ellipse cx="64" cy="0" rx="10.4" ry="15.5" fill="#a6a6a6" stroke="#6e6e6e" stroke-width="0.8"/>
<ellipse cx="61.5" cy="0" rx="9.4" ry="14" fill="#c9c9c9" stroke="#909090" stroke-width="0.8"/>
</g>
<g transform="translate(1472.2,2177.5) rotate(30)">
<path d="M-15,0 A15,19 0 1,0 15,0 A15,19 0 1,0 -15,0 Z M-7.2,-1 A7.4,14 0 1,1 7.6,-1 A7.4,14 0 1,1 -7.2,-1 Z" fill="url(#gband)" fill-rule="evenodd" stroke="#7a7a7a" stroke-width="0.8"/>
<path d="M-9.3,-15.2 l-1.3,-5.3 l10.6,-0.4 l1.7,5.3 Z" fill="#cfcfcf" stroke="#7a7a7a" stroke-width="0.8"/>
<path d="M-8.5,-17.6 l10.2,-0.3" stroke="#8a8a8a" stroke-width="1" fill="none"/>
</g>
<g transform="translate(543,574) rotate(30)">
<path d="M-13,-20 L0,-20 A13.4,20 0 0,1 0,20 L-13,20 A13.4,20 0 0,1 -13,-20 Z" fill="#fff" stroke="#000" stroke-width="2.2"/>
<ellipse cx="0" cy="0" rx="13.4" ry="20" fill="#fff" stroke="#000" stroke-width="2"/>
<ellipse cx="0.5" cy="0" rx="8.3" ry="12.4" fill="#fff" stroke="#000" stroke-width="1.6"/>
<path d="M-17.5,-14 l5,0 l0,5 l-5,0" fill="#fff" stroke="#000" stroke-width="1.5"/>
<path d="M-20.2,-3 l5,0 l0,5 l-5,0" fill="#fff" stroke="#000" stroke-width="1.5"/>
<path d="M-18.8,9 l5,0 l0,5 l-5,0" fill="#fff" stroke="#000" stroke-width="1.5"/>
</g>
<g transform="translate(1953,1391) rotate(30)">
<path d="M0,-20 L13,-20 A13.4,20 0 0,1 13,20 L0,20 A13.4,20 0 0,1 0,-20 Z" fill="#fff" stroke="#000" stroke-width="2.2"/>
<path d="M10,-18 A12.4,18 0 0,0 10,18" fill="none" stroke="#000" stroke-width="1.4"/>
<ellipse cx="14" cy="0" rx="7.5" ry="11.2" fill="#fff" stroke="#000" stroke-width="1.4"/>
<path d="M7,-8 l7,-1" stroke="#000" stroke-width="1.4" fill="none"/>
<path d="M7,-3 l7,-1" stroke="#000" stroke-width="1.4" fill="none"/>
<path d="M19,-14 l5,3" stroke="#000" stroke-width="1.4" fill="none"/>
<path d="M21,3 l6,1" stroke="#000" stroke-width="1.4" fill="none"/>
<path d="M21,8 l6,1" stroke="#000" stroke-width="1.4" fill="none"/>
<path d="M11,13 l5,3" stroke="#000" stroke-width="1.4" fill="none"/>
<path d="M4,10 l5,2" stroke="#000" stroke-width="1.4" fill="none"/>
<path d="M2,-12 l9,0" stroke="#000" stroke-width="1.4" fill="none"/>
<path d="M2,6 l9,0" stroke="#000" stroke-width="1.4" fill="none"/>
</g>
<path d="M1160.2,588 L1197.1,609.5 C1180,705 1128,775 1036.8,834.9 C1105,770 1146,700 1160.2,588 Z" fill="#000"/>
<path d="M1674.5,1266.8 C1610,1310 1568,1350 1538.3,1404.6 L1569.4,1422.5 C1585,1360 1620,1320 1674.5,1266.8 Z" fill="#000"/>
<polygon points="112.4,2153.6 128.4,2162.9 156.1,2146.9 181.8,2162 155,2178 170.1,2186.9 112.4,2186.9" fill="#000"/>
<g transform="translate(1271.2,475.5) rotate(31.3)">
<ellipse cx="0" cy="0" rx="7.7" ry="11.5" fill="url(#gs)" stroke="#6e6e6e" stroke-width="0.8"/>
<path d="M0,-11.5 L3,-12.8 L3,12.8 L0,11.5 Z" fill="url(#gs)"/>
<path d="M0,-11.5 L3,-12.8 M0,11.5 L3,12.8" fill="none" stroke="#6e6e6e" stroke-width="0.8"/>
<ellipse cx="3" cy="0" rx="8.6" ry="12.8" fill="url(#gs)" stroke="#6e6e6e" stroke-width="0.8"/>
<path d="M3,-12.8 L70,-12.8 L70,12.8 L3,12.8 Z" fill="url(#gs)"/>
<path d="M3,-12.8 L70,-12.8 M3,12.8 L70,12.8" fill="none" stroke="#6e6e6e" stroke-width="0.8"/>
<ellipse cx="70" cy="0" rx="8.6" ry="12.8" fill="url(#gs)" stroke="#6e6e6e" stroke-width="0.8"/>
<path d="M70,-12.8 L72,-11.8 L72,11.8 L70,12.8 Z" fill="url(#gs)"/>
<path d="M70,-12.8 L72,-11.8 M70,12.8 L72,11.8" fill="none" stroke="#6e6e6e" stroke-width="0.8"/>
<ellipse cx="72" cy="0" rx="7.9" ry="11.8" fill="url(#gs)" stroke="#6e6e6e" stroke-width="0.8"/>
<path d="M72,-11.8 L75,-12.8 L75,12.8 L72,11.8 Z" fill="url(#gs)"/>
<path d="M72,-11.8 L75,-12.8 M72,11.8 L75,12.8" fill="none" stroke="#6e6e6e" stroke-width="0.8"/>
<ellipse cx="75" cy="0" rx="8.6" ry="12.8" fill="url(#gs)" stroke="#6e6e6e" stroke-width="0.8"/>
<path d="M75,-12.8 L84,-12.8 L84,12.8 L75,12.8 Z" fill="url(#gs)"/>
<path d="M75,-12.8 L84,-12.8 M75,12.8 L84,12.8" fill="none" stroke="#6e6e6e" stroke-width="0.8"/>
<ellipse cx="84" cy="0" rx="8.6" ry="12.8" fill="url(#gs)" stroke="#6e6e6e" stroke-width="0.8"/>
<path d="M84,-12.8 L86,-11.8 L86,11.8 L84,12.8 Z" fill="url(#gs)"/>
<path d="M84,-12.8 L86,-11.8 M84,12.8 L86,11.8" fill="none" stroke="#6e6e6e" stroke-width="0.8"/>
<ellipse cx="86" cy="0" rx="7.9" ry="11.8" fill="url(#gs)" stroke="#6e6e6e" stroke-width="0.8"/>
<path d="M86,-11.8 L89,-12.8 L89,12.8 L86,11.8 Z" fill="url(#gs)"/>
<path d="M86,-11.8 L89,-12.8 M86,11.8 L89,12.8" fill="none" stroke="#6e6e6e" stroke-width="0.8"/>
<ellipse cx="89" cy="0" rx="8.6" ry="12.8" fill="url(#gs)" stroke="#6e6e6e" stroke-width="0.8"/>
<path d="M89,-12.8 L96,-13.2 L96,13.2 L89,12.8 Z" fill="url(#gs)"/>
<path d="M89,-12.8 L96,-13.2 M89,12.8 L96,13.2" fill="none" stroke="#6e6e6e" stroke-width="0.8"/>
<ellipse cx="96" cy="0" rx="8.8" ry="13.2" fill="url(#gs)" stroke="#6e6e6e" stroke-width="0.8"/>
<path d="M96,-13.2 L104,-15.2 L104,15.2 L96,13.2 Z" fill="url(#gs)"/>
<path d="M96,-13.2 L104,-15.2 M96,13.2 L104,15.2" fill="none" stroke="#6e6e6e" stroke-width="0.8"/>
<ellipse cx="104" cy="0" rx="10.2" ry="15.2" fill="url(#gs)" stroke="#6e6e6e" stroke-width="0.8"/>
<path d="M104,-15.2 L555,-15.2 L555,15.2 L104,15.2 Z" fill="url(#gs)"/>
<path d="M104,-15.2 L555,-15.2 M104,15.2 L555,15.2" fill="none" stroke="#6e6e6e" stroke-width="0.8"/>
<ellipse cx="555" cy="0" rx="10.2" ry="15.2" fill="url(#gs)" stroke="#6e6e6e" stroke-width="0.8"/>
<path d="M555,-15.2 L562,-13.2 L562,13.2 L555,15.2 Z" fill="url(#gs)"/>
<path d="M555,-15.2 L562,-13.2 M555,15.2 L562,13.2" fill="none" stroke="#6e6e6e" stroke-width="0.8"/>
<ellipse cx="562" cy="0" rx="8.8" ry="13.2" fill="url(#gs)" stroke="#6e6e6e" stroke-width="0.8"/>
<path d="M562,-13.2 L568,-12.8 L568,12.8 L562,13.2 Z" fill="url(#gs)"/>
<path d="M562,-13.2 L568,-12.8 M562,13.2 L568,12.8" fill="none" stroke="#6e6e6e" stroke-width="0.8"/>
<ellipse cx="568" cy="0" rx="8.6" ry="12.8" fill="url(#gs)" stroke="#6e6e6e" stroke-width="0.8"/>
<path d="M568,-12.8 L570,-11.8 L570,11.8 L568,12.8 Z" fill="url(#gs)"/>
<path d="M568,-12.8 L570,-11.8 M568,12.8 L570,11.8" fill="none" stroke="#6e6e6e" stroke-width="0.8"/>
<ellipse cx="570" cy="0" rx="7.9" ry="11.8" fill="url(#gs)" stroke="#6e6e6e" stroke-width="0.8"/>
<path d="M570,-11.8 L573,-12.8 L573,12.8 L570,11.8 Z" fill="url(#gs)"/>
<path d="M570,-11.8 L573,-12.8 M570,11.8 L573,12.8" fill="none" stroke="#6e6e6e" stroke-width="0.8"/>
<ellipse cx="573" cy="0" rx="8.6" ry="12.8" fill="url(#gs)" stroke="#6e6e6e" stroke-width="0.8"/>
<path d="M573,-12.8 L582,-12.8 L582,12.8 L573,12.8 Z" fill="url(#gs)"/>
<path d="M573,-12.8 L582,-12.8 M573,12.8 L582,12.8" fill="none" stroke="#6e6e6e" stroke-width="0.8"/>
<ellipse cx="582" cy="0" rx="8.6" ry="12.8" fill="url(#gs)" stroke="#6e6e6e" stroke-width="0.8"/>
<path d="M582,-12.8 L584,-11.8 L584,11.8 L582,12.8 Z" fill="url(#gs)"/>
<path d="M582,-12.8 L584,-11.8 M582,12.8 L584,11.8" fill="none" stroke="#6e6e6e" stroke-width="0.8"/>
<ellipse cx="584" cy="0" rx="7.9" ry="11.8" fill="url(#gs)" stroke="#6e6e6e" stroke-width="0.8"/>
<path d="M584,-11.8 L587,-12.8 L587,12.8 L584,11.8 Z" fill="url(#gs)"/>
<path d="M584,-11.8 L587,-12.8 M584,11.8 L587,12.8" fill="none" stroke="#6e6e6e" stroke-width="0.8"/>
<ellipse cx="587" cy="0" rx="8.6" ry="12.8" fill="url(#gs)" stroke="#6e6e6e" stroke-width="0.8"/>
<path d="M587,-12.8 L660,-12.8 L660,12.8 L587,12.8 Z" fill="url(#gs)"/>
<path d="M587,-12.8 L660,-12.8 M587,12.8 L660,12.8" fill="none" stroke="#6e6e6e" stroke-width="0.8"/>
<ellipse cx="660" cy="0" rx="8.6" ry="12.8" fill="url(#gs)" stroke="#6e6e6e" stroke-width="0.8"/>
<path d="M660,-12.8 L662,-11.8 L662,11.8 L660,12.8 Z" fill="url(#gs)"/>
<path d="M660,-12.8 L662,-11.8 M660,12.8 L662,11.8" fill="none" stroke="#6e6e6e" stroke-width="0.8"/>
<ellipse cx="662" cy="0" rx="7.9" ry="11.8" fill="url(#gs)" stroke="#6e6e6e" stroke-width="0.8"/>
<path d="M662,-11.8 L665,-12.8 L665,12.8 L662,11.8 Z" fill="url(#gs)"/>
<path d="M662,-11.8 L665,-12.8 M662,11.8 L665,12.8" fill="none" stroke="#6e6e6e" stroke-width="0.8"/>
<ellipse cx="665" cy="0" rx="8.6" ry="12.8" fill="url(#gs)" stroke="#6e6e6e" stroke-width="0.8"/>
<path d="M665,-12.8 L686,-12.8 L686,12.8 L665,12.8 Z" fill="url(#gs)"/>
<path d="M665,-12.8 L686,-12.8 M665,12.8 L686,12.8" fill="none" stroke="#6e6e6e" stroke-width="0.8"/>
<ellipse cx="686" cy="0" rx="8.6" ry="12.8" fill="url(#gs)" stroke="#6e6e6e" stroke-width="0.8"/>
<path d="M686,-12.8 L690,-11.5 L690,11.5 L686,12.8 Z" fill="url(#gs)"/>
<path d="M686,-12.8 L690,-11.5 M686,12.8 L690,11.5" fill="none" stroke="#6e6e6e" stroke-width="0.8"/>
<ellipse cx="690" cy="0" rx="7.7" ry="11.5" fill="#a9a9a9" stroke="#6e6e6e" stroke-width="0.8"/>
</g>
<g transform="translate(985.7,1384.5) rotate(28.6)">
<ellipse cx="0" cy="0" rx="10.1" ry="15" fill="url(#gs)" stroke="#6e6e6e" stroke-width="0.8"/>
<path d="M0,-15 L3,-16.2 L3,16.2 L0,15 Z" fill="url(#gs)"/>
<path d="M0,-15 L3,-16.2 M0,15 L3,16.2" fill="none" stroke="#6e6e6e" stroke-width="0.8"/>
<ellipse cx="3" cy="0" rx="10.9" ry="16.2" fill="url(#gs)" stroke="#6e6e6e" stroke-width="0.8"/>
<path d="M3,-16.2 L28,-16.2 L28,16.2 L3,16.2 Z" fill="url(#gs)"/>
<path d="M3,-16.2 L28,-16.2 M3,16.2 L28,16.2" fill="none" stroke="#6e6e6e" stroke-width="0.8"/>
<ellipse cx="28" cy="0" rx="10.9" ry="16.2" fill="url(#gs)" stroke="#6e6e6e" stroke-width="0.8"/>
<path d="M28,-16.2 L32,-15.2 L32,15.2 L28,16.2 Z" fill="url(#gs)"/>
<path d="M28,-16.2 L32,-15.2 M28,16.2 L32,15.2" fill="none" stroke="#6e6e6e" stroke-width="0.8"/>
<ellipse cx="32" cy="0" rx="10.2" ry="15.2" fill="url(#gs)" stroke="#6e6e6e" stroke-width="0.8"/>
<path d="M32,-15.2 L98,-15.2 L98,15.2 L32,15.2 Z" fill="url(#gs)"/>
<path d="M32,-15.2 L98,-15.2 M32,15.2 L98,15.2" fill="none" stroke="#6e6e6e" stroke-width="0.8"/>
<ellipse cx="98" cy="0" rx="10.2" ry="15.2" fill="url(#gs)" stroke="#6e6e6e" stroke-width="0.8"/>
<path d="M98,-15.2 L100,-14.2 L100,14.2 L98,15.2 Z" fill="url(#gs)"/>
<path d="M98,-15.2 L100,-14.2 M98,15.2 L100,14.2" fill="none" stroke="#6e6e6e" stroke-width="0.8"/>
<ellipse cx="100" cy="0" rx="9.5" ry="14.2" fill="url(#gs)" stroke="#6e6e6e" stroke-width="0.8"/>
<path d="M100,-14.2 L103,-15.6 L103,15.6 L100,14.2 Z" fill="url(#gs)"/>
<path d="M100,-14.2 L103,-15.6 M100,14.2 L103,15.6" fill="none" stroke="#6e6e6e" stroke-width="0.8"/>
<ellipse cx="103" cy="0" rx="10.5" ry="15.6" fill="url(#gs)" stroke="#6e6e6e" stroke-width="0.8"/>
<path d="M103,-15.6 L110,-15.6 L110,15.6 L103,15.6 Z" fill="url(#gs)"/>
<path d="M103,-15.6 L110,-15.6 M103,15.6 L110,15.6" fill="none" stroke="#6e6e6e" stroke-width="0.8"/>
<ellipse cx="110" cy="0" rx="10.5" ry="15.6" fill="url(#gs)" stroke="#6e6e6e" stroke-width="0.8"/>
<path d="M110,-15.6 L112,-14.2 L112,14.2 L110,15.6 Z" fill="url(#gs)"/>
<path d="M110,-15.6 L112,-14.2 M110,15.6 L112,14.2" fill="none" stroke="#6e6e6e" stroke-width="0.8"/>
<ellipse cx="112" cy="0" rx="9.5" ry="14.2" fill="url(#gs)" stroke="#6e6e6e" stroke-width="0.8"/>
<path d="M112,-14.2 L115,-15.2 L115,15.2 L112,14.2 Z" fill="url(#gs)"/>
<path d="M112,-14.2 L115,-15.2 M112,14.2 L115,15.2" fill="none" stroke="#6e6e6e" stroke-width="0.8"/>
<ellipse cx="115" cy="0" rx="10.2" ry="15.2" fill="url(#gs)" stroke="#6e6e6e" stroke-width="0.8"/>
<path d="M115,-15.2 L318.7,-15.2 L318.7,15.2 L115,15.2 Z" fill="url(#gs)"/>
<path d="M115,-15.2 L318.7,-15.2 M115,15.2 L318.7,15.2" fill="none" stroke="#6e6e6e" stroke-width="0.8"/>
<ellipse cx="318.7" cy="0" rx="10.2" ry="15.2" fill="url(#gs)" stroke="#6e6e6e" stroke-width="0.8"/>
<path d="M318.7,-15.2 L320.7,-14.2 L320.7,14.2 L318.7,15.2 Z" fill="url(#gs)"/>
<path d="M318.7,-15.2 L320.7,-14.2 M318.7,15.2 L320.7,14.2" fill="none" stroke="#6e6e6e" stroke-width="0.8"/>
<ellipse cx="320.7" cy="0" rx="9.5" ry="14.2" fill="url(#gs)" stroke="#6e6e6e" stroke-width="0.8"/>
<path d="M320.7,-14.2 L323.7,-15.6 L323.7,15.6 L320.7,14.2 Z" fill="url(#gs)"/>
<path d="M320.7,-14.2 L323.7,-15.6 M320.7,14.2 L323.7,15.6" fill="none" stroke="#6e6e6e" stroke-width="0.8"/>
<ellipse cx="323.7" cy="0" rx="10.5" ry="15.6" fill="url(#gs)" stroke="#6e6e6e" stroke-width="0.8"/>
<path d="M323.7,-15.6 L330.7,-15.6 L330.7,15.6 L323.7,15.6 Z" fill="url(#gs)"/>
<path d="M323.7,-15.6 L330.7,-15.6 M323.7,15.6 L330.7,15.6" fill="none" stroke="#6e6e6e" stroke-width="0.8"/>
<ellipse cx="330.7" cy="0" rx="10.5" ry="15.6" fill="url(#gs)" stroke="#6e6e6e" stroke-width="0.8"/>
<path d="M330.7,-15.6 L332.7,-14.2 L332.7,14.2 L330.7,15.6 Z" fill="url(#gs)"/>
<path d="M330.7,-15.6 L332.7,-14.2 M330.7,15.6 L332.7,14.2" fill="none" stroke="#6e6e6e" stroke-width="0.8"/>
<ellipse cx="332.7" cy="0" rx="9.5" ry="14.2" fill="url(#gs)" stroke="#6e6e6e" stroke-width="0.8"/>
<path d="M332.7,-14.2 L335.7,-15.2 L335.7,15.2 L332.7,14.2 Z" fill="url(#gs)"/>
<path d="M332.7,-14.2 L335.7,-15.2 M332.7,14.2 L335.7,15.2" fill="none" stroke="#6e6e6e" stroke-width="0.8"/>
<ellipse cx="335.7" cy="0" rx="10.2" ry="15.2" fill="url(#gs)" stroke="#6e6e6e" stroke-width="0.8"/>
<path d="M335.7,-15.2 L414.7,-15.2 L414.7,15.2 L335.7,15.2 Z" fill="url(#gs)"/>
<path d="M335.7,-15.2 L414.7,-15.2 M335.7,15.2 L414.7,15.2" fill="none" stroke="#6e6e6e" stroke-width="0.8"/>
<ellipse cx="414.7" cy="0" rx="10.2" ry="15.2" fill="url(#gs)" stroke="#6e6e6e" stroke-width="0.8"/>
<path d="M414.7,-15.2 L417.7,-16.2 L417.7,16.2 L414.7,15.2 Z" fill="url(#gs)"/>
<path d="M414.7,-15.2 L417.7,-16.2 M414.7,15.2 L417.7,16.2" fill="none" stroke="#6e6e6e" stroke-width="0.8"/>
<ellipse cx="417.7" cy="0" rx="10.9" ry="16.2" fill="url(#gs)" stroke="#6e6e6e" stroke-width="0.8"/>
<path d="M417.7,-16.2 L434.7,-16.2 L434.7,16.2 L417.7,16.2 Z" fill="url(#gs)"/>
<path d="M417.7,-16.2 L434.7,-16.2 M417.7,16.2 L434.7,16.2" fill="none" stroke="#6e6e6e" stroke-width="0.8"/>
<ellipse cx="434.7" cy="0" rx="10.9" ry="16.2" fill="url(#gs)" stroke="#6e6e6e" stroke-width="0.8"/>
<path d="M434.7,-16.2 L438.7,-15 L438.7,15 L434.7,16.2 Z" fill="url(#gs)"/>
<path d="M434.7,-16.2 L438.7,-15 M434.7,16.2 L438.7,15" fill="none" stroke="#6e6e6e" stroke-width="0.8"/>
<ellipse cx="438.7" cy="0" rx="10.1" ry="15" fill="#a9a9a9" stroke="#6e6e6e" stroke-width="0.8"/>
</g>
<g transform="translate(575.6,603.6) rotate(30.5)">
<ellipse cx="0" cy="0" rx="7.7" ry="11.5" fill="url(#gs)" stroke="#6e6e6e" stroke-width="0.8"/>
<path d="M0,-11.5 L3,-12.5 L3,12.5 L0,11.5 Z" fill="url(#gs)"/>
<path d="M0,-11.5 L3,-12.5 M0,11.5 L3,12.5" fill="none" stroke="#6e6e6e" stroke-width="0.8"/>
<ellipse cx="3" cy="0" rx="8.4" ry="12.5" fill="url(#gs)" stroke="#6e6e6e" stroke-width="0.8"/>
<path d="M3,-12.5 L31,-12.5 L31,12.5 L3,12.5 Z" fill="url(#gs)"/>
<path d="M3,-12.5 L31,-12.5 M3,12.5 L31,12.5" fill="none" stroke="#6e6e6e" stroke-width="0.8"/>
<ellipse cx="31" cy="0" rx="8.4" ry="12.5" fill="url(#gs)" stroke="#6e6e6e" stroke-width="0.8"/>
<ellipse cx="31" cy="0" rx="9.4" ry="14" fill="url(#gs)" stroke="#6e6e6e" stroke-width="0.8"/>
<path d="M31,-14 L34,-16.5 L34,16.5 L31,14 Z" fill="url(#gs)"/>
<path d="M31,-14 L34,-16.5 M31,14 L34,16.5" fill="none" stroke="#6e6e6e" stroke-width="0.8"/>
<ellipse cx="34" cy="0" rx="11.1" ry="16.5" fill="url(#gs)" stroke="#6e6e6e" stroke-width="0.8"/>
<path d="M34,-16.5 L89,-16.5 L89,16.5 L34,16.5 Z" fill="url(#gs)"/>
<path d="M34,-16.5 L89,-16.5 M34,16.5 L89,16.5" fill="none" stroke="#6e6e6e" stroke-width="0.8"/>
<ellipse cx="89" cy="0" rx="11.1" ry="16.5" fill="url(#gs)" stroke="#6e6e6e" stroke-width="0.8"/>
<ellipse cx="89" cy="0" rx="25.5" ry="38" fill="url(#gdd)" stroke="#6e6e6e" stroke-width="0.8"/>
<path d="M89,-38 L93,-43 L93,43 L89,38 Z" fill="url(#gdd)"/>
<path d="M89,-38 L93,-43 M89,38 L93,43" fill="none" stroke="#6e6e6e" stroke-width="0.8"/>
<ellipse cx="93" cy="0" rx="28.8" ry="43" fill="url(#gdd)" stroke="#6e6e6e" stroke-width="0.8"/>
<path d="M93,-43 L102,-44 L102,44 L93,43 Z" fill="url(#gdd)"/>
<path d="M93,-43 L102,-44 M93,43 L102,44" fill="none" stroke="#6e6e6e" stroke-width="0.8"/>
<ellipse cx="102" cy="0" rx="29.5" ry="44" fill="url(#gdd)" stroke="#6e6e6e" stroke-width="0.8"/>
<ellipse cx="102" cy="0" rx="30.8" ry="46" fill="url(#gd)" stroke="#6e6e6e" stroke-width="0.8"/>
<path d="M102,-46 L112,-47 L112,47 L102,46 Z" fill="url(#gd)"/>
<path d="M102,-46 L112,-47 M102,46 L112,47" fill="none" stroke="#6e6e6e" stroke-width="0.8"/>
<ellipse cx="112" cy="0" rx="31.5" ry="47" fill="url(#gd)" stroke="#6e6e6e" stroke-width="0.8"/>
<path d="M112,-47 L115,-49 L115,49 L112,47 Z" fill="url(#gm)"/>
<path d="M112,-47 L115,-49 M112,47 L115,49" fill="none" stroke="#6e6e6e" stroke-width="0.8"/>
<ellipse cx="115" cy="0" rx="32.8" ry="49" fill="url(#gm)" stroke="#6e6e6e" stroke-width="0.8"/>
<path d="M115,-49 L133,-50.5 L133,50.5 L115,49 Z" fill="url(#gm)"/>
<path d="M115,-49 L133,-50.5 M115,49 L133,50.5" fill="none" stroke="#6e6e6e" stroke-width="0.8"/>
<ellipse cx="133" cy="0" rx="33.8" ry="50.5" fill="url(#gm)" stroke="#6e6e6e" stroke-width="0.8"/>
<path d="M133,-50.5 L135,-52.5 L135,52.5 L133,50.5 Z" fill="url(#gl)"/>
<path d="M133,-50.5 L135,-52.5 M133,50.5 L135,52.5" fill="none" stroke="#6e6e6e" stroke-width="0.8"/>
<ellipse cx="135" cy="0" rx="35.2" ry="52.5" fill="url(#gl)" stroke="#6e6e6e" stroke-width="0.8"/>
<path d="M135,-52.5 L140,-50.5 L140,50.5 L135,52.5 Z" fill="url(#gld)"/>
<path d="M135,-52.5 L140,-50.5 M135,52.5 L140,50.5" fill="none" stroke="#6e6e6e" stroke-width="0.8"/>
<ellipse cx="140" cy="0" rx="33.8" ry="50.5" fill="url(#gld)" stroke="#6e6e6e" stroke-width="0.8"/>
<path d="M140,-50.5 L147,-55 L147,55 L140,50.5 Z" fill="url(#gl)"/>
<path d="M140,-50.5 L147,-55 M140,50.5 L147,55" fill="none" stroke="#6e6e6e" stroke-width="0.8"/>
<ellipse cx="147" cy="0" rx="36.9" ry="55" fill="url(#gl)" stroke="#6e6e6e" stroke-width="0.8"/>
<path d="M147,-55 L152,-52 L152,52 L147,55 Z" fill="url(#gld)"/>
<path d="M147,-55 L152,-52 M147,55 L152,52" fill="none" stroke="#6e6e6e" stroke-width="0.8"/>
<ellipse cx="152" cy="0" rx="34.8" ry="52" fill="url(#gld)" stroke="#6e6e6e" stroke-width="0.8"/>
<path d="M152,-52 L158,-56 L158,56 L152,52 Z" fill="url(#gl)"/>
<path d="M152,-52 L158,-56 M152,52 L158,56" fill="none" stroke="#6e6e6e" stroke-width="0.8"/>
<ellipse cx="158" cy="0" rx="37.5" ry="56" fill="url(#gl)" stroke="#6e6e6e" stroke-width="0.8"/>
<path d="M158,-56 L163,-52.5 L163,52.5 L158,56 Z" fill="url(#gld)"/>
<path d="M158,-56 L163,-52.5 M158,56 L163,52.5" fill="none" stroke="#6e6e6e" stroke-width="0.8"/>
<ellipse cx="163" cy="0" rx="35.2" ry="52.5" fill="url(#gld)" stroke="#6e6e6e" stroke-width="0.8"/>
<path d="M163,-52.5 L169,-54.5 L169,54.5 L163,52.5 Z" fill="url(#gl)"/>
<path d="M163,-52.5 L169,-54.5 M163,52.5 L169,54.5" fill="none" stroke="#6e6e6e" stroke-width="0.8"/>
<ellipse cx="169" cy="0" rx="36.5" ry="54.5" fill="url(#gl)" stroke="#6e6e6e" stroke-width="0.8"/>
<path d="M169,-54.5 L174,-50 L174,50 L169,54.5 Z" fill="url(#gld)"/>
<path d="M169,-54.5 L174,-50 M169,54.5 L174,50" fill="none" stroke="#6e6e6e" stroke-width="0.8"/>
<ellipse cx="174" cy="0" rx="33.5" ry="50" fill="url(#gld)" stroke="#6e6e6e" stroke-width="0.8"/>
<path d="M174,-50 L179,-51 L179,51 L174,50 Z" fill="url(#gl)"/>
<path d="M174,-50 L179,-51 M174,50 L179,51" fill="none" stroke="#6e6e6e" stroke-width="0.8"/>
<ellipse cx="179" cy="0" rx="34.2" ry="51" fill="url(#gl)" stroke="#6e6e6e" stroke-width="0.8"/>
<path d="M179,-51 L184,-45.5 L184,45.5 L179,51 Z" fill="url(#gld)"/>
<path d="M179,-51 L184,-45.5 M179,51 L184,45.5" fill="none" stroke="#6e6e6e" stroke-width="0.8"/>
<ellipse cx="184" cy="0" rx="30.5" ry="45.5" fill="url(#gld)" stroke="#6e6e6e" stroke-width="0.8"/>
<path d="M184,-45.5 L188,-46 L188,46 L184,45.5 Z" fill="url(#gl)"/>
<path d="M184,-45.5 L188,-46 M184,45.5 L188,46" fill="none" stroke="#6e6e6e" stroke-width="0.8"/>
<ellipse cx="188" cy="0" rx="30.8" ry="46" fill="url(#gl)" stroke="#6e6e6e" stroke-width="0.8"/>
<path d="M188,-46 L192,-39 L192,39 L188,46 Z" fill="url(#gld)"/>
<path d="M188,-46 L192,-39 M188,46 L192,39" fill="none" stroke="#6e6e6e" stroke-width="0.8"/>
<ellipse cx="192" cy="0" rx="26.1" ry="39" fill="url(#gld)" stroke="#6e6e6e" stroke-width="0.8"/>
<path d="M192,-39 L196,-39 L196,39 L192,39 Z" fill="url(#gl)"/>
<path d="M192,-39 L196,-39 M192,39 L196,39" fill="none" stroke="#6e6e6e" stroke-width="0.8"/>
<ellipse cx="196" cy="0" rx="26.1" ry="39" fill="url(#gl)" stroke="#6e6e6e" stroke-width="0.8"/>
<path d="M196,-39 L199,-32 L199,32 L196,39 Z" fill="url(#gld)"/>
<path d="M196,-39 L199,-32 M196,39 L199,32" fill="none" stroke="#6e6e6e" stroke-width="0.8"/>
<ellipse cx="199" cy="0" rx="21.4" ry="32" fill="url(#gld)" stroke="#6e6e6e" stroke-width="0.8"/>
<path d="M199,-32 L202,-30 L202,30 L199,32 Z" fill="url(#gl)"/>
<path d="M199,-32 L202,-30 M199,32 L202,30" fill="none" stroke="#6e6e6e" stroke-width="0.8"/>
<ellipse cx="202" cy="0" rx="20.1" ry="30" fill="url(#gl)" stroke="#6e6e6e" stroke-width="0.8"/>
<path d="M202,-30 L205,-22 L205,22 L202,30 Z" fill="url(#gl)"/>
<path d="M202,-30 L205,-22 M202,30 L205,22" fill="none" stroke="#6e6e6e" stroke-width="0.8"/>
<ellipse cx="205" cy="0" rx="14.7" ry="22" fill="url(#gl)" stroke="#6e6e6e" stroke-width="0.8"/>
<path d="M205,-22 L207,-17 L207,17 L205,22 Z" fill="url(#gl)"/>
<path d="M205,-22 L207,-17 M205,22 L207,17" fill="none" stroke="#6e6e6e" stroke-width="0.8"/>
<ellipse cx="207" cy="0" rx="11.4" ry="17" fill="url(#gl)" stroke="#6e6e6e" stroke-width="0.8"/>
<path d="M207,-17 L217,-15.5 L217,15.5 L207,17 Z" fill="url(#gl)"/>
<path d="M207,-17 L217,-15.5 M207,17 L217,15.5" fill="none" stroke="#6e6e6e" stroke-width="0.8"/>
<ellipse cx="217" cy="0" rx="10.4" ry="15.5" fill="url(#gl)" stroke="#6e6e6e" stroke-width="0.8"/>
<ellipse cx="217" cy="0" rx="8" ry="12" fill="#dcdcdc" stroke="#9a9a9a" stroke-width="0.8"/>
<ellipse cx="215" cy="0" rx="6.7" ry="10" fill="#efefef" stroke="#aaaaaa" stroke-width="0.8"/>
<path d="M-4,-9 L10,-9 L10,-5 L-6,-5 Z" fill="#8c8c8c"/>
</g>
<g transform="translate(575.6,603.6) rotate(30.5)">
<ellipse cx="212" cy="0" rx="9" ry="13.5" fill="url(#gs)" stroke="#6e6e6e" stroke-width="0.8"/>
<path d="M212,-13.5 L240,-13.5 L240,13.5 L212,13.5 Z" fill="url(#gs)"/>
<path d="M212,-13.5 L240,-13.5 M212,13.5 L240,13.5" fill="none" stroke="#6e6e6e" stroke-width="0.8"/>
<ellipse cx="240" cy="0" rx="9" ry="13.5" fill="url(#gs)" stroke="#6e6e6e" stroke-width="0.8"/>
<path d="M240,-13.5 L244,-12.5 L244,12.5 L240,13.5 Z" fill="url(#gs)"/>
<path d="M240,-13.5 L244,-12.5 M240,13.5 L244,12.5" fill="none" stroke="#6e6e6e" stroke-width="0.8"/>
<ellipse cx="244" cy="0" rx="8.4" ry="12.5" fill="url(#gs)" stroke="#6e6e6e" stroke-width="0.8"/>
<path d="M244,-12.5 L297,-12.5 L297,12.5 L244,12.5 Z" fill="url(#gs)"/>
<path d="M244,-12.5 L297,-12.5 M244,12.5 L297,12.5" fill="none" stroke="#6e6e6e" stroke-width="0.8"/>
<ellipse cx="297" cy="0" rx="8.4" ry="12.5" fill="url(#gs)" stroke="#6e6e6e" stroke-width="0.8"/>
<ellipse cx="297" cy="0" rx="14.1" ry="21" fill="url(#gd)" stroke="#6e6e6e" stroke-width="0.8"/>
<path d="M297,-21 L305,-23 L305,23 L297,21 Z" fill="url(#gd)"/>
<path d="M297,-21 L305,-23 M297,21 L305,23" fill="none" stroke="#6e6e6e" stroke-width="0.8"/>
<ellipse cx="305" cy="0" rx="15.4" ry="23" fill="url(#gd)" stroke="#6e6e6e" stroke-width="0.8"/>
<path d="M305,-23 L311,-31 L311,31 L305,23 Z" fill="url(#gd)"/>
<path d="M305,-23 L311,-31 M305,23 L311,31" fill="none" stroke="#6e6e6e" stroke-width="0.8"/>
<ellipse cx="311" cy="0" rx="20.8" ry="31" fill="url(#gd)" stroke="#6e6e6e" stroke-width="0.8"/>
<path d="M311,-31 L350,-31 L350,31 L311,31 Z" fill="url(#gd)"/>
<path d="M311,-31 L350,-31 M311,31 L350,31" fill="none" stroke="#6e6e6e" stroke-width="0.8"/>
<ellipse cx="350" cy="0" rx="20.8" ry="31" fill="url(#gd)" stroke="#6e6e6e" stroke-width="0.8"/>
<path d="M350,-31 L357,-26 L357,26 L350,31 Z" fill="url(#gd)"/>
<path d="M350,-31 L357,-26 M350,31 L357,26" fill="none" stroke="#6e6e6e" stroke-width="0.8"/>
<ellipse cx="357" cy="0" rx="17.4" ry="26" fill="url(#gd)" stroke="#6e6e6e" stroke-width="0.8"/>
<path d="M357,-26 L361,-22 L361,22 L357,26 Z" fill="url(#gm)"/>
<path d="M357,-26 L361,-22 M357,26 L361,22" fill="none" stroke="#6e6e6e" stroke-width="0.8"/>
<ellipse cx="361" cy="0" rx="14.7" ry="22" fill="url(#gm)" stroke="#6e6e6e" stroke-width="0.8"/>
<path d="M361,-22 L367,-22 L367,22 L361,22 Z" fill="url(#gm)"/>
<path d="M361,-22 L367,-22 M361,22 L367,22" fill="none" stroke="#6e6e6e" stroke-width="0.8"/>
<ellipse cx="367" cy="0" rx="14.7" ry="22" fill="url(#gm)" stroke="#6e6e6e" stroke-width="0.8"/>
<ellipse cx="367" cy="0" rx="12.4" ry="18.5" fill="url(#gm)" stroke="#6e6e6e" stroke-width="0.8"/>
<path d="M367,-18.5 L373,-18.5 L373,18.5 L367,18.5 Z" fill="url(#gm)"/>
<path d="M367,-18.5 L373,-18.5 M367,18.5 L373,18.5" fill="none" stroke="#6e6e6e" stroke-width="0.8"/>
<ellipse cx="373" cy="0" rx="12.4" ry="18.5" fill="url(#gm)" stroke="#6e6e6e" stroke-width="0.8"/>
<ellipse cx="373" cy="0" rx="11.1" ry="16.5" fill="url(#gs)" stroke="#6e6e6e" stroke-width="0.8"/>
<path d="M373,-16.5 L612,-16.5 L612,16.5 L373,16.5 Z" fill="url(#gs)"/>
<path d="M373,-16.5 L612,-16.5 M373,16.5 L612,16.5" fill="none" stroke="#6e6e6e" stroke-width="0.8"/>
<ellipse cx="612" cy="0" rx="11.1" ry="16.5" fill="url(#gs)" stroke="#6e6e6e" stroke-width="0.8"/>
<path d="M612,-16.5 L628,-12 L628,12 L612,16.5 Z" fill="url(#gs)"/>
<path d="M612,-16.5 L628,-12 M612,16.5 L628,12" fill="none" stroke="#6e6e6e" stroke-width="0.8"/>
<ellipse cx="628" cy="0" rx="8" ry="12" fill="url(#gs)" stroke="#6e6e6e" stroke-width="0.8"/>
<path d="M628,-12 L640,-12 L640,12 L628,12 Z" fill="url(#gs)"/>
<path d="M628,-12 L640,-12 M628,12 L640,12" fill="none" stroke="#6e6e6e" stroke-width="0.8"/>
<ellipse cx="640" cy="0" rx="8" ry="12" fill="url(#gs)" stroke="#6e6e6e" stroke-width="0.8"/>
<ellipse cx="640" cy="0" rx="10.1" ry="15" fill="url(#gm)" stroke="#6e6e6e" stroke-width="0.8"/>
<path d="M640,-15 L645,-15 L645,15 L640,15 Z" fill="url(#gm)"/>
<path d="M640,-15 L645,-15 M640,15 L645,15" fill="none" stroke="#6e6e6e" stroke-width="0.8"/>
<ellipse cx="645" cy="0" rx="10.1" ry="15" fill="url(#gm)" stroke="#6e6e6e" stroke-width="0.8"/>
<ellipse cx="643" cy="0" rx="9.4" ry="14" fill="url(#gm)" stroke="#6e6e6e" stroke-width="0.8"/>
<path d="M643,-14 L652,-14 L652,14 L643,14 Z" fill="url(#gm)"/>
<path d="M643,-14 L652,-14 M643,14 L652,14" fill="none" stroke="#6e6e6e" stroke-width="0.8"/>
<ellipse cx="652" cy="0" rx="9.4" ry="14" fill="url(#gm)" stroke="#6e6e6e" stroke-width="0.8"/>
<ellipse cx="652" cy="0" rx="12.1" ry="18" fill="url(#gl)" stroke="#6e6e6e" stroke-width="0.8"/>
<path d="M652,-18 L657,-23 L657,23 L652,18 Z" fill="url(#gl)"/>
<path d="M652,-18 L657,-23 M652,18 L657,23" fill="none" stroke="#6e6e6e" stroke-width="0.8"/>
<ellipse cx="657" cy="0" rx="15.4" ry="23" fill="url(#gl)" stroke="#6e6e6e" stroke-width="0.8"/>
<path d="M657,-23 L660,-22 L660,22 L657,23 Z" fill="url(#gld)"/>
<path d="M657,-23 L660,-22 M657,23 L660,22" fill="none" stroke="#6e6e6e" stroke-width="0.8"/>
<ellipse cx="660" cy="0" rx="14.7" ry="22" fill="url(#gld)" stroke="#6e6e6e" stroke-width="0.8"/>
<path d="M660,-22 L666,-30 L666,30 L660,22 Z" fill="url(#gl)"/>
<path d="M660,-22 L666,-30 M660,22 L666,30" fill="none" stroke="#6e6e6e" stroke-width="0.8"/>
<ellipse cx="666" cy="0" rx="20.1" ry="30" fill="url(#gl)" stroke="#6e6e6e" stroke-width="0.8"/>
<path d="M666,-30 L669,-29 L669,29 L666,30 Z" fill="url(#gld)"/>
<path d="M666,-30 L669,-29 M666,30 L669,29" fill="none" stroke="#6e6e6e" stroke-width="0.8"/>
<ellipse cx="669" cy="0" rx="19.4" ry="29" fill="url(#gld)" stroke="#6e6e6e" stroke-width="0.8"/>
<path d="M669,-29 L675,-37 L675,37 L669,29 Z" fill="url(#gl)"/>
<path d="M669,-29 L675,-37 M669,29 L675,37" fill="none" stroke="#6e6e6e" stroke-width="0.8"/>
<ellipse cx="675" cy="0" rx="24.8" ry="37" fill="url(#gl)" stroke="#6e6e6e" stroke-width="0.8"/>
<path d="M675,-37 L678,-36 L678,36 L675,37 Z" fill="url(#gld)"/>
<path d="M675,-37 L678,-36 M675,37 L678,36" fill="none" stroke="#6e6e6e" stroke-width="0.8"/>
<ellipse cx="678" cy="0" rx="24.1" ry="36" fill="url(#gld)" stroke="#6e6e6e" stroke-width="0.8"/>
<path d="M678,-36 L684,-43 L684,43 L678,36 Z" fill="url(#gl)"/>
<path d="M678,-36 L684,-43 M678,36 L684,43" fill="none" stroke="#6e6e6e" stroke-width="0.8"/>
<ellipse cx="684" cy="0" rx="28.8" ry="43" fill="url(#gl)" stroke="#6e6e6e" stroke-width="0.8"/>
<path d="M684,-43 L687,-42 L687,42 L684,43 Z" fill="url(#gld)"/>
<path d="M684,-43 L687,-42 M684,43 L687,42" fill="none" stroke="#6e6e6e" stroke-width="0.8"/>
<ellipse cx="687" cy="0" rx="28.1" ry="42" fill="url(#gld)" stroke="#6e6e6e" stroke-width="0.8"/>
<path d="M687,-42 L694,-48 L694,48 L687,42 Z" fill="url(#gl)"/>
<path d="M687,-42 L694,-48 M687,42 L694,48" fill="none" stroke="#6e6e6e" stroke-width="0.8"/>
<ellipse cx="694" cy="0" rx="32.2" ry="48" fill="url(#gl)" stroke="#6e6e6e" stroke-width="0.8"/>
<path d="M694,-48 L698,-47 L698,47 L694,48 Z" fill="url(#gld)"/>
<path d="M694,-48 L698,-47 M694,48 L698,47" fill="none" stroke="#6e6e6e" stroke-width="0.8"/>
<ellipse cx="698" cy="0" rx="31.5" ry="47" fill="url(#gld)" stroke="#6e6e6e" stroke-width="0.8"/>
<path d="M698,-47 L702,-50 L702,50 L698,47 Z" fill="url(#gl)"/>
<path d="M698,-47 L702,-50 M698,47 L702,50" fill="none" stroke="#6e6e6e" stroke-width="0.8"/>
<ellipse cx="702" cy="0" rx="33.5" ry="50" fill="url(#gl)" stroke="#6e6e6e" stroke-width="0.8"/>
<ellipse cx="702" cy="0" rx="34.2" ry="51" fill="url(#gm)" stroke="#6e6e6e" stroke-width="0.8"/>
<path d="M702,-51 L717,-51 L717,51 L702,51 Z" fill="url(#gm)"/>
<path d="M702,-51 L717,-51 M702,51 L717,51" fill="none" stroke="#6e6e6e" stroke-width="0.8"/>
<ellipse cx="717" cy="0" rx="34.2" ry="51" fill="url(#gm)" stroke="#6e6e6e" stroke-width="0.8"/>
<path d="M717,-51 L718,-45 L718,45 L717,51 Z" fill="url(#gdd)"/>
<path d="M717,-51 L718,-45 M717,51 L718,45" fill="none" stroke="#6e6e6e" stroke-width="0.8"/>
<ellipse cx="718" cy="0" rx="30.2" ry="45" fill="url(#gdd)" stroke="#6e6e6e" stroke-width="0.8"/>
<path d="M718,-45 L720,-46.5 L720,46.5 L718,45 Z" fill="url(#gm)"/>
<path d="M718,-45 L720,-46.5 M718,45 L720,46.5" fill="none" stroke="#6e6e6e" stroke-width="0.8"/>
<ellipse cx="720" cy="0" rx="31.2" ry="46.5" fill="url(#gm)" stroke="#6e6e6e" stroke-width="0.8"/>
<path d="M720,-46.5 L771,-46.5 L771,46.5 L720,46.5 Z" fill="url(#gm)"/>
<path d="M720,-46.5 L771,-46.5 M720,46.5 L771,46.5" fill="none" stroke="#6e6e6e" stroke-width="0.8"/>
<ellipse cx="771" cy="0" rx="31.2" ry="46.5" fill="url(#gm)" stroke="#6e6e6e" stroke-width="0.8"/>
<path d="M771,-46.5 L787,-34 L787,34 L771,46.5 Z" fill="url(#gm)"/>
<path d="M771,-46.5 L787,-34 M771,46.5 L787,34" fill="none" stroke="#6e6e6e" stroke-width="0.8"/>
<ellipse cx="787" cy="0" rx="22.8" ry="34" fill="url(#gm)" stroke="#6e6e6e" stroke-width="0.8"/>
<path d="M787,-34 L793,-34 L793,34 L787,34 Z" fill="url(#gm)"/>
<path d="M787,-34 L793,-34 M787,34 L793,34" fill="none" stroke="#6e6e6e" stroke-width="0.8"/>
<ellipse cx="793" cy="0" rx="22.8" ry="34" fill="url(#gm)" stroke="#6e6e6e" stroke-width="0.8"/>
<ellipse cx="793" cy="0" rx="18.1" ry="27" fill="url(#gm)" stroke="#6e6e6e" stroke-width="0.8"/>
<path d="M793,-27 L798,-27 L798,27 L793,27 Z" fill="url(#gm)"/>
<path d="M793,-27 L798,-27 M793,27 L798,27" fill="none" stroke="#6e6e6e" stroke-width="0.8"/>
<ellipse cx="798" cy="0" rx="18.1" ry="27" fill="url(#gm)" stroke="#6e6e6e" stroke-width="0.8"/>
<ellipse cx="798" cy="0" rx="14.7" ry="22" fill="url(#gm)" stroke="#6e6e6e" stroke-width="0.8"/>
<path d="M798,-22 L803,-22 L803,22 L798,22 Z" fill="url(#gm)"/>
<path d="M798,-22 L803,-22 M798,22 L803,22" fill="none" stroke="#6e6e6e" stroke-width="0.8"/>
<ellipse cx="803" cy="0" rx="14.7" ry="22" fill="url(#gm)" stroke="#6e6e6e" stroke-width="0.8"/>
<ellipse cx="803" cy="0" rx="10.1" ry="15" fill="url(#gs)" stroke="#6e6e6e" stroke-width="0.8"/>
<path d="M803,-15 L821,-15 L821,15 L803,15 Z" fill="url(#gs)"/>
<path d="M803,-15 L821,-15 M803,15 L821,15" fill="none" stroke="#6e6e6e" stroke-width="0.8"/>
<ellipse cx="821" cy="0" rx="10.1" ry="15" fill="url(#gs)" stroke="#6e6e6e" stroke-width="0.8"/>
<ellipse cx="821" cy="0" rx="10.5" ry="15.6" fill="url(#gl)" stroke="#6e6e6e" stroke-width="0.8"/>
<path d="M821,-15.6 L824,-15.6 L824,15.6 L821,15.6 Z" fill="url(#gl)"/>
<path d="M821,-15.6 L824,-15.6 M821,15.6 L824,15.6" fill="none" stroke="#6e6e6e" stroke-width="0.8"/>
<ellipse cx="824" cy="0" rx="10.5" ry="15.6" fill="url(#gl)" stroke="#6e6e6e" stroke-width="0.8"/>
<ellipse cx="824" cy="0" rx="10.1" ry="15" fill="url(#gs)" stroke="#6e6e6e" stroke-width="0.8"/>
<path d="M824,-15 L842,-15 L842,15 L824,15 Z" fill="url(#gs)"/>
<path d="M824,-15 L842,-15 M824,15 L842,15" fill="none" stroke="#6e6e6e" stroke-width="0.8"/>
<ellipse cx="842" cy="0" rx="10.1" ry="15" fill="url(#gs)" stroke="#6e6e6e" stroke-width="0.8"/>
<path d="M842,-15 L845,-13.5 L845,13.5 L842,15 Z" fill="url(#gs)"/>
<path d="M842,-15 L845,-13.5 M842,15 L845,13.5" fill="none" stroke="#6e6e6e" stroke-width="0.8"/>
<ellipse cx="845" cy="0" rx="9" ry="13.5" fill="url(#gs)" stroke="#6e6e6e" stroke-width="0.8"/>
<ellipse cx="845" cy="0" rx="9" ry="13.5" fill="#a8a8a8" stroke="#6e6e6e" stroke-width="0.8"/>
</g>
<g transform="translate(1619.4,220.3) rotate(30)">
<ellipse cx="0" cy="0" rx="7.7" ry="11.5" fill="url(#gs)" stroke="#6e6e6e" stroke-width="0.8"/>
<path d="M0,-11.5 L3,-12.5 L3,12.5 L0,11.5 Z" fill="url(#gs)"/>
<path d="M0,-11.5 L3,-12.5 M0,11.5 L3,12.5" fill="none" stroke="#6e6e6e" stroke-width="0.8"/>
<ellipse cx="3" cy="0" rx="8.4" ry="12.5" fill="url(#gs)" stroke="#6e6e6e" stroke-width="0.8"/>
<path d="M3,-12.5 L31,-12.5 L31,12.5 L3,12.5 Z" fill="url(#gs)"/>
<path d="M3,-12.5 L31,-12.5 M3,12.5 L31,12.5" fill="none" stroke="#6e6e6e" stroke-width="0.8"/>
<ellipse cx="31" cy="0" rx="8.4" ry="12.5" fill="url(#gs)" stroke="#6e6e6e" stroke-width="0.8"/>
<ellipse cx="31" cy="0" rx="9.4" ry="14" fill="url(#gs)" stroke="#6e6e6e" stroke-width="0.8"/>
<path d="M31,-14 L34,-16.5 L34,16.5 L31,14 Z" fill="url(#gs)"/>
<path d="M31,-14 L34,-16.5 M31,14 L34,16.5" fill="none" stroke="#6e6e6e" stroke-width="0.8"/>
<ellipse cx="34" cy="0" rx="11.1" ry="16.5" fill="url(#gs)" stroke="#6e6e6e" stroke-width="0.8"/>
<path d="M34,-16.5 L89,-16.5 L89,16.5 L34,16.5 Z" fill="url(#gs)"/>
<path d="M34,-16.5 L89,-16.5 M34,16.5 L89,16.5" fill="none" stroke="#6e6e6e" stroke-width="0.8"/>
<ellipse cx="89" cy="0" rx="11.1" ry="16.5" fill="url(#gs)" stroke="#6e6e6e" stroke-width="0.8"/>
<ellipse cx="89" cy="0" rx="25.5" ry="38" fill="url(#gdd)" stroke="#6e6e6e" stroke-width="0.8"/>
<path d="M89,-38 L93,-43 L93,43 L89,38 Z" fill="url(#gdd)"/>
<path d="M89,-38 L93,-43 M89,38 L93,43" fill="none" stroke="#6e6e6e" stroke-width="0.8"/>
<ellipse cx="93" cy="0" rx="28.8" ry="43" fill="url(#gdd)" stroke="#6e6e6e" stroke-width="0.8"/>
<path d="M93,-43 L102,-44 L102,44 L93,43 Z" fill="url(#gdd)"/>
<path d="M93,-43 L102,-44 M93,43 L102,44" fill="none" stroke="#6e6e6e" stroke-width="0.8"/>
<ellipse cx="102" cy="0" rx="29.5" ry="44" fill="url(#gdd)" stroke="#6e6e6e" stroke-width="0.8"/>
<ellipse cx="102" cy="0" rx="30.8" ry="46" fill="url(#gd)" stroke="#6e6e6e" stroke-width="0.8"/>
<path d="M102,-46 L112,-47 L112,47 L102,46 Z" fill="url(#gd)"/>
<path d="M102,-46 L112,-47 M102,46 L112,47" fill="none" stroke="#6e6e6e" stroke-width="0.8"/>
<ellipse cx="112" cy="0" rx="31.5" ry="47" fill="url(#gd)" stroke="#6e6e6e" stroke-width="0.8"/>
<path d="M112,-47 L115,-49 L115,49 L112,47 Z" fill="url(#gm)"/>
<path d="M112,-47 L115,-49 M112,47 L115,49" fill="none" stroke="#6e6e6e" stroke-width="0.8"/>
<ellipse cx="115" cy="0" rx="32.8" ry="49" fill="url(#gm)" stroke="#6e6e6e" stroke-width="0.8"/>
<path d="M115,-49 L133,-50.5 L133,50.5 L115,49 Z" fill="url(#gm)"/>
<path d="M115,-49 L133,-50.5 M115,49 L133,50.5" fill="none" stroke="#6e6e6e" stroke-width="0.8"/>
<ellipse cx="133" cy="0" rx="33.8" ry="50.5" fill="url(#gm)" stroke="#6e6e6e" stroke-width="0.8"/>
<path d="M133,-50.5 L135,-52.5 L135,52.5 L133,50.5 Z" fill="url(#gl)"/>
<path d="M133,-50.5 L135,-52.5 M133,50.5 L135,52.5" fill="none" stroke="#6e6e6e" stroke-width="0.8"/>
<ellipse cx="135" cy="0" rx="35.2" ry="52.5" fill="url(#gl)" stroke="#6e6e6e" stroke-width="0.8"/>
<path d="M135,-52.5 L140,-50.5 L140,50.5 L135,52.5 Z" fill="url(#gld)"/>
<path d="M135,-52.5 L140,-50.5 M135,52.5 L140,50.5" fill="none" stroke="#6e6e6e" stroke-width="0.8"/>
<ellipse cx="140" cy="0" rx="33.8" ry="50.5" fill="url(#gld)" stroke="#6e6e6e" stroke-width="0.8"/>
<path d="M140,-50.5 L147,-55 L147,55 L140,50.5 Z" fill="url(#gl)"/>
<path d="M140,-50.5 L147,-55 M140,50.5 L147,55" fill="none" stroke="#6e6e6e" stroke-width="0.8"/>
<ellipse cx="147" cy="0" rx="36.9" ry="55" fill="url(#gl)" stroke="#6e6e6e" stroke-width="0.8"/>
<path d="M147,-55 L152,-52 L152,52 L147,55 Z" fill="url(#gld)"/>
<path d="M147,-55 L152,-52 M147,55 L152,52" fill="none" stroke="#6e6e6e" stroke-width="0.8"/>
<ellipse cx="152" cy="0" rx="34.8" ry="52" fill="url(#gld)" stroke="#6e6e6e" stroke-width="0.8"/>
<path d="M152,-52 L158,-56 L158,56 L152,52 Z" fill="url(#gl)"/>
<path d="M152,-52 L158,-56 M152,52 L158,56" fill="none" stroke="#6e6e6e" stroke-width="0.8"/>
<ellipse cx="158" cy="0" rx="37.5" ry="56" fill="url(#gl)" stroke="#6e6e6e" stroke-width="0.8"/>
<path d="M158,-56 L163,-52.5 L163,52.5 L158,56 Z" fill="url(#gld)"/>
<path d="M158,-56 L163,-52.5 M158,56 L163,52.5" fill="none" stroke="#6e6e6e" stroke-width="0.8"/>
<ellipse cx="163" cy="0" rx="35.2" ry="52.5" fill="url(#gld)" stroke="#6e6e6e" stroke-width="0.8"/>
<path d="M163,-52.5 L169,-54.5 L169,54.5 L163,52.5 Z" fill="url(#gl)"/>
<path d="M163,-52.5 L169,-54.5 M163,52.5 L169,54.5" fill="none" stroke="#6e6e6e" stroke-width="0.8"/>
<ellipse cx="169" cy="0" rx="36.5" ry="54.5" fill="url(#gl)" stroke="#6e6e6e" stroke-width="0.8"/>
<path d="M169,-54.5 L174,-50 L174,50 L169,54.5 Z" fill="url(#gld)"/>
<path d="M169,-54.5 L174,-50 M169,54.5 L174,50" fill="none" stroke="#6e6e6e" stroke-width="0.8"/>
<ellipse cx="174" cy="0" rx="33.5" ry="50" fill="url(#gld)" stroke="#6e6e6e" stroke-width="0.8"/>
<path d="M174,-50 L179,-51 L179,51 L174,50 Z" fill="url(#gl)"/>
<path d="M174,-50 L179,-51 M174,50 L179,51" fill="none" stroke="#6e6e6e" stroke-width="0.8"/>
<ellipse cx="179" cy="0" rx="34.2" ry="51" fill="url(#gl)" stroke="#6e6e6e" stroke-width="0.8"/>
<path d="M179,-51 L184,-45.5 L184,45.5 L179,51 Z" fill="url(#gld)"/>
<path d="M179,-51 L184,-45.5 M179,51 L184,45.5" fill="none" stroke="#6e6e6e" stroke-width="0.8"/>
<ellipse cx="184" cy="0" rx="30.5" ry="45.5" fill="url(#gld)" stroke="#6e6e6e" stroke-width="0.8"/>
<path d="M184,-45.5 L188,-46 L188,46 L184,45.5 Z" fill="url(#gl)"/>
<path d="M184,-45.5 L188,-46 M184,45.5 L188,46" fill="none" stroke="#6e6e6e" stroke-width="0.8"/>
<ellipse cx="188" cy="0" rx="30.8" ry="46" fill="url(#gl)" stroke="#6e6e6e" stroke-width="0.8"/>
<path d="M188,-46 L192,-39 L192,39 L188,46 Z" fill="url(#gld)"/>
<path d="M188,-46 L192,-39 M188,46 L192,39" fill="none" stroke="#6e6e6e" stroke-width="0.8"/>
<ellipse cx="192" cy="0" rx="26.1" ry="39" fill="url(#gld)" stroke="#6e6e6e" stroke-width="0.8"/>
<path d="M192,-39 L196,-39 L196,39 L192,39 Z" fill="url(#gl)"/>
<path d="M192,-39 L196,-39 M192,39 L196,39" fill="none" stroke="#6e6e6e" stroke-width="0.8"/>
<ellipse cx="196" cy="0" rx="26.1" ry="39" fill="url(#gl)" stroke="#6e6e6e" stroke-width="0.8"/>
<path d="M196,-39 L199,-32 L199,32 L196,39 Z" fill="url(#gld)"/>
<path d="M196,-39 L199,-32 M196,39 L199,32" fill="none" stroke="#6e6e6e" stroke-width="0.8"/>
<ellipse cx="199" cy="0" rx="21.4" ry="32" fill="url(#gld)" stroke="#6e6e6e" stroke-width="0.8"/>
<path d="M199,-32 L202,-30 L202,30 L199,32 Z" fill="url(#gl)"/>
<path d="M199,-32 L202,-30 M199,32 L202,30" fill="none" stroke="#6e6e6e" stroke-width="0.8"/>
<ellipse cx="202" cy="0" rx="20.1" ry="30" fill="url(#gl)" stroke="#6e6e6e" stroke-width="0.8"/>
<path d="M202,-30 L205,-22 L205,22 L202,30 Z" fill="url(#gl)"/>
<path d="M202,-30 L205,-22 M202,30 L205,22" fill="none" stroke="#6e6e6e" stroke-width="0.8"/>
<ellipse cx="205" cy="0" rx="14.7" ry="22" fill="url(#gl)" stroke="#6e6e6e" stroke-width="0.8"/>
<path d="M205,-22 L207,-17 L207,17 L205,22 Z" fill="url(#gl)"/>
<path d="M205,-22 L207,-17 M205,22 L207,17" fill="none" stroke="#6e6e6e" stroke-width="0.8"/>
<ellipse cx="207" cy="0" rx="11.4" ry="17" fill="url(#gl)" stroke="#6e6e6e" stroke-width="0.8"/>
<path d="M207,-17 L217,-15.5 L217,15.5 L207,17 Z" fill="url(#gl)"/>
<path d="M207,-17 L217,-15.5 M207,17 L217,15.5" fill="none" stroke="#6e6e6e" stroke-width="0.8"/>
<ellipse cx="217" cy="0" rx="10.4" ry="15.5" fill="url(#gl)" stroke="#6e6e6e" stroke-width="0.8"/>
<ellipse cx="217" cy="0" rx="8" ry="12" fill="#dcdcdc" stroke="#9a9a9a" stroke-width="0.8"/>
<ellipse cx="215" cy="0" rx="6.7" ry="10" fill="#efefef" stroke="#aaaaaa" stroke-width="0.8"/>
<path d="M-4,-9 L10,-9 L10,-5 L-6,-5 Z" fill="#8c8c8c"/>
</g>
<g transform="translate(361.4,1518.7) rotate(27.3)">
<ellipse cx="-217" cy="0" rx="10.4" ry="15.5" fill="url(#gl)" stroke="#6e6e6e" stroke-width="0.8"/>
<path d="M-217,-15.5 L-207,-17 L-207,17 L-217,15.5 Z" fill="url(#gl)"/>
<path d="M-217,-15.5 L-207,-17 M-217,15.5 L-207,17" fill="none" stroke="#6e6e6e" stroke-width="0.8"/>
<ellipse cx="-207" cy="0" rx="11.4" ry="17" fill="url(#gl)" stroke="#6e6e6e" stroke-width="0.8"/>
<path d="M-207,-17 L-205,-22 L-205,22 L-207,17 Z" fill="url(#gl)"/>
<path d="M-207,-17 L-205,-22 M-207,17 L-205,22" fill="none" stroke="#6e6e6e" stroke-width="0.8"/>
<ellipse cx="-205" cy="0" rx="14.7" ry="22" fill="url(#gl)" stroke="#6e6e6e" stroke-width="0.8"/>
<path d="M-205,-22 L-202,-30 L-202,30 L-205,22 Z" fill="url(#gl)"/>
<path d="M-205,-22 L-202,-30 M-205,22 L-202,30" fill="none" stroke="#6e6e6e" stroke-width="0.8"/>
<ellipse cx="-202" cy="0" rx="20.1" ry="30" fill="url(#gl)" stroke="#6e6e6e" stroke-width="0.8"/>
<path d="M-202,-30 L-199,-32 L-199,32 L-202,30 Z" fill="url(#gl)"/>
<path d="M-202,-30 L-199,-32 M-202,30 L-199,32" fill="none" stroke="#6e6e6e" stroke-width="0.8"/>
<ellipse cx="-199" cy="0" rx="21.4" ry="32" fill="url(#gl)" stroke="#6e6e6e" stroke-width="0.8"/>
<path d="M-199,-32 L-196,-39 L-196,39 L-199,32 Z" fill="url(#gld)"/>
<path d="M-199,-32 L-196,-39 M-199,32 L-196,39" fill="none" stroke="#6e6e6e" stroke-width="0.8"/>
<ellipse cx="-196" cy="0" rx="26.1" ry="39" fill="url(#gld)" stroke="#6e6e6e" stroke-width="0.8"/>
<path d="M-196,-39 L-192,-39 L-192,39 L-196,39 Z" fill="url(#gl)"/>
<path d="M-196,-39 L-192,-39 M-196,39 L-192,39" fill="none" stroke="#6e6e6e" stroke-width="0.8"/>
<ellipse cx="-192" cy="0" rx="26.1" ry="39" fill="url(#gl)" stroke="#6e6e6e" stroke-width="0.8"/>
<path d="M-192,-39 L-188,-46 L-188,46 L-192,39 Z" fill="url(#gld)"/>
<path d="M-192,-39 L-188,-46 M-192,39 L-188,46" fill="none" stroke="#6e6e6e" stroke-width="0.8"/>
<ellipse cx="-188" cy="0" rx="30.8" ry="46" fill="url(#gld)" stroke="#6e6e6e" stroke-width="0.8"/>
<path d="M-188,-46 L-184,-45.5 L-184,45.5 L-188,46 Z" fill="url(#gl)"/>
<path d="M-188,-46 L-184,-45.5 M-188,46 L-184,45.5" fill="none" stroke="#6e6e6e" stroke-width="0.8"/>
<ellipse cx="-184" cy="0" rx="30.5" ry="45.5" fill="url(#gl)" stroke="#6e6e6e" stroke-width="0.8"/>
<path d="M-184,-45.5 L-179,-51 L-179,51 L-184,45.5 Z" fill="url(#gld)"/>
<path d="M-184,-45.5 L-179,-51 M-184,45.5 L-179,51" fill="none" stroke="#6e6e6e" stroke-width="0.8"/>
<ellipse cx="-179" cy="0" rx="34.2" ry="51" fill="url(#gld)" stroke="#6e6e6e" stroke-width="0.8"/>
<path d="M-179,-51 L-174,-50 L-174,50 L-179,51 Z" fill="url(#gl)"/>
<path d="M-179,-51 L-174,-50 M-179,51 L-174,50" fill="none" stroke="#6e6e6e" stroke-width="0.8"/>
<ellipse cx="-174" cy="0" rx="33.5" ry="50" fill="url(#gl)" stroke="#6e6e6e" stroke-width="0.8"/>
<path d="M-174,-50 L-169,-54.5 L-169,54.5 L-174,50 Z" fill="url(#gld)"/>
<path d="M-174,-50 L-169,-54.5 M-174,50 L-169,54.5" fill="none" stroke="#6e6e6e" stroke-width="0.8"/>
<ellipse cx="-169" cy="0" rx="36.5" ry="54.5" fill="url(#gld)" stroke="#6e6e6e" stroke-width="0.8"/>
<path d="M-169,-54.5 L-163,-52.5 L-163,52.5 L-169,54.5 Z" fill="url(#gl)"/>
<path d="M-169,-54.5 L-163,-52.5 M-169,54.5 L-163,52.5" fill="none" stroke="#6e6e6e" stroke-width="0.8"/>
<ellipse cx="-163" cy="0" rx="35.2" ry="52.5" fill="url(#gl)" stroke="#6e6e6e" stroke-width="0.8"/>
<path d="M-163,-52.5 L-158,-56 L-158,56 L-163,52.5 Z" fill="url(#gld)"/>
<path d="M-163,-52.5 L-158,-56 M-163,52.5 L-158,56" fill="none" stroke="#6e6e6e" stroke-width="0.8"/>
<ellipse cx="-158" cy="0" rx="37.5" ry="56" fill="url(#gld)" stroke="#6e6e6e" stroke-width="0.8"/>
<path d="M-158,-56 L-152,-52 L-152,52 L-158,56 Z" fill="url(#gl)"/>
<path d="M-158,-56 L-152,-52 M-158,56 L-152,52" fill="none" stroke="#6e6e6e" stroke-width="0.8"/>
<ellipse cx="-152" cy="0" rx="34.8" ry="52" fill="url(#gl)" stroke="#6e6e6e" stroke-width="0.8"/>
<path d="M-152,-52 L-147,-55 L-147,55 L-152,52 Z" fill="url(#gld)"/>
<path d="M-152,-52 L-147,-55 M-152,52 L-147,55" fill="none" stroke="#6e6e6e" stroke-width="0.8"/>
<ellipse cx="-147" cy="0" rx="36.9" ry="55" fill="url(#gld)" stroke="#6e6e6e" stroke-width="0.8"/>
<path d="M-147,-55 L-140,-50.5 L-140,50.5 L-147,55 Z" fill="url(#gl)"/>
<path d="M-147,-55 L-140,-50.5 M-147,55 L-140,50.5" fill="none" stroke="#6e6e6e" stroke-width="0.8"/>
<ellipse cx="-140" cy="0" rx="33.8" ry="50.5" fill="url(#gl)" stroke="#6e6e6e" stroke-width="0.8"/>
<path d="M-140,-50.5 L-135,-52.5 L-135,52.5 L-140,50.5 Z" fill="url(#gld)"/>
<path d="M-140,-50.5 L-135,-52.5 M-140,50.5 L-135,52.5" fill="none" stroke="#6e6e6e" stroke-width="0.8"/>
<ellipse cx="-135" cy="0" rx="35.2" ry="52.5" fill="url(#gld)" stroke="#6e6e6e" stroke-width="0.8"/>
<path d="M-135,-52.5 L-133,-50.5 L-133,50.5 L-135,52.5 Z" fill="url(#gl)"/>
<path d="M-135,-52.5 L-133,-50.5 M-135,52.5 L-133,50.5" fill="none" stroke="#6e6e6e" stroke-width="0.8"/>
<ellipse cx="-133" cy="0" rx="33.8" ry="50.5" fill="url(#gl)" stroke="#6e6e6e" stroke-width="0.8"/>
<path d="M-133,-50.5 L-115,-49 L-115,49 L-133,50.5 Z" fill="url(#gm)"/>
<path d="M-133,-50.5 L-115,-49 M-133,50.5 L-115,49" fill="none" stroke="#6e6e6e" stroke-width="0.8"/>
<ellipse cx="-115" cy="0" rx="32.8" ry="49" fill="url(#gm)" stroke="#6e6e6e" stroke-width="0.8"/>
<path d="M-115,-49 L-112,-47 L-112,47 L-115,49 Z" fill="url(#gm)"/>
<path d="M-115,-49 L-112,-47 M-115,49 L-112,47" fill="none" stroke="#6e6e6e" stroke-width="0.8"/>
<ellipse cx="-112" cy="0" rx="31.5" ry="47" fill="url(#gm)" stroke="#6e6e6e" stroke-width="0.8"/>
<path d="M-112,-47 L-102,-46 L-102,46 L-112,47 Z" fill="url(#gd)"/>
<path d="M-112,-47 L-102,-46 M-112,47 L-102,46" fill="none" stroke="#6e6e6e" stroke-width="0.8"/>
<ellipse cx="-102" cy="0" rx="30.8" ry="46" fill="url(#gd)" stroke="#6e6e6e" stroke-width="0.8"/>
<ellipse cx="-102" cy="0" rx="29.5" ry="44" fill="url(#gd)" stroke="#6e6e6e" stroke-width="0.8"/>
<path d="M-102,-44 L-93,-43 L-93,43 L-102,44 Z" fill="url(#gdd)"/>
<path d="M-102,-44 L-93,-43 M-102,44 L-93,43" fill="none" stroke="#6e6e6e" stroke-width="0.8"/>
<ellipse cx="-93" cy="0" rx="28.8" ry="43" fill="url(#gdd)" stroke="#6e6e6e" stroke-width="0.8"/>
<path d="M-93,-43 L-89,-38 L-89,38 L-93,43 Z" fill="url(#gdd)"/>
<path d="M-93,-43 L-89,-38 M-93,43 L-89,38" fill="none" stroke="#6e6e6e" stroke-width="0.8"/>
<ellipse cx="-89" cy="0" rx="25.5" ry="38" fill="#b4b4b4" stroke="#6e6e6e" stroke-width="0.8"/>
<ellipse cx="-89" cy="0" rx="18.8" ry="28" fill="#c9c9c9" stroke="#6e6e6e" stroke-width="0.8"/>
<path d="M-89,-28 L-84,-23 L-84,23 L-89,28 Z" fill="url(#gm)"/>
<path d="M-89,-28 L-84,-23 M-89,28 L-84,23" fill="none" stroke="#6e6e6e" stroke-width="0.8"/>
<ellipse cx="-84" cy="0" rx="15.4" ry="23" fill="#bdbdbd" stroke="#6e6e6e" stroke-width="0.8"/>
<ellipse cx="-84" cy="0" rx="11.1" ry="16.5" fill="url(#gs)" stroke="#6e6e6e" stroke-width="0.8"/>
<path d="M-84,-16.5 L-34,-16.5 L-34,16.5 L-84,16.5 Z" fill="url(#gs)"/>
<path d="M-84,-16.5 L-34,-16.5 M-84,16.5 L-34,16.5" fill="none" stroke="#6e6e6e" stroke-width="0.8"/>
<ellipse cx="-34" cy="0" rx="11.1" ry="16.5" fill="url(#gs)" stroke="#6e6e6e" stroke-width="0.8"/>
<path d="M-34,-16.5 L-31,-14 L-31,14 L-34,16.5 Z" fill="url(#gs)"/>
<path d="M-34,-16.5 L-31,-14 M-34,16.5 L-31,14" fill="none" stroke="#6e6e6e" stroke-width="0.8"/>
<ellipse cx="-31" cy="0" rx="9.4" ry="14" fill="url(#gs)" stroke="#6e6e6e" stroke-width="0.8"/>
<ellipse cx="-31" cy="0" rx="8.4" ry="12.5" fill="url(#gs)" stroke="#6e6e6e" stroke-width="0.8"/>
<path d="M-31,-12.5 L-3,-12.5 L-3,12.5 L-31,12.5 Z" fill="url(#gs)"/>
<path d="M-31,-12.5 L-3,-12.5 M-31,12.5 L-3,12.5" fill="none" stroke="#6e6e6e" stroke-width="0.8"/>
<ellipse cx="-3" cy="0" rx="8.4" ry="12.5" fill="url(#gs)" stroke="#6e6e6e" stroke-width="0.8"/>
<path d="M-3,-12.5 L0,-11.5 L0,11.5 L-3,12.5 Z" fill="url(#gs)"/>
<path d="M-3,-12.5 L0,-11.5 M-3,12.5 L0,11.5" fill="none" stroke="#6e6e6e" stroke-width="0.8"/>
<ellipse cx="0" cy="0" rx="7.7" ry="11.5" fill="url(#gs)" stroke="#6e6e6e" stroke-width="0.8"/>
<ellipse cx="0" cy="0" rx="7.7" ry="11.5" fill="#c4c4c4" stroke="#6e6e6e" stroke-width="0.8"/>
<path d="M-3,4 L4,4 L4,10 L-1,11 Z" fill="#8c8c8c"/>
</g>
<polygon points="1313.2,916.4 1322.7,902.6 1327,900.9 1330.4,905.2 1341.6,909.5 1362.3,895.7 1369.2,876.8 1372.6,882 1386.4,878.5 1413.9,875.1 1424.3,878.5 1434.6,887.1 1462.1,897.5 1469,894 1475.9,896.6 1479.3,904.3 1489.7,905.2 1501.7,909.5 1507.7,905.2 1582.6,948.2 1582.6,952.5 1574,957.7 1572.3,971.5 1582.6,979.2 1580.9,983.5 1572.3,987.8 1531,962.9 1532.7,973.2 1487.9,947.4 1462.1,931.9 1441.5,925 1410.5,933.6 1362.3,948.2 1355.4,948.2 1313.2,921.5" fill="#939393" stroke="#777" stroke-width="0.6"/>
<polygon points="1501.7,909.5 1507.7,905.2 1582.6,948.2 1582.6,952.5 1574,957.7 1572.3,971.5 1582.6,979.2 1580.9,983.5 1572.3,987.8 1531,962.9 1531,930.2 1527.5,927.6" fill="#ababab"/>
<polygon points="1487.9,947.4 1489.7,930.2 1527.5,927.6 1531,930.2 1532.7,973.2" fill="#858585"/>
<polygon points="1321.8,904.3 1346.8,919 1356.3,920.7 1354.5,940.5 1346.8,942.5 1319.3,923.3" fill="#adadad"/>
<polygon points="1362.3,895.7 1369.2,876.8 1372.6,882 1386.4,878.5 1413.9,875.1 1424.3,878.5 1396.7,895.7 1376.1,908.6 1346.8,916.4 1341.6,909.5" fill="#7f7f7f"/>
<polygon points="1369.2,877.7 1372.6,882 1386.4,879.4 1365.7,900.9 1346.8,912.9 1341.6,909.5 1362.3,895.7" fill="#a4a4a4"/>
<polyline points="1362.3,948.2 1410.5,934.5 1436.3,924.1 1505.1,928.4" fill="none" stroke="#d4d4d4" stroke-width="1.2"/>
<polygon points="1443.2,918.1 1450.1,913.8 1455.2,918.1 1451.8,923.3 1444.9,923.3" fill="#b4b4b4"/>
<polygon points="1266,1046.7 1269.6,1045.2 1324.6,1078.5 1338.4,1090.8 1311.6,1131.4 1298.6,1144.4 1268.2,1164.7 1253.7,1173.4 1214.6,1196.6 1201.5,1202.4 1153.7,1240.7 1147.9,1239.3 1137.8,1222.6 1129.1,1227 1119,1218.3 1113.9,1169 1121.1,1160.4 1130.6,1158.9 1134.9,1161.8 1184.1,1148.8 1191.4,1147.3 1203,1140.1 1231.9,1124.1 1236.3,1121.3 1243.5,1122.7 1253.7,1119.1 1258,1108.2 1260.9,1080.7" fill="#989898" stroke="#777" stroke-width="0.6"/>
<polygon points="1266,1046.7 1272.8,1049.1 1264.5,1117.6 1253.7,1119.1 1258,1108.2 1260.9,1080.7" fill="#c2c2c2"/>
<polygon points="1272.8,1049.1 1292.8,1061.9 1278.3,1119.1 1264.5,1117.6" fill="#8a8a8a"/>
<polygon points="1292.8,1061.9 1324.6,1078.5 1304.4,1108.2 1282.6,1116.9 1278.3,1119.1" fill="#b8b8b8"/>
<polygon points="1310.2,1073.5 1318.9,1077.1 1300,1108.2 1292.8,1111.1" fill="#d8d8d8"/>
<polygon points="1156.6,1183.5 1182.7,1150.2 1186.3,1153.1 1176.9,1212.5 1155.2,1238.6" fill="#7e7e7e"/>
<polygon points="1114.9,1169.8 1156.6,1183.5 1155.2,1238.6 1147.9,1239.3 1137.8,1222.6 1129.1,1227 1119.7,1218.3" fill="#a8a8a8"/>
<polygon points="1113.9,1169 1121.1,1160.4 1130.6,1158.9 1134.9,1161.8 1184.1,1148.8 1156.6,1174.8 1156.6,1183.5" fill="#b4b4b4"/>
<polygon points="1184.1,1148.8 1191.4,1147.3 1203,1140.1 1231.9,1124.1 1236.3,1121.3 1243.5,1122.7 1253.7,1119.1 1274,1124.9 1269.6,1131.4 1256.6,1129.9 1205.9,1153.1 1191.4,1154.6" fill="#b0b0b0"/>
<ellipse cx="1238.5" cy="1125.2" rx="3.2" ry="1.8" fill="#f4f4f4" stroke="#777" stroke-width="0.6"/>
<ellipse cx="1265.3" cy="1128.2" rx="3.2" ry="1.8" fill="#f4f4f4" stroke="#777" stroke-width="0.6"/>
<ellipse cx="1197.9" cy="1150.7" rx="3.2" ry="1.8" fill="#f4f4f4" stroke="#777" stroke-width="0.6"/>
<ellipse cx="1128.4" cy="1162.5" rx="3.2" ry="1.8" fill="#f4f4f4" stroke="#777" stroke-width="0.6"/>
<polygon points="1203,1169 1213.1,1164.7 1214.6,1196.6 1204.4,1189.3" fill="#b6b6b6"/>
<polygon points="1240.6,1147.3 1250.8,1143 1252.9,1173.4 1242.1,1167.6" fill="#b6b6b6"/>
<g transform="translate(1343,1054.5) rotate(28.9)">
<ellipse cx="0" cy="0" rx="9.4" ry="14" fill="url(#gs)" stroke="#6e6e6e" stroke-width="0.8"/>
<path d="M0,-14 L3,-15.3 L3,15.3 L0,14 Z" fill="url(#gs)"/>
<path d="M0,-14 L3,-15.3 M0,14 L3,15.3" fill="none" stroke="#6e6e6e" stroke-width="0.8"/>
<ellipse cx="3" cy="0" rx="10.3" ry="15.3" fill="url(#gs)" stroke="#6e6e6e" stroke-width="0.8"/>
<path d="M3,-15.3 L32,-15.3 L32,15.3 L3,15.3 Z" fill="url(#gs)"/>
<path d="M3,-15.3 L32,-15.3 M3,15.3 L32,15.3" fill="none" stroke="#6e6e6e" stroke-width="0.8"/>
<ellipse cx="32" cy="0" rx="10.3" ry="15.3" fill="url(#gs)" stroke="#6e6e6e" stroke-width="0.8"/>
<ellipse cx="32" cy="0" rx="7.7" ry="11.5" fill="url(#gs)" stroke="#6e6e6e" stroke-width="0.8"/>
<path d="M32,-11.5 L56,-11.5 L56,11.5 L32,11.5 Z" fill="url(#gs)"/>
<path d="M32,-11.5 L56,-11.5 M32,11.5 L56,11.5" fill="none" stroke="#6e6e6e" stroke-width="0.8"/>
<ellipse cx="56" cy="0" rx="7.7" ry="11.5" fill="url(#gs)" stroke="#6e6e6e" stroke-width="0.8"/>
<ellipse cx="56" cy="0" rx="18.8" ry="28" fill="url(#gd)" stroke="#6e6e6e" stroke-width="0.8"/>
<path d="M56,-28 L60,-33 L60,33 L56,28 Z" fill="url(#gd)"/>
<path d="M56,-28 L60,-33 M56,28 L60,33" fill="none" stroke="#6e6e6e" stroke-width="0.8"/>
<ellipse cx="60" cy="0" rx="22.1" ry="33" fill="url(#gd)" stroke="#6e6e6e" stroke-width="0.8"/>
<path d="M60,-33 L63,-33 L63,33 L60,33 Z" fill="url(#gd)"/>
<path d="M60,-33 L63,-33 M60,33 L63,33" fill="none" stroke="#6e6e6e" stroke-width="0.8"/>
<ellipse cx="63" cy="0" rx="22.1" ry="33" fill="url(#gd)" stroke="#6e6e6e" stroke-width="0.8"/>
<ellipse cx="63" cy="0" rx="26.8" ry="40" fill="url(#gd)" stroke="#6e6e6e" stroke-width="0.8"/>
<path d="M63,-40 L67,-45 L67,45 L63,40 Z" fill="url(#gd)"/>
<path d="M63,-40 L67,-45 M63,40 L67,45" fill="none" stroke="#6e6e6e" stroke-width="0.8"/>
<ellipse cx="67" cy="0" rx="30.2" ry="45" fill="url(#gd)" stroke="#6e6e6e" stroke-width="0.8"/>
<path d="M67,-45 L70,-46.5 L70,46.5 L67,45 Z" fill="url(#gm)"/>
<path d="M67,-45 L70,-46.5 M67,45 L70,46.5" fill="none" stroke="#6e6e6e" stroke-width="0.8"/>
<ellipse cx="70" cy="0" rx="31.2" ry="46.5" fill="url(#gm)" stroke="#6e6e6e" stroke-width="0.8"/>
<path d="M70,-46.5 L118,-46.5 L118,46.5 L70,46.5 Z" fill="url(#gm)"/>
<path d="M70,-46.5 L118,-46.5 M70,46.5 L118,46.5" fill="none" stroke="#6e6e6e" stroke-width="0.8"/>
<ellipse cx="118" cy="0" rx="31.2" ry="46.5" fill="url(#gm)" stroke="#6e6e6e" stroke-width="0.8"/>
<path d="M118,-46.5 L120,-48.5 L120,48.5 L118,46.5 Z" fill="url(#gl)"/>
<path d="M118,-46.5 L120,-48.5 M118,46.5 L120,48.5" fill="none" stroke="#6e6e6e" stroke-width="0.8"/>
<ellipse cx="120" cy="0" rx="32.5" ry="48.5" fill="url(#gl)" stroke="#6e6e6e" stroke-width="0.8"/>
<path d="M120,-48.5 L133,-49 L133,49 L120,48.5 Z" fill="url(#gl)"/>
<path d="M120,-48.5 L133,-49 M120,48.5 L133,49" fill="none" stroke="#6e6e6e" stroke-width="0.8"/>
<ellipse cx="133" cy="0" rx="32.8" ry="49" fill="url(#gl)" stroke="#6e6e6e" stroke-width="0.8"/>
<path d="M133,-49 L139,-46.5 L139,46.5 L133,49 Z" fill="url(#gld)"/>
<path d="M133,-49 L139,-46.5 M133,49 L139,46.5" fill="none" stroke="#6e6e6e" stroke-width="0.8"/>
<ellipse cx="139" cy="0" rx="31.2" ry="46.5" fill="url(#gld)" stroke="#6e6e6e" stroke-width="0.8"/>
<path d="M139,-46.5 L145,-47 L145,47 L139,46.5 Z" fill="url(#gl)"/>
<path d="M139,-46.5 L145,-47 M139,46.5 L145,47" fill="none" stroke="#6e6e6e" stroke-width="0.8"/>
<ellipse cx="145" cy="0" rx="31.5" ry="47" fill="url(#gl)" stroke="#6e6e6e" stroke-width="0.8"/>
<path d="M145,-47 L151,-42 L151,42 L145,47 Z" fill="url(#gld)"/>
<path d="M145,-47 L151,-42 M145,47 L151,42" fill="none" stroke="#6e6e6e" stroke-width="0.8"/>
<ellipse cx="151" cy="0" rx="28.1" ry="42" fill="url(#gld)" stroke="#6e6e6e" stroke-width="0.8"/>
<path d="M151,-42 L157,-42.5 L157,42.5 L151,42 Z" fill="url(#gl)"/>
<path d="M151,-42 L157,-42.5 M151,42 L157,42.5" fill="none" stroke="#6e6e6e" stroke-width="0.8"/>
<ellipse cx="157" cy="0" rx="28.5" ry="42.5" fill="url(#gl)" stroke="#6e6e6e" stroke-width="0.8"/>
<path d="M157,-42.5 L162,-37 L162,37 L157,42.5 Z" fill="url(#gld)"/>
<path d="M157,-42.5 L162,-37 M157,42.5 L162,37" fill="none" stroke="#6e6e6e" stroke-width="0.8"/>
<ellipse cx="162" cy="0" rx="24.8" ry="37" fill="url(#gld)" stroke="#6e6e6e" stroke-width="0.8"/>
<path d="M162,-37 L167,-37 L167,37 L162,37 Z" fill="url(#gl)"/>
<path d="M162,-37 L167,-37 M162,37 L167,37" fill="none" stroke="#6e6e6e" stroke-width="0.8"/>
<ellipse cx="167" cy="0" rx="24.8" ry="37" fill="url(#gl)" stroke="#6e6e6e" stroke-width="0.8"/>
<path d="M167,-37 L172,-31 L172,31 L167,37 Z" fill="url(#gld)"/>
<path d="M167,-37 L172,-31 M167,37 L172,31" fill="none" stroke="#6e6e6e" stroke-width="0.8"/>
<ellipse cx="172" cy="0" rx="20.8" ry="31" fill="url(#gld)" stroke="#6e6e6e" stroke-width="0.8"/>
<path d="M172,-31 L177,-30.5 L177,30.5 L172,31 Z" fill="url(#gl)"/>
<path d="M172,-31 L177,-30.5 M172,31 L177,30.5" fill="none" stroke="#6e6e6e" stroke-width="0.8"/>
<ellipse cx="177" cy="0" rx="20.4" ry="30.5" fill="url(#gl)" stroke="#6e6e6e" stroke-width="0.8"/>
<path d="M177,-30.5 L181,-25 L181,25 L177,30.5 Z" fill="url(#gld)"/>
<path d="M177,-30.5 L181,-25 M177,30.5 L181,25" fill="none" stroke="#6e6e6e" stroke-width="0.8"/>
<ellipse cx="181" cy="0" rx="16.8" ry="25" fill="url(#gld)" stroke="#6e6e6e" stroke-width="0.8"/>
<path d="M181,-25 L185,-24 L185,24 L181,25 Z" fill="url(#gl)"/>
<path d="M181,-25 L185,-24 M181,25 L185,24" fill="none" stroke="#6e6e6e" stroke-width="0.8"/>
<ellipse cx="185" cy="0" rx="16.1" ry="24" fill="url(#gl)" stroke="#6e6e6e" stroke-width="0.8"/>
<path d="M185,-24 L188,-18 L188,18 L185,24 Z" fill="url(#gl)"/>
<path d="M185,-24 L188,-18 M185,24 L188,18" fill="none" stroke="#6e6e6e" stroke-width="0.8"/>
<ellipse cx="188" cy="0" rx="12.1" ry="18" fill="url(#gl)" stroke="#6e6e6e" stroke-width="0.8"/>
<path d="M188,-18 L192,-17 L192,17 L188,18 Z" fill="url(#gl)"/>
<path d="M188,-18 L192,-17 M188,18 L192,17" fill="none" stroke="#6e6e6e" stroke-width="0.8"/>
<ellipse cx="192" cy="0" rx="11.4" ry="17" fill="url(#gl)" stroke="#6e6e6e" stroke-width="0.8"/>
<path d="M192,-17 L203,-17 L203,17 L192,17 Z" fill="url(#gl)"/>
<path d="M192,-17 L203,-17 M192,17 L203,17" fill="none" stroke="#6e6e6e" stroke-width="0.8"/>
<ellipse cx="203" cy="0" rx="11.4" ry="17" fill="url(#gl)" stroke="#6e6e6e" stroke-width="0.8"/>
<ellipse cx="203" cy="0" rx="9" ry="13.4" fill="url(#gs)" stroke="#6e6e6e" stroke-width="0.8"/>
<path d="M203,-13.4 L435,-13.4 L435,13.4 L203,13.4 Z" fill="url(#gs)"/>
<path d="M203,-13.4 L435,-13.4 M203,13.4 L435,13.4" fill="none" stroke="#6e6e6e" stroke-width="0.8"/>
<ellipse cx="435" cy="0" rx="9" ry="13.4" fill="url(#gs)" stroke="#6e6e6e" stroke-width="0.8"/>
</g>
<g transform="translate(1909.3,1366.5) rotate(28.9)">
<ellipse cx="-217" cy="0" rx="10.4" ry="15.5" fill="url(#gl)" stroke="#6e6e6e" stroke-width="0.8"/>
<path d="M-217,-15.5 L-207,-17 L-207,17 L-217,15.5 Z" fill="url(#gl)"/>
<path d="M-217,-15.5 L-207,-17 M-217,15.5 L-207,17" fill="none" stroke="#6e6e6e" stroke-width="0.8"/>
<ellipse cx="-207" cy="0" rx="11.4" ry="17" fill="url(#gl)" stroke="#6e6e6e" stroke-width="0.8"/>
<path d="M-207,-17 L-205,-22 L-205,22 L-207,17 Z" fill="url(#gl)"/>
<path d="M-207,-17 L-205,-22 M-207,17 L-205,22" fill="none" stroke="#6e6e6e" stroke-width="0.8"/>
<ellipse cx="-205" cy="0" rx="14.7" ry="22" fill="url(#gl)" stroke="#6e6e6e" stroke-width="0.8"/>
<path d="M-205,-22 L-202,-30 L-202,30 L-205,22 Z" fill="url(#gl)"/>
<path d="M-205,-22 L-202,-30 M-205,22 L-202,30" fill="none" stroke="#6e6e6e" stroke-width="0.8"/>
<ellipse cx="-202" cy="0" rx="20.1" ry="30" fill="url(#gl)" stroke="#6e6e6e" stroke-width="0.8"/>
<path d="M-202,-30 L-199,-32 L-199,32 L-202,30 Z" fill="url(#gl)"/>
<path d="M-202,-30 L-199,-32 M-202,30 L-199,32" fill="none" stroke="#6e6e6e" stroke-width="0.8"/>
<ellipse cx="-199" cy="0" rx="21.4" ry="32" fill="url(#gl)" stroke="#6e6e6e" stroke-width="0.8"/>
<path d="M-199,-32 L-196,-39 L-196,39 L-199,32 Z" fill="url(#gld)"/>
<path d="M-199,-32 L-196,-39 M-199,32 L-196,39" fill="none" stroke="#6e6e6e" stroke-width="0.8"/>
<ellipse cx="-196" cy="0" rx="26.1" ry="39" fill="url(#gld)" stroke="#6e6e6e" stroke-width="0.8"/>
<path d="M-196,-39 L-192,-39 L-192,39 L-196,39 Z" fill="url(#gl)"/>
<path d="M-196,-39 L-192,-39 M-196,39 L-192,39" fill="none" stroke="#6e6e6e" stroke-width="0.8"/>
<ellipse cx="-192" cy="0" rx="26.1" ry="39" fill="url(#gl)" stroke="#6e6e6e" stroke-width="0.8"/>
<path d="M-192,-39 L-188,-46 L-188,46 L-192,39 Z" fill="url(#gld)"/>
<path d="M-192,-39 L-188,-46 M-192,39 L-188,46" fill="none" stroke="#6e6e6e" stroke-width="0.8"/>
<ellipse cx="-188" cy="0" rx="30.8" ry="46" fill="url(#gld)" stroke="#6e6e6e" stroke-width="0.8"/>
<path d="M-188,-46 L-184,-45.5 L-184,45.5 L-188,46 Z" fill="url(#gl)"/>
<path d="M-188,-46 L-184,-45.5 M-188,46 L-184,45.5" fill="none" stroke="#6e6e6e" stroke-width="0.8"/>
<ellipse cx="-184" cy="0" rx="30.5" ry="45.5" fill="url(#gl)" stroke="#6e6e6e" stroke-width="0.8"/>
<path d="M-184,-45.5 L-179,-51 L-179,51 L-184,45.5 Z" fill="url(#gld)"/>
<path d="M-184,-45.5 L-179,-51 M-184,45.5 L-179,51" fill="none" stroke="#6e6e6e" stroke-width="0.8"/>
<ellipse cx="-179" cy="0" rx="34.2" ry="51" fill="url(#gld)" stroke="#6e6e6e" stroke-width="0.8"/>
<path d="M-179,-51 L-174,-50 L-174,50 L-179,51 Z" fill="url(#gl)"/>
<path d="M-179,-51 L-174,-50 M-179,51 L-174,50" fill="none" stroke="#6e6e6e" stroke-width="0.8"/>
<ellipse cx="-174" cy="0" rx="33.5" ry="50" fill="url(#gl)" stroke="#6e6e6e" stroke-width="0.8"/>
<path d="M-174,-50 L-169,-54.5 L-169,54.5 L-174,50 Z" fill="url(#gld)"/>
<path d="M-174,-50 L-169,-54.5 M-174,50 L-169,54.5" fill="none" stroke="#6e6e6e" stroke-width="0.8"/>
<ellipse cx="-169" cy="0" rx="36.5" ry="54.5" fill="url(#gld)" stroke="#6e6e6e" stroke-width="0.8"/>
<path d="M-169,-54.5 L-163,-52.5 L-163,52.5 L-169,54.5 Z" fill="url(#gl)"/>
<path d="M-169,-54.5 L-163,-52.5 M-169,54.5 L-163,52.5" fill="none" stroke="#6e6e6e" stroke-width="0.8"/>
<ellipse cx="-163" cy="0" rx="35.2" ry="52.5" fill="url(#gl)" stroke="#6e6e6e" stroke-width="0.8"/>
<path d="M-163,-52.5 L-158,-56 L-158,56 L-163,52.5 Z" fill="url(#gld)"/>
<path d="M-163,-52.5 L-158,-56 M-163,52.5 L-158,56" fill="none" stroke="#6e6e6e" stroke-width="0.8"/>
<ellipse cx="-158" cy="0" rx="37.5" ry="56" fill="url(#gld)" stroke="#6e6e6e" stroke-width="0.8"/>
<path d="M-158,-56 L-152,-52 L-152,52 L-158,56 Z" fill="url(#gl)"/>
<path d="M-158,-56 L-152,-52 M-158,56 L-152,52" fill="none" stroke="#6e6e6e" stroke-width="0.8"/>
<ellipse cx="-152" cy="0" rx="34.8" ry="52" fill="url(#gl)" stroke="#6e6e6e" stroke-width="0.8"/>
<path d="M-152,-52 L-147,-55 L-147,55 L-152,52 Z" fill="url(#gld)"/>
<path d="M-152,-52 L-147,-55 M-152,52 L-147,55" fill="none" stroke="#6e6e6e" stroke-width="0.8"/>
<ellipse cx="-147" cy="0" rx="36.9" ry="55" fill="url(#gld)" stroke="#6e6e6e" stroke-width="0.8"/>
<path d="M-147,-55 L-140,-50.5 L-140,50.5 L-147,55 Z" fill="url(#gl)"/>
<path d="M-147,-55 L-140,-50.5 M-147,55 L-140,50.5" fill="none" stroke="#6e6e6e" stroke-width="0.8"/>
<ellipse cx="-140" cy="0" rx="33.8" ry="50.5" fill="url(#gl)" stroke="#6e6e6e" stroke-width="0.8"/>
<path d="M-140,-50.5 L-135,-52.5 L-135,52.5 L-140,50.5 Z" fill="url(#gld)"/>
<path d="M-140,-50.5 L-135,-52.5 M-140,50.5 L-135,52.5" fill="none" stroke="#6e6e6e" stroke-width="0.8"/>
<ellipse cx="-135" cy="0" rx="35.2" ry="52.5" fill="url(#gld)" stroke="#6e6e6e" stroke-width="0.8"/>
<path d="M-135,-52.5 L-133,-50.5 L-133,50.5 L-135,52.5 Z" fill="url(#gl)"/>
<path d="M-135,-52.5 L-133,-50.5 M-135,52.5 L-133,50.5" fill="none" stroke="#6e6e6e" stroke-width="0.8"/>
<ellipse cx="-133" cy="0" rx="33.8" ry="50.5" fill="url(#gl)" stroke="#6e6e6e" stroke-width="0.8"/>
<path d="M-133,-50.5 L-115,-49 L-115,49 L-133,50.5 Z" fill="url(#gm)"/>
<path d="M-133,-50.5 L-115,-49 M-133,50.5 L-115,49" fill="none" stroke="#6e6e6e" stroke-width="0.8"/>
<ellipse cx="-115" cy="0" rx="32.8" ry="49" fill="url(#gm)" stroke="#6e6e6e" stroke-width="0.8"/>
<path d="M-115,-49 L-112,-47 L-112,47 L-115,49 Z" fill="url(#gm)"/>
<path d="M-115,-49 L-112,-47 M-115,49 L-112,47" fill="none" stroke="#6e6e6e" stroke-width="0.8"/>
<ellipse cx="-112" cy="0" rx="31.5" ry="47" fill="url(#gm)" stroke="#6e6e6e" stroke-width="0.8"/>
<path d="M-112,-47 L-102,-46 L-102,46 L-112,47 Z" fill="url(#gd)"/>
<path d="M-112,-47 L-102,-46 M-112,47 L-102,46" fill="none" stroke="#6e6e6e" stroke-width="0.8"/>
<ellipse cx="-102" cy="0" rx="30.8" ry="46" fill="url(#gd)" stroke="#6e6e6e" stroke-width="0.8"/>
<ellipse cx="-102" cy="0" rx="29.5" ry="44" fill="url(#gd)" stroke="#6e6e6e" stroke-width="0.8"/>
<path d="M-102,-44 L-93,-43 L-93,43 L-102,44 Z" fill="url(#gdd)"/>
<path d="M-102,-44 L-93,-43 M-102,44 L-93,43" fill="none" stroke="#6e6e6e" stroke-width="0.8"/>
<ellipse cx="-93" cy="0" rx="28.8" ry="43" fill="url(#gdd)" stroke="#6e6e6e" stroke-width="0.8"/>
<path d="M-93,-43 L-89,-38 L-89,38 L-93,43 Z" fill="url(#gdd)"/>
<path d="M-93,-43 L-89,-38 M-93,43 L-89,38" fill="none" stroke="#6e6e6e" stroke-width="0.8"/>
<ellipse cx="-89" cy="0" rx="25.5" ry="38" fill="#b4b4b4" stroke="#6e6e6e" stroke-width="0.8"/>
<ellipse cx="-89" cy="0" rx="18.8" ry="28" fill="#c9c9c9" stroke="#6e6e6e" stroke-width="0.8"/>
<path d="M-89,-28 L-84,-23 L-84,23 L-89,28 Z" fill="url(#gm)"/>
<path d="M-89,-28 L-84,-23 M-89,28 L-84,23" fill="none" stroke="#6e6e6e" stroke-width="0.8"/>
<ellipse cx="-84" cy="0" rx="15.4" ry="23" fill="#bdbdbd" stroke="#6e6e6e" stroke-width="0.8"/>
<ellipse cx="-84" cy="0" rx="11.1" ry="16.5" fill="url(#gs)" stroke="#6e6e6e" stroke-width="0.8"/>
<path d="M-84,-16.5 L-34,-16.5 L-34,16.5 L-84,16.5 Z" fill="url(#gs)"/>
<path d="M-84,-16.5 L-34,-16.5 M-84,16.5 L-34,16.5" fill="none" stroke="#6e6e6e" stroke-width="0.8"/>
<ellipse cx="-34" cy="0" rx="11.1" ry="16.5" fill="url(#gs)" stroke="#6e6e6e" stroke-width="0.8"/>
<path d="M-34,-16.5 L-31,-14 L-31,14 L-34,16.5 Z" fill="url(#gs)"/>
<path d="M-34,-16.5 L-31,-14 M-34,16.5 L-31,14" fill="none" stroke="#6e6e6e" stroke-width="0.8"/>
<ellipse cx="-31" cy="0" rx="9.4" ry="14" fill="url(#gs)" stroke="#6e6e6e" stroke-width="0.8"/>
<ellipse cx="-31" cy="0" rx="8.4" ry="12.5" fill="url(#gs)" stroke="#6e6e6e" stroke-width="0.8"/>
<path d="M-31,-12.5 L-3,-12.5 L-3,12.5 L-31,12.5 Z" fill="url(#gs)"/>
<path d="M-31,-12.5 L-3,-12.5 M-31,12.5 L-3,12.5" fill="none" stroke="#6e6e6e" stroke-width="0.8"/>
<ellipse cx="-3" cy="0" rx="8.4" ry="12.5" fill="url(#gs)" stroke="#6e6e6e" stroke-width="0.8"/>
<path d="M-3,-12.5 L0,-11.5 L0,11.5 L-3,12.5 Z" fill="url(#gs)"/>
<path d="M-3,-12.5 L0,-11.5 M-3,12.5 L0,11.5" fill="none" stroke="#6e6e6e" stroke-width="0.8"/>
<ellipse cx="0" cy="0" rx="7.7" ry="11.5" fill="url(#gs)" stroke="#6e6e6e" stroke-width="0.8"/>
<ellipse cx="0" cy="0" rx="7.7" ry="11.5" fill="#c4c4c4" stroke="#6e6e6e" stroke-width="0.8"/>
<path d="M-3,4 L4,4 L4,10 L-1,11 Z" fill="#8c8c8c"/>
</g>
<line x1="1455.2" y1="877.7" x2="1345.9" y2="919" stroke="#000" stroke-width="1.8" stroke-dasharray="22 4 5 4"/>
<line x1="1611.9" y1="940.5" x2="1573.1" y2="963.7" stroke="#000" stroke-width="1.8" stroke-dasharray="22 4 5 4"/>
<g transform="translate(1497,858) rotate(155)" stroke="#000" stroke-width="1.6" fill="#fff">
<path d="M-9,-8 L-3,-9.5 L-3,9.5 L-9,8 Z" fill="#fff"/>
<ellipse cx="-1" cy="0" rx="5.5" ry="12.5"/>
<path d="M2,-4.5 L44,-4.5 A2,4.5 0 0,1 44,4.5 L2,4.5 Z"/>
<path d="M6,-4.2 L7.5,4.2" stroke-width="1.1"/>
<path d="M10,-4.2 L11.5,4.2" stroke-width="1.1"/>
<path d="M14,-4.2 L15.5,4.2" stroke-width="1.1"/>
<path d="M18,-4.2 L19.5,4.2" stroke-width="1.1"/>
<path d="M22,-4.2 L23.5,4.2" stroke-width="1.1"/>
<path d="M26,-4.2 L27.5,4.2" stroke-width="1.1"/>
<path d="M30,-4.2 L31.5,4.2" stroke-width="1.1"/>
<path d="M34,-4.2 L35.5,4.2" stroke-width="1.1"/>
<path d="M38,-4.2 L39.5,4.2" stroke-width="1.1"/>
<path d="M42,-4.2 L43.5,4.2" stroke-width="1.1"/>
</g>
<g transform="translate(1652.5,922.5) rotate(156.5)" stroke="#000" stroke-width="1.6" fill="#fff">
<path d="M-9,-8 L-3,-9.5 L-3,9.5 L-9,8 Z" fill="#fff"/>
<ellipse cx="-1" cy="0" rx="5.5" ry="12.5"/>
<path d="M2,-4.5 L44,-4.5 A2,4.5 0 0,1 44,4.5 L2,4.5 Z"/>
<path d="M6,-4.2 L7.5,4.2" stroke-width="1.1"/>
<path d="M10,-4.2 L11.5,4.2" stroke-width="1.1"/>
<path d="M14,-4.2 L15.5,4.2" stroke-width="1.1"/>
<path d="M18,-4.2 L19.5,4.2" stroke-width="1.1"/>
<path d="M22,-4.2 L23.5,4.2" stroke-width="1.1"/>
<path d="M26,-4.2 L27.5,4.2" stroke-width="1.1"/>
<path d="M30,-4.2 L31.5,4.2" stroke-width="1.1"/>
<path d="M34,-4.2 L35.5,4.2" stroke-width="1.1"/>
<path d="M38,-4.2 L39.5,4.2" stroke-width="1.1"/>
<path d="M42,-4.2 L43.5,4.2" stroke-width="1.1"/>
</g>
<line x1="1265.3" y1="1130" x2="1265.3" y2="1196.6" stroke="#000" stroke-width="1.8" stroke-dasharray="22 4 5 4"/>
<g transform="translate(1265.3,1228) rotate(-90)" stroke="#000" stroke-width="1.6" fill="#fff">
<path d="M-9,-8 L-3,-9.5 L-3,9.5 L-9,8 Z" fill="#fff"/>
<ellipse cx="-1" cy="0" rx="5.5" ry="12.5"/>
<path d="M2,-4.5 L32,-4.5 A2,4.5 0 0,1 32,4.5 L2,4.5 Z"/>
<path d="M6,-4.2 L7.5,4.2" stroke-width="1.1"/>
<path d="M10,-4.2 L11.5,4.2" stroke-width="1.1"/>
<path d="M14,-4.2 L15.5,4.2" stroke-width="1.1"/>
<path d="M18,-4.2 L19.5,4.2" stroke-width="1.1"/>
<path d="M22,-4.2 L23.5,4.2" stroke-width="1.1"/>
<path d="M26,-4.2 L27.5,4.2" stroke-width="1.1"/>
<path d="M30,-4.2 L31.5,4.2" stroke-width="1.1"/>
</g>
<text x="891.7" y="46.4" font-size="39.4" text-anchor="middle">49500R</text>
<line x1="888.3" y1="49.9" x2="888.3" y2="85" stroke="#000" stroke-width="2.15"/>
<text x="932" y="159.9" font-size="39.4" text-anchor="middle">1</text>
<line x1="932" y1="165.3" x2="932" y2="222.3" stroke="#000" stroke-width="2.15"/>
<text x="1030.8" y="199.4" font-size="39.4" text-anchor="middle">6</text>
<line x1="1034.2" y1="205.7" x2="1034.2" y2="262.7" stroke="#000" stroke-width="2.15"/>
<text x="760.1" y="309.6" font-size="39.4" text-anchor="middle">49571</text>
<line x1="758.6" y1="223.3" x2="758.6" y2="277" stroke="#000" stroke-width="2.15"/>
<text x="1072.6" y="446.4" font-size="39.4" text-anchor="middle">13</text>
<line x1="1072.6" y1="385.7" x2="1072.6" y2="418" stroke="#000" stroke-width="2.15"/>
<text x="536.8" y="488.2" font-size="39.4" text-anchor="middle">49551</text>
<line x1="539.2" y1="495" x2="539.2" y2="552.5" stroke="#000" stroke-width="2.15"/>
<text x="1157.7" y="304.8" font-size="39.4" text-anchor="middle">3</text>
<line x1="1160.1" y1="311.2" x2="1160.1" y2="365.8" stroke="#000" stroke-width="2.15"/>
<text x="1236.1" y="370.4" font-size="39.4" text-anchor="middle">7</text>
<line x1="1239.4" y1="377.7" x2="1239.4" y2="434.7" stroke="#000" stroke-width="2.15"/>
<text x="1452.2" y="352.8" font-size="39.4" text-anchor="middle">18</text>
<line x1="1370" y1="339.2" x2="1424.7" y2="339.2" stroke="#000" stroke-width="2.15"/>
<text x="1716.8" y="104.4" font-size="39.4" text-anchor="middle">495A2</text>
<line x1="1715.4" y1="111.6" x2="1715.4" y2="144.4" stroke="#000" stroke-width="2.15"/>
<text x="1951" y="250.2" font-size="39.4" text-anchor="middle">18</text>
<line x1="1868.8" y1="236.1" x2="1923.4" y2="236.1" stroke="#000" stroke-width="2.15"/>
<text x="1903" y="281.6" font-size="39.4" text-anchor="middle">15</text>
<line x1="1903.5" y1="294.5" x2="1903.5" y2="349.2" stroke="#000" stroke-width="2.15"/>
<text x="2150.5" y="315.8" font-size="39.4" text-anchor="middle">6</text>
<line x1="2152.4" y1="323" x2="2152.4" y2="377.7" stroke="#000" stroke-width="2.15"/>
<text x="1580.5" y="584.2" font-size="39.4" text-anchor="middle">11</text>
<line x1="1580.5" y1="591.4" x2="1580.5" y2="647" stroke="#000" stroke-width="2.15"/>
<text x="2192.4" y="561.1" font-size="39.4" text-anchor="middle">13</text>
<line x1="2192.4" y1="504" x2="2192.4" y2="531" stroke="#000" stroke-width="2.15"/>
<text x="2235.5" y="230.1" font-size="39.4" text-anchor="middle">495A4</text>
<line x1="2221.1" y1="236.1" x2="2221.1" y2="279.3" stroke="#000" stroke-width="2.15"/>
<text x="2276.7" y="420.3" font-size="39.4" text-anchor="middle">3</text>
<line x1="2279.1" y1="427.5" x2="2279.1" y2="482.2" stroke="#000" stroke-width="2.15"/>
<text x="2356" y="485.8" font-size="39.4" text-anchor="middle">7</text>
<line x1="2358.4" y1="494" x2="2358.4" y2="551" stroke="#000" stroke-width="2.15"/>
<text x="2408.3" y="511.5" font-size="39.4" text-anchor="middle">15</text>
<line x1="2410.2" y1="522.5" x2="2410.2" y2="576.2" stroke="#000" stroke-width="2.15"/>
<text x="2570.7" y="468.7" font-size="39.4" text-anchor="middle">18</text>
<line x1="2489" y1="455.1" x2="2543.7" y2="455.1" stroke="#000" stroke-width="2.15"/>
<text x="2754.1" y="74.9" font-size="39.4" text-anchor="middle">495R3</text>
<line x1="2753.6" y1="79.8" x2="2753.6" y2="124.9" stroke="#000" stroke-width="2.15"/>
<text x="2645.8" y="180.4" font-size="39.4" text-anchor="middle">9</text>
<line x1="2644.4" y1="191.4" x2="2644.4" y2="247" stroke="#000" stroke-width="2.15"/>
<text x="2722.7" y="205.5" font-size="39.4" text-anchor="middle">5</text>
<line x1="2724.2" y1="212.8" x2="2724.2" y2="267.4" stroke="#000" stroke-width="2.15"/>
<text x="2845.3" y="264.5" font-size="39.4" text-anchor="middle">8</text>
<line x1="2842.9" y1="267" x2="2842.9" y2="314.5" stroke="#000" stroke-width="2.15"/>
<text x="3117" y="290.6" font-size="39.4" text-anchor="middle">19</text>
<line x1="3034.4" y1="274.6" x2="3088.5" y2="274.6" stroke="#000" stroke-width="2.15"/>
<text x="2998.3" y="355.2" font-size="39.4" text-anchor="middle">2</text>
<line x1="2998.3" y1="358.7" x2="2998.3" y2="407.6" stroke="#000" stroke-width="2.15"/>
<text x="2895.2" y="485.8" font-size="39.4" text-anchor="middle">14</text>
<line x1="2893.8" y1="418" x2="2893.8" y2="448.9" stroke="#000" stroke-width="2.15"/>
<text x="3142.2" y="450.2" font-size="39.4" text-anchor="middle">15</text>
<line x1="3143.2" y1="461.7" x2="3143.2" y2="516.4" stroke="#000" stroke-width="2.15"/>
<text x="2825.4" y="614.1" font-size="39.4" text-anchor="middle">495R5</text>
<line x1="2825.8" y1="619" x2="2825.8" y2="663.6" stroke="#000" stroke-width="2.15"/>
<text x="2763.1" y="723.3" font-size="39.4" text-anchor="middle">9</text>
<line x1="2762.2" y1="731.6" x2="2762.2" y2="789.5" stroke="#000" stroke-width="2.15"/>
<text x="2840.6" y="748" font-size="39.4" text-anchor="middle">5</text>
<line x1="2842" y1="755.3" x2="2842" y2="809" stroke="#000" stroke-width="2.15"/>
<text x="2962.6" y="807.1" font-size="39.4" text-anchor="middle">8</text>
<line x1="2961.7" y1="808.6" x2="2961.7" y2="857.6" stroke="#000" stroke-width="2.15"/>
<text x="3124.6" y="813.2" font-size="39.4" text-anchor="middle">19</text>
<line x1="3042.5" y1="797.7" x2="3096.1" y2="797.7" stroke="#000" stroke-width="2.15"/>
<text x="3057.7" y="875" font-size="39.4" text-anchor="middle">15</text>
<line x1="3059.1" y1="888" x2="3059.1" y2="941.6" stroke="#000" stroke-width="2.15"/>
<text x="3012.5" y="1027" font-size="39.4" text-anchor="middle">14</text>
<line x1="3011.6" y1="960.6" x2="3011.6" y2="991.5" stroke="#000" stroke-width="2.15"/>
<text x="2297.6" y="973.3" font-size="39.4" text-anchor="middle">8</text>
<line x1="2296.6" y1="976.3" x2="2296.6" y2="1023.8" stroke="#000" stroke-width="2.15"/>
<text x="2569.8" y="998.5" font-size="39.4" text-anchor="middle">19</text>
<line x1="2487.6" y1="983.4" x2="2542.2" y2="983.4" stroke="#000" stroke-width="2.15"/>
<text x="2450.1" y="1065" font-size="39.4" text-anchor="middle">2</text>
<line x1="2450.1" y1="1067.5" x2="2450.1" y2="1117.4" stroke="#000" stroke-width="2.15"/>
<text x="2347.9" y="1192.3" font-size="39.4" text-anchor="middle">14</text>
<line x1="2346.5" y1="1124.5" x2="2346.5" y2="1157.8" stroke="#000" stroke-width="2.15"/>
<text x="2595" y="1158.6" font-size="39.4" text-anchor="middle">15</text>
<line x1="2596.4" y1="1170.6" x2="2596.4" y2="1224.3" stroke="#000" stroke-width="2.15"/>
<text x="2528.9" y="1355.7" font-size="39.4" text-anchor="middle">495R6</text>
<line x1="2528" y1="1364.4" x2="2528" y2="1389.6" stroke="#000" stroke-width="2.15"/>
<text x="2512.8" y="1461.7" font-size="39.4" text-anchor="middle">17</text>
<line x1="2511.8" y1="1465.1" x2="2511.8" y2="1523.6" stroke="#000" stroke-width="2.15"/>
<text x="2566" y="1486.8" font-size="39.4" text-anchor="middle">16</text>
<line x1="2572.2" y1="1492.7" x2="2572.2" y2="1540.2" stroke="#000" stroke-width="2.15"/>
<text x="1474.5" y="822.7" font-size="39.4" text-anchor="middle">1140FY</text>
<line x1="1474.1" y1="829.1" x2="1474.1" y2="865.6" stroke="#000" stroke-width="2.15"/>
<text x="1433.2" y="1011.3" font-size="39.4" text-anchor="middle">49548B</text>
<line x1="1438" y1="925" x2="1438" y2="967.8" stroke="#000" stroke-width="2.15"/>
<text x="1647.9" y="1002.3" font-size="39.4" text-anchor="middle">1140FY</text>
<line x1="1637" y1="927.4" x2="1637" y2="967.8" stroke="#000" stroke-width="2.15"/>
<text x="1138.7" y="1097.1" font-size="39.4" text-anchor="middle">49585</text>
<line x1="1203.8" y1="1080.8" x2="1258.4" y2="1080.8" stroke="#000" stroke-width="2.15"/>
<text x="1408" y="1243.1" font-size="39.4" text-anchor="middle">1140KD</text>
<line x1="1280.7" y1="1230" x2="1336.8" y2="1230" stroke="#000" stroke-width="2.15"/>
<text x="1905.4" y="783.3" font-size="39.4" text-anchor="middle">17</text>
<line x1="1904.4" y1="784.9" x2="1904.4" y2="841.9" stroke="#000" stroke-width="2.15"/>
<text x="1960.5" y="807.1" font-size="39.4" text-anchor="middle">16</text>
<line x1="1965.3" y1="813.4" x2="1965.3" y2="868" stroke="#000" stroke-width="2.15"/>
<text x="2036.5" y="865.5" font-size="39.4" text-anchor="middle">17</text>
<line x1="2036" y1="867.1" x2="2036" y2="924.1" stroke="#000" stroke-width="2.15"/>
<text x="2098.3" y="890.2" font-size="39.4" text-anchor="middle">9</text>
<line x1="2097.8" y1="900.3" x2="2097.8" y2="955.9" stroke="#000" stroke-width="2.15"/>
<text x="2176.2" y="913.9" font-size="39.4" text-anchor="middle">5</text>
<line x1="2176.6" y1="920.3" x2="2176.6" y2="977.3" stroke="#000" stroke-width="2.15"/>
<text x="1181.4" y="1410.4" font-size="39.4" text-anchor="middle">10</text>
<line x1="1176.7" y1="1418.1" x2="1176.7" y2="1471.3" stroke="#000" stroke-width="2.15"/>
<text x="1948.6" y="1511.5" font-size="39.4" text-anchor="middle">49551</text>
<line x1="1954.3" y1="1416.7" x2="1954.3" y2="1468.9" stroke="#000" stroke-width="2.15"/>
<text x="532" y="958.1" font-size="39.4" text-anchor="middle">49500L</text>
<line x1="533.9" y1="966.3" x2="533.9" y2="999.1" stroke="#000" stroke-width="2.15"/>
<text x="146.3" y="1137.2" font-size="39.4" text-anchor="middle">495A2</text>
<line x1="156.3" y1="1144.5" x2="156.3" y2="1177.3" stroke="#000" stroke-width="2.15"/>
<text x="581" y="1057.9" font-size="39.4" text-anchor="middle">2</text>
<line x1="581.9" y1="1065.2" x2="581.9" y2="1122.2" stroke="#000" stroke-width="2.15"/>
<text x="763.4" y="1095.9" font-size="39.4" text-anchor="middle">19</text>
<line x1="684.1" y1="1080.4" x2="738.7" y2="1080.4" stroke="#000" stroke-width="2.15"/>
<text x="424.2" y="1189.9" font-size="39.4" text-anchor="middle">15</text>
<line x1="421.8" y1="1100.8" x2="421.8" y2="1157.8" stroke="#000" stroke-width="2.15"/>
<text x="731.6" y="1132.9" font-size="39.4" text-anchor="middle">8</text>
<line x1="734.9" y1="1138.8" x2="734.9" y2="1193.4" stroke="#000" stroke-width="2.15"/>
<text x="829" y="1186.1" font-size="39.4" text-anchor="middle">4</text>
<line x1="827.5" y1="1193.4" x2="827.5" y2="1245.7" stroke="#000" stroke-width="2.15"/>
<text x="647" y="1306.3" font-size="39.4" text-anchor="middle">14</text>
<line x1="649.9" y1="1221.9" x2="649.9" y2="1274.2" stroke="#000" stroke-width="2.15"/>
<text x="924.9" y="1260.7" font-size="39.4" text-anchor="middle">9</text>
<line x1="925.9" y1="1280.3" x2="925.9" y2="1334.5" stroke="#000" stroke-width="2.15"/>
<text x="267.4" y="1322.5" font-size="39.4" text-anchor="middle">18</text>
<line x1="189.1" y1="1307.4" x2="243.2" y2="1307.4" stroke="#000" stroke-width="2.15"/>
<text x="99.8" y="1487.8" font-size="39.4" text-anchor="middle">15</text>
<line x1="97.9" y1="1397.7" x2="97.9" y2="1454.7" stroke="#000" stroke-width="2.15"/>
<text x="637.5" y="1437.9" font-size="39.4" text-anchor="middle">495A4</text>
<line x1="647" y1="1446.1" x2="647" y2="1478.4" stroke="#000" stroke-width="2.15"/>
<text x="195.2" y="1674.5" font-size="39.4" text-anchor="middle">495L3</text>
<line x1="195.2" y1="1681.8" x2="195.2" y2="1713.6" stroke="#000" stroke-width="2.15"/>
<text x="639.9" y="1562.9" font-size="39.4" text-anchor="middle">7</text>
<line x1="638.9" y1="1574.9" x2="638.9" y2="1628.6" stroke="#000" stroke-width="2.15"/>
<text x="741.1" y="1594.7" font-size="39.4" text-anchor="middle">3</text>
<line x1="739.2" y1="1604.8" x2="739.2" y2="1660.4" stroke="#000" stroke-width="2.15"/>
<text x="848.9" y="1648.4" font-size="39.4" text-anchor="middle">6</text>
<line x1="848.9" y1="1655.6" x2="848.9" y2="1710.3" stroke="#000" stroke-width="2.15"/>
<text x="915.4" y="1625.6" font-size="39.4" text-anchor="middle">18</text>
<line x1="916.8" y1="1629.5" x2="916.8" y2="1659" stroke="#000" stroke-width="2.15"/>
<text x="587.6" y="1736.2" font-size="39.4" text-anchor="middle">15</text>
<line x1="585.3" y1="1647.1" x2="585.3" y2="1703.1" stroke="#000" stroke-width="2.15"/>
<text x="916.8" y="1895.4" font-size="39.4" text-anchor="middle">13</text>
<line x1="914.9" y1="1823.3" x2="914.9" y2="1858.5" stroke="#000" stroke-width="2.15"/>
<text x="304" y="1854.1" font-size="39.4" text-anchor="middle">2</text>
<line x1="304" y1="1863.2" x2="304" y2="1916.9" stroke="#000" stroke-width="2.15"/>
<text x="484.5" y="1876.4" font-size="39.4" text-anchor="middle">19</text>
<line x1="404.7" y1="1859.9" x2="459.8" y2="1859.9" stroke="#000" stroke-width="2.15"/>
<text x="147.3" y="1985.6" font-size="39.4" text-anchor="middle">15</text>
<line x1="143.9" y1="1896.5" x2="143.9" y2="1952.5" stroke="#000" stroke-width="2.15"/>
<text x="453.7" y="1927.7" font-size="39.4" text-anchor="middle">8</text>
<line x1="457" y1="1933.5" x2="457" y2="1989.6" stroke="#000" stroke-width="2.15"/>
<text x="551" y="1983.3" font-size="39.4" text-anchor="middle">4</text>
<line x1="549.6" y1="1988.2" x2="549.6" y2="2042.8" stroke="#000" stroke-width="2.15"/>
<text x="370.5" y="2102" font-size="39.4" text-anchor="middle">14</text>
<line x1="373.9" y1="2016.7" x2="373.9" y2="2068.9" stroke="#000" stroke-width="2.15"/>
<text x="647.5" y="2056.9" font-size="39.4" text-anchor="middle">9</text>
<line x1="648.4" y1="2076.1" x2="648.4" y2="2130.7" stroke="#000" stroke-width="2.15"/>
<text x="1427" y="1553.4" font-size="39.4" text-anchor="middle">7</text>
<line x1="1426.1" y1="1564" x2="1426.1" y2="1620" stroke="#000" stroke-width="2.15"/>
<text x="1527.7" y="1585.2" font-size="39.4" text-anchor="middle">3</text>
<line x1="1526.8" y1="1593.9" x2="1526.8" y2="1649.9" stroke="#000" stroke-width="2.15"/>
<text x="1635.1" y="1638.9" font-size="39.4" text-anchor="middle">6</text>
<line x1="1633.7" y1="1648.5" x2="1633.7" y2="1701.7" stroke="#000" stroke-width="2.15"/>
<text x="1848.4" y="1736.2" font-size="39.4" text-anchor="middle">18</text>
<line x1="1765.7" y1="1724.5" x2="1819.9" y2="1724.5" stroke="#000" stroke-width="2.15"/>
<text x="1942.5" y="1812.3" font-size="39.4" text-anchor="middle">49571</text>
<line x1="1941.5" y1="1825.2" x2="1941.5" y2="1881.3" stroke="#000" stroke-width="2.15"/>
<text x="1703.5" y="1885.9" font-size="39.4" text-anchor="middle">13</text>
<line x1="1701.1" y1="1813.8" x2="1701.1" y2="1848" stroke="#000" stroke-width="2.15"/>
<text x="1797.6" y="1983.3" font-size="39.4" text-anchor="middle">1</text>
<line x1="1797.6" y1="1889.8" x2="1797.6" y2="1944" stroke="#000" stroke-width="2.15"/>
<text x="1148.7" y="1749.1" font-size="39.4" text-anchor="middle">495L5</text>
<line x1="1149.6" y1="1755.4" x2="1149.6" y2="1783.9" stroke="#000" stroke-width="2.15"/>
<text x="1308.3" y="1899.2" font-size="39.4" text-anchor="middle">19</text>
<line x1="1228.5" y1="1883.7" x2="1283.6" y2="1883.7" stroke="#000" stroke-width="2.15"/>
<text x="1277.4" y="1951.4" font-size="39.4" text-anchor="middle">8</text>
<line x1="1280.7" y1="1957.3" x2="1280.7" y2="2013.3" stroke="#000" stroke-width="2.15"/>
<text x="1374.8" y="2005.6" font-size="39.4" text-anchor="middle">4</text>
<line x1="1372.4" y1="2011.9" x2="1372.4" y2="2066.6" stroke="#000" stroke-width="2.15"/>
<text x="1149.1" y="2113" font-size="39.4" text-anchor="middle">15</text>
<line x1="1147.7" y1="2023.8" x2="1147.7" y2="2080.8" stroke="#000" stroke-width="2.15"/>
<text x="1194.3" y="2125.8" font-size="39.4" text-anchor="middle">14</text>
<line x1="1195.7" y1="2039" x2="1195.7" y2="2095.1" stroke="#000" stroke-width="2.15"/>
<text x="1469.8" y="2080.7" font-size="39.4" text-anchor="middle">9</text>
<line x1="1471.2" y1="2098.9" x2="1471.2" y2="2154.4" stroke="#000" stroke-width="2.15"/>
<text x="2649.1" y="1537.7" font-size="39.4" text-anchor="middle">17</text>
<line x1="2649.6" y1="1540.2" x2="2649.6" y2="1596.3" stroke="#000" stroke-width="2.15"/>
<text x="2691.9" y="1552.4" font-size="39.4" text-anchor="middle">9</text>
<line x1="2692.3" y1="1560.6" x2="2692.3" y2="1612.9" stroke="#000" stroke-width="2.15"/>
<text x="2772.6" y="1578.5" font-size="39.4" text-anchor="middle">5</text>
<line x1="2771.7" y1="1581.1" x2="2771.7" y2="1635.2" stroke="#000" stroke-width="2.15"/>
<text x="2876.2" y="1627" font-size="39.4" text-anchor="middle">8</text>
<line x1="2875.2" y1="1635.2" x2="2875.2" y2="1682.7" stroke="#000" stroke-width="2.15"/>
<text x="3002.1" y="1720.6" font-size="39.4" text-anchor="middle">2</text>
<line x1="3002.1" y1="1722.1" x2="3002.1" y2="1774.4" stroke="#000" stroke-width="2.15"/>
<text x="3201.6" y="1779" font-size="39.4" text-anchor="middle">19</text>
<line x1="3118.5" y1="1762.5" x2="3173.1" y2="1762.5" stroke="#000" stroke-width="2.15"/>
<text x="3150.3" y="1824.1" font-size="39.4" text-anchor="middle">18</text>
<line x1="3155" y1="1831.4" x2="3155" y2="1882.2" stroke="#000" stroke-width="2.15"/>
<text x="2928.4" y="1856.4" font-size="39.4" text-anchor="middle">14</text>
<line x1="2927" y1="1793.4" x2="2927" y2="1824.3" stroke="#000" stroke-width="2.15"/>
<text x="29.7" y="2227.4" font-size="56.3" text-anchor="start">FR.</text>
<circle cx="944" cy="2244.5" r="1.4" fill="#222"/>
</svg></body></html>
